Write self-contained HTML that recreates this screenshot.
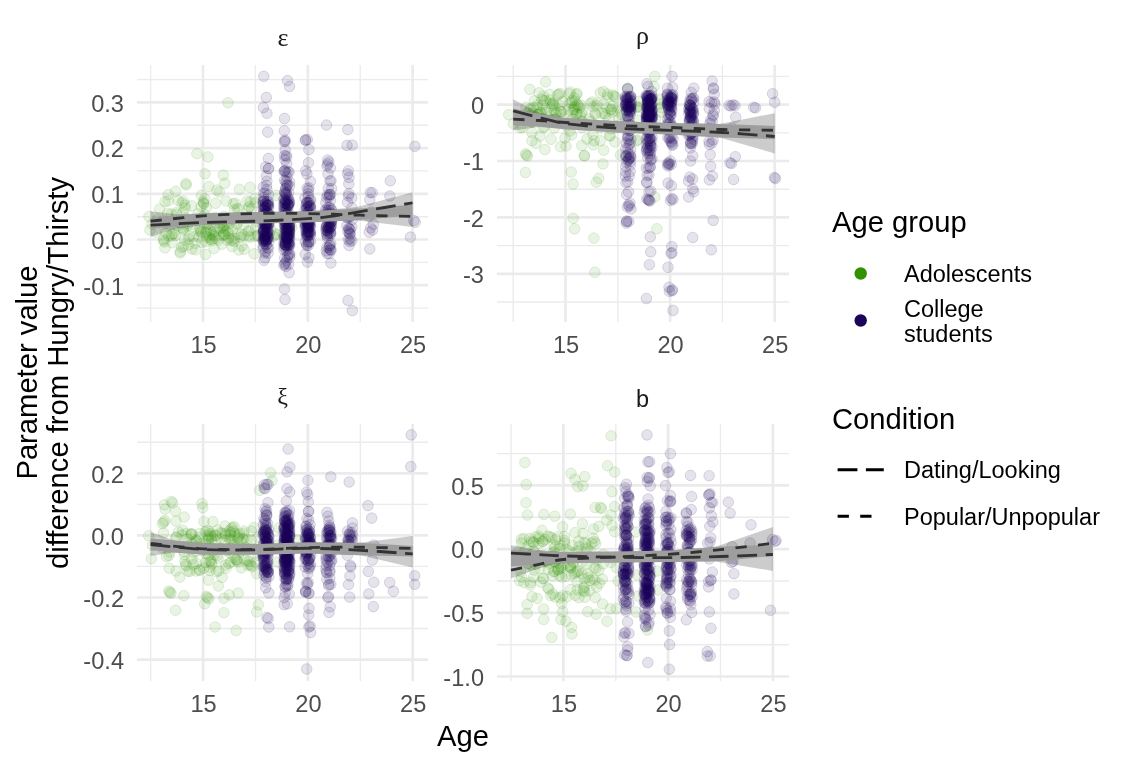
<!DOCTYPE html>
<html><head><meta charset="utf-8"><title>Parameter value difference by age</title>
<style>
html,body{margin:0;padding:0;background:#fff;}
svg{display:block;will-change:transform;}
text{font-family:"Liberation Sans",sans-serif;}
.tk{font-size:23.6px;fill:#4D4D4D;}
.ti{font-size:29.2px;fill:#000;}
.lg{font-size:23.5px;fill:#000;}
.st{font-size:23.5px;fill:#1A1A1A;}
.sy{font-family:"Liberation Serif",serif;font-size:26px;fill:#1A1A1A;}
</style></head><body>
<svg width="1128" height="768" viewBox="0 0 1128 768">
<rect width="1128" height="768" fill="#fff"/>
<!-- panel eps -->
<line x1="150.6" y1="65" x2="150.6" y2="322" stroke="#EBEBEB" stroke-width="1.35"/>
<line x1="255.4" y1="65" x2="255.4" y2="322" stroke="#EBEBEB" stroke-width="1.35"/>
<line x1="360.2" y1="65" x2="360.2" y2="322" stroke="#EBEBEB" stroke-width="1.35"/>
<line x1="137" y1="308.1" x2="428" y2="308.1" stroke="#EBEBEB" stroke-width="1.35"/>
<line x1="137" y1="262.4" x2="428" y2="262.4" stroke="#EBEBEB" stroke-width="1.35"/>
<line x1="137" y1="216.7" x2="428" y2="216.7" stroke="#EBEBEB" stroke-width="1.35"/>
<line x1="137" y1="170.9" x2="428" y2="170.9" stroke="#EBEBEB" stroke-width="1.35"/>
<line x1="137" y1="125.2" x2="428" y2="125.2" stroke="#EBEBEB" stroke-width="1.35"/>
<line x1="137" y1="79.6" x2="428" y2="79.6" stroke="#EBEBEB" stroke-width="1.35"/>
<line x1="203.0" y1="65" x2="203.0" y2="322" stroke="#EBEBEB" stroke-width="2.7"/>
<line x1="307.8" y1="65" x2="307.8" y2="322" stroke="#EBEBEB" stroke-width="2.7"/>
<line x1="412.6" y1="65" x2="412.6" y2="322" stroke="#EBEBEB" stroke-width="2.7"/>
<line x1="137" y1="285.2" x2="428" y2="285.2" stroke="#EBEBEB" stroke-width="2.7"/>
<line x1="137" y1="239.5" x2="428" y2="239.5" stroke="#EBEBEB" stroke-width="2.7"/>
<line x1="137" y1="193.8" x2="428" y2="193.8" stroke="#EBEBEB" stroke-width="2.7"/>
<line x1="137" y1="148.1" x2="428" y2="148.1" stroke="#EBEBEB" stroke-width="2.7"/>
<line x1="137" y1="102.4" x2="428" y2="102.4" stroke="#EBEBEB" stroke-width="2.7"/>
<g fill="#309200" fill-opacity="0.1" stroke="#309200" stroke-opacity="0.14" stroke-width="1">
<circle cx="227.9" cy="102.7" r="5.3"/>
<circle cx="196.9" cy="153.6" r="5.3"/>
<circle cx="207.9" cy="156.9" r="5.3"/>
<circle cx="205.0" cy="173.8" r="5.3"/>
<circle cx="223.3" cy="175.1" r="5.3"/>
<circle cx="185.9" cy="183.6" r="5.3"/>
<circle cx="224.8" cy="183.3" r="5.3"/>
<circle cx="186.2" cy="185.0" r="5.3"/>
<circle cx="175.6" cy="191.3" r="5.3"/>
<circle cx="168.3" cy="194.6" r="5.3"/>
<circle cx="178.2" cy="200.6" r="5.3"/>
<circle cx="159.6" cy="209.2" r="5.3"/>
<circle cx="149.0" cy="216.5" r="5.3"/>
<circle cx="208.8" cy="186.6" r="5.3"/>
<circle cx="216.8" cy="190.0" r="5.3"/>
<circle cx="219.4" cy="192.0" r="5.3"/>
<circle cx="201.5" cy="195.3" r="5.3"/>
<circle cx="203.5" cy="203.2" r="5.3"/>
<circle cx="191.5" cy="205.9" r="5.3"/>
<circle cx="215.5" cy="203.2" r="5.3"/>
<circle cx="235.4" cy="203.2" r="5.3"/>
<circle cx="239.4" cy="189.3" r="5.3"/>
<circle cx="250.0" cy="187.3" r="5.3"/>
<circle cx="250.0" cy="202.0" r="5.3"/>
<circle cx="182.9" cy="212.6" r="5.3"/>
<circle cx="163.6" cy="239.1" r="5.3"/>
<circle cx="163.6" cy="240.5" r="5.3"/>
<circle cx="164.5" cy="242.0" r="5.3"/>
<circle cx="164.9" cy="247.8" r="5.3"/>
<circle cx="180.2" cy="253.1" r="5.3"/>
<circle cx="180.2" cy="251.5" r="5.3"/>
<circle cx="195.5" cy="249.8" r="5.3"/>
<circle cx="205.5" cy="254.4" r="5.3"/>
<circle cx="214.1" cy="248.5" r="5.3"/>
<circle cx="232.1" cy="246.5" r="5.3"/>
<circle cx="242.0" cy="245.8" r="5.3"/>
<circle cx="254.0" cy="253.8" r="5.3"/>
<circle cx="276.0" cy="195.3" r="5.3"/>
<circle cx="276.0" cy="233.8" r="5.3"/>
<circle cx="150.0" cy="230.0" r="5.3"/>
<circle cx="152.0" cy="224.0" r="5.3"/>
<circle cx="157.0" cy="220.0" r="5.3"/>
<circle cx="156.0" cy="232.0" r="5.3"/>
<circle cx="240.2" cy="237.3" r="5.3"/>
<circle cx="248.6" cy="236.0" r="5.3"/>
<circle cx="214.9" cy="236.1" r="5.3"/>
<circle cx="209.6" cy="237.8" r="5.3"/>
<circle cx="180.6" cy="223.6" r="5.3"/>
<circle cx="222.0" cy="223.0" r="5.3"/>
<circle cx="229.2" cy="223.5" r="5.3"/>
<circle cx="198.4" cy="230.9" r="5.3"/>
<circle cx="164.2" cy="224.2" r="5.3"/>
<circle cx="237.2" cy="223.3" r="5.3"/>
<circle cx="220.1" cy="223.0" r="5.3"/>
<circle cx="172.0" cy="234.1" r="5.3"/>
<circle cx="223.8" cy="234.1" r="5.3"/>
<circle cx="228.6" cy="233.5" r="5.3"/>
<circle cx="222.1" cy="227.3" r="5.3"/>
<circle cx="187.3" cy="225.9" r="5.3"/>
<circle cx="234.6" cy="238.3" r="5.3"/>
<circle cx="200.9" cy="231.6" r="5.3"/>
<circle cx="218.4" cy="240.0" r="5.3"/>
<circle cx="207.1" cy="223.3" r="5.3"/>
<circle cx="182.2" cy="227.5" r="5.3"/>
<circle cx="209.4" cy="234.8" r="5.3"/>
<circle cx="231.7" cy="240.6" r="5.3"/>
<circle cx="177.8" cy="225.5" r="5.3"/>
<circle cx="206.7" cy="236.8" r="5.3"/>
<circle cx="173.8" cy="224.3" r="5.3"/>
<circle cx="199.2" cy="236.9" r="5.3"/>
<circle cx="210.7" cy="239.5" r="5.3"/>
<circle cx="171.5" cy="235.8" r="5.3"/>
<circle cx="248.9" cy="230.5" r="5.3"/>
<circle cx="183.4" cy="229.7" r="5.3"/>
<circle cx="224.7" cy="234.7" r="5.3"/>
<circle cx="224.0" cy="225.6" r="5.3"/>
<circle cx="216.4" cy="238.3" r="5.3"/>
<circle cx="237.6" cy="234.2" r="5.3"/>
<circle cx="257.6" cy="235.8" r="5.3"/>
<circle cx="255.3" cy="236.3" r="5.3"/>
<circle cx="167.7" cy="223.7" r="5.3"/>
<circle cx="183.3" cy="228.5" r="5.3"/>
<circle cx="208.7" cy="223.5" r="5.3"/>
<circle cx="189.2" cy="236.4" r="5.3"/>
<circle cx="227.7" cy="230.6" r="5.3"/>
<circle cx="243.8" cy="235.8" r="5.3"/>
<circle cx="212.3" cy="238.8" r="5.3"/>
<circle cx="166.2" cy="232.9" r="5.3"/>
<circle cx="188.7" cy="238.9" r="5.3"/>
<circle cx="219.9" cy="228.6" r="5.3"/>
<circle cx="213.1" cy="234.8" r="5.3"/>
<circle cx="210.5" cy="224.8" r="5.3"/>
<circle cx="243.8" cy="224.7" r="5.3"/>
<circle cx="200.1" cy="228.1" r="5.3"/>
<circle cx="255.7" cy="228.0" r="5.3"/>
<circle cx="236.7" cy="224.1" r="5.3"/>
<circle cx="175.2" cy="235.4" r="5.3"/>
<circle cx="173.9" cy="233.7" r="5.3"/>
<circle cx="217.8" cy="228.1" r="5.3"/>
<circle cx="223.5" cy="233.4" r="5.3"/>
<circle cx="232.5" cy="229.4" r="5.3"/>
<circle cx="206.5" cy="231.1" r="5.3"/>
<circle cx="193.4" cy="236.7" r="5.3"/>
<circle cx="258.0" cy="235.6" r="5.3"/>
<circle cx="200.0" cy="229.3" r="5.3"/>
<circle cx="210.6" cy="230.5" r="5.3"/>
<circle cx="184.5" cy="240.2" r="5.3"/>
<circle cx="223.6" cy="228.3" r="5.3"/>
<circle cx="250.1" cy="237.2" r="5.3"/>
<circle cx="169.0" cy="236.3" r="5.3"/>
<circle cx="206.7" cy="224.4" r="5.3"/>
<circle cx="188.0" cy="223.6" r="5.3"/>
<circle cx="241.6" cy="234.4" r="5.3"/>
<circle cx="225.8" cy="231.3" r="5.3"/>
<circle cx="201.1" cy="232.1" r="5.3"/>
<circle cx="189.5" cy="225.3" r="5.3"/>
<circle cx="232.9" cy="239.8" r="5.3"/>
<circle cx="205.9" cy="232.8" r="5.3"/>
<circle cx="227.3" cy="240.1" r="5.3"/>
<circle cx="212.0" cy="240.7" r="5.3"/>
<circle cx="248.3" cy="231.7" r="5.3"/>
<circle cx="213.9" cy="231.7" r="5.3"/>
<circle cx="222.9" cy="235.4" r="5.3"/>
<circle cx="228.7" cy="238.0" r="5.3"/>
<circle cx="211.7" cy="232.9" r="5.3"/>
<circle cx="255.6" cy="202.7" r="5.3"/>
<circle cx="247.0" cy="201.3" r="5.3"/>
<circle cx="176.8" cy="214.3" r="5.3"/>
<circle cx="176.2" cy="212.7" r="5.3"/>
<circle cx="226.2" cy="201.1" r="5.3"/>
<circle cx="237.4" cy="208.6" r="5.3"/>
<circle cx="254.8" cy="198.3" r="5.3"/>
<circle cx="167.7" cy="213.5" r="5.3"/>
<circle cx="185.2" cy="208.1" r="5.3"/>
<circle cx="249.1" cy="206.6" r="5.3"/>
<circle cx="165.0" cy="201.6" r="5.3"/>
<circle cx="214.4" cy="217.4" r="5.3"/>
<circle cx="234.3" cy="209.8" r="5.3"/>
<circle cx="183.5" cy="201.2" r="5.3"/>
<circle cx="181.9" cy="203.0" r="5.3"/>
<circle cx="248.9" cy="208.2" r="5.3"/>
<circle cx="171.4" cy="214.0" r="5.3"/>
<circle cx="204.8" cy="198.7" r="5.3"/>
<circle cx="256.0" cy="221.7" r="5.3"/>
<circle cx="185.7" cy="218.8" r="5.3"/>
<circle cx="204.6" cy="214.8" r="5.3"/>
<circle cx="224.0" cy="216.3" r="5.3"/>
<circle cx="203.2" cy="201.7" r="5.3"/>
<circle cx="238.8" cy="209.0" r="5.3"/>
<circle cx="203.3" cy="217.0" r="5.3"/>
<circle cx="227.2" cy="222.7" r="5.3"/>
<circle cx="198.0" cy="213.9" r="5.3"/>
<circle cx="168.2" cy="200.8" r="5.3"/>
<circle cx="185.0" cy="205.0" r="5.3"/>
<circle cx="203.7" cy="203.7" r="5.3"/>
<circle cx="251.7" cy="208.7" r="5.3"/>
<circle cx="197.5" cy="220.6" r="5.3"/>
<circle cx="238.0" cy="217.3" r="5.3"/>
<circle cx="249.6" cy="216.4" r="5.3"/>
<circle cx="190.0" cy="222.0" r="5.3"/>
<circle cx="162.7" cy="220.4" r="5.3"/>
<circle cx="201.1" cy="206.4" r="5.3"/>
<circle cx="206.5" cy="208.0" r="5.3"/>
<circle cx="244.3" cy="218.2" r="5.3"/>
<circle cx="233.2" cy="203.8" r="5.3"/>
<circle cx="205.9" cy="241.7" r="5.3"/>
<circle cx="234.1" cy="241.4" r="5.3"/>
<circle cx="201.8" cy="242.4" r="5.3"/>
<circle cx="244.2" cy="249.3" r="5.3"/>
<circle cx="191.9" cy="248.9" r="5.3"/>
<circle cx="181.6" cy="247.4" r="5.3"/>
<circle cx="188.3" cy="245.0" r="5.3"/>
<circle cx="221.8" cy="244.2" r="5.3"/>
<circle cx="183.4" cy="246.3" r="5.3"/>
<circle cx="238.8" cy="250.0" r="5.3"/>
<circle cx="195.0" cy="243.3" r="5.3"/>
<circle cx="172.1" cy="242.8" r="5.3"/>
<circle cx="270.8" cy="230.0" r="5.3"/>
<circle cx="291.8" cy="227.3" r="5.3"/>
<circle cx="289.4" cy="230.9" r="5.3"/>
<circle cx="276.9" cy="234.7" r="5.3"/>
<circle cx="283.1" cy="233.9" r="5.3"/>
<circle cx="273.5" cy="236.3" r="5.3"/>
</g>
<g fill="#1D0458" fill-opacity="0.11" stroke="#1D0458" stroke-opacity="0.14" stroke-width="1">
<circle cx="263.7" cy="193.0" r="5.3"/>
<circle cx="266.5" cy="185.5" r="5.3"/>
<circle cx="263.8" cy="199.9" r="5.3"/>
<circle cx="263.3" cy="187.1" r="5.3"/>
<circle cx="268.6" cy="195.0" r="5.3"/>
<circle cx="265.1" cy="193.2" r="5.3"/>
<circle cx="266.9" cy="189.4" r="5.3"/>
<circle cx="263.7" cy="197.6" r="5.3"/>
<circle cx="266.9" cy="211.8" r="5.3"/>
<circle cx="267.8" cy="212.5" r="5.3"/>
<circle cx="268.8" cy="205.3" r="5.3"/>
<circle cx="266.2" cy="211.2" r="5.3"/>
<circle cx="265.0" cy="213.4" r="5.3"/>
<circle cx="264.3" cy="217.8" r="5.3"/>
<circle cx="268.1" cy="203.7" r="5.3"/>
<circle cx="265.7" cy="206.8" r="5.3"/>
<circle cx="263.4" cy="219.8" r="5.3"/>
<circle cx="265.5" cy="204.1" r="5.3"/>
<circle cx="266.9" cy="205.2" r="5.3"/>
<circle cx="268.3" cy="205.6" r="5.3"/>
<circle cx="263.1" cy="205.2" r="5.3"/>
<circle cx="265.0" cy="210.8" r="5.3"/>
<circle cx="268.3" cy="215.6" r="5.3"/>
<circle cx="264.9" cy="201.4" r="5.3"/>
<circle cx="263.8" cy="221.9" r="5.3"/>
<circle cx="265.6" cy="215.5" r="5.3"/>
<circle cx="263.2" cy="201.7" r="5.3"/>
<circle cx="268.0" cy="213.3" r="5.3"/>
<circle cx="264.7" cy="207.7" r="5.3"/>
<circle cx="263.4" cy="204.6" r="5.3"/>
<circle cx="263.0" cy="218.6" r="5.3"/>
<circle cx="265.7" cy="203.7" r="5.3"/>
<circle cx="267.3" cy="205.1" r="5.3"/>
<circle cx="263.3" cy="213.6" r="5.3"/>
<circle cx="268.3" cy="201.6" r="5.3"/>
<circle cx="267.7" cy="205.0" r="5.3"/>
<circle cx="263.4" cy="201.4" r="5.3"/>
<circle cx="264.6" cy="216.3" r="5.3"/>
<circle cx="265.8" cy="218.9" r="5.3"/>
<circle cx="264.2" cy="207.6" r="5.3"/>
<circle cx="264.4" cy="221.5" r="5.3"/>
<circle cx="268.5" cy="208.2" r="5.3"/>
<circle cx="265.5" cy="207.6" r="5.3"/>
<circle cx="267.4" cy="201.8" r="5.3"/>
<circle cx="263.3" cy="209.5" r="5.3"/>
<circle cx="264.4" cy="218.7" r="5.3"/>
<circle cx="267.3" cy="212.5" r="5.3"/>
<circle cx="266.8" cy="215.5" r="5.3"/>
<circle cx="267.6" cy="220.5" r="5.3"/>
<circle cx="263.8" cy="214.1" r="5.3"/>
<circle cx="263.7" cy="210.3" r="5.3"/>
<circle cx="267.6" cy="219.8" r="5.3"/>
<circle cx="267.4" cy="222.8" r="5.3"/>
<circle cx="265.0" cy="225.6" r="5.3"/>
<circle cx="268.9" cy="225.2" r="5.3"/>
<circle cx="264.3" cy="229.9" r="5.3"/>
<circle cx="263.2" cy="241.1" r="5.3"/>
<circle cx="266.7" cy="225.5" r="5.3"/>
<circle cx="265.9" cy="223.7" r="5.3"/>
<circle cx="266.5" cy="227.1" r="5.3"/>
<circle cx="263.1" cy="224.5" r="5.3"/>
<circle cx="266.2" cy="236.0" r="5.3"/>
<circle cx="264.8" cy="236.2" r="5.3"/>
<circle cx="265.0" cy="224.9" r="5.3"/>
<circle cx="264.8" cy="230.7" r="5.3"/>
<circle cx="268.4" cy="224.5" r="5.3"/>
<circle cx="263.4" cy="234.4" r="5.3"/>
<circle cx="268.7" cy="242.0" r="5.3"/>
<circle cx="267.1" cy="223.5" r="5.3"/>
<circle cx="267.7" cy="237.0" r="5.3"/>
<circle cx="263.7" cy="232.2" r="5.3"/>
<circle cx="263.2" cy="239.6" r="5.3"/>
<circle cx="267.2" cy="239.7" r="5.3"/>
<circle cx="267.4" cy="227.9" r="5.3"/>
<circle cx="267.6" cy="227.5" r="5.3"/>
<circle cx="263.7" cy="230.6" r="5.3"/>
<circle cx="265.9" cy="228.3" r="5.3"/>
<circle cx="266.5" cy="235.3" r="5.3"/>
<circle cx="264.3" cy="235.7" r="5.3"/>
<circle cx="265.0" cy="238.2" r="5.3"/>
<circle cx="264.6" cy="239.6" r="5.3"/>
<circle cx="265.4" cy="234.2" r="5.3"/>
<circle cx="266.9" cy="233.4" r="5.3"/>
<circle cx="264.4" cy="243.5" r="5.3"/>
<circle cx="263.5" cy="229.1" r="5.3"/>
<circle cx="266.2" cy="222.6" r="5.3"/>
<circle cx="263.8" cy="239.6" r="5.3"/>
<circle cx="267.6" cy="236.0" r="5.3"/>
<circle cx="268.3" cy="238.6" r="5.3"/>
<circle cx="264.7" cy="236.2" r="5.3"/>
<circle cx="264.9" cy="238.5" r="5.3"/>
<circle cx="265.2" cy="225.4" r="5.3"/>
<circle cx="268.1" cy="237.2" r="5.3"/>
<circle cx="267.3" cy="234.3" r="5.3"/>
<circle cx="267.6" cy="231.9" r="5.3"/>
<circle cx="266.3" cy="223.4" r="5.3"/>
<circle cx="266.2" cy="239.9" r="5.3"/>
<circle cx="267.1" cy="239.7" r="5.3"/>
<circle cx="265.9" cy="241.4" r="5.3"/>
<circle cx="263.5" cy="241.3" r="5.3"/>
<circle cx="265.1" cy="224.0" r="5.3"/>
<circle cx="266.6" cy="232.0" r="5.3"/>
<circle cx="265.5" cy="240.7" r="5.3"/>
<circle cx="263.7" cy="235.6" r="5.3"/>
<circle cx="265.4" cy="233.6" r="5.3"/>
<circle cx="265.9" cy="225.0" r="5.3"/>
<circle cx="266.0" cy="241.0" r="5.3"/>
<circle cx="263.9" cy="222.3" r="5.3"/>
<circle cx="263.3" cy="232.1" r="5.3"/>
<circle cx="268.7" cy="223.0" r="5.3"/>
<circle cx="268.8" cy="233.8" r="5.3"/>
<circle cx="263.6" cy="231.2" r="5.3"/>
<circle cx="264.1" cy="237.7" r="5.3"/>
<circle cx="266.1" cy="228.3" r="5.3"/>
<circle cx="264.4" cy="241.1" r="5.3"/>
<circle cx="267.5" cy="231.6" r="5.3"/>
<circle cx="265.3" cy="238.2" r="5.3"/>
<circle cx="268.7" cy="223.8" r="5.3"/>
<circle cx="263.8" cy="230.0" r="5.3"/>
<circle cx="265.9" cy="244.7" r="5.3"/>
<circle cx="263.2" cy="246.2" r="5.3"/>
<circle cx="265.2" cy="251.4" r="5.3"/>
<circle cx="266.5" cy="244.3" r="5.3"/>
<circle cx="263.2" cy="248.5" r="5.3"/>
<circle cx="268.1" cy="253.1" r="5.3"/>
<circle cx="265.1" cy="252.9" r="5.3"/>
<circle cx="268.5" cy="248.1" r="5.3"/>
<circle cx="267.4" cy="247.7" r="5.3"/>
<circle cx="263.8" cy="76.3" r="5.3"/>
<circle cx="266.3" cy="97.4" r="5.3"/>
<circle cx="263.4" cy="107.5" r="5.3"/>
<circle cx="266.9" cy="113.3" r="5.3"/>
<circle cx="267.7" cy="132.1" r="5.3"/>
<circle cx="268.4" cy="158.4" r="5.3"/>
<circle cx="265.6" cy="166.9" r="5.3"/>
<circle cx="268.3" cy="168.7" r="5.3"/>
<circle cx="268.7" cy="168.5" r="5.3"/>
<circle cx="266.4" cy="176.0" r="5.3"/>
<circle cx="266.9" cy="181.3" r="5.3"/>
<circle cx="265.1" cy="257.7" r="5.3"/>
<circle cx="264.0" cy="260.3" r="5.3"/>
<circle cx="285.6" cy="188.6" r="5.3"/>
<circle cx="285.8" cy="188.3" r="5.3"/>
<circle cx="286.9" cy="185.4" r="5.3"/>
<circle cx="289.6" cy="182.0" r="5.3"/>
<circle cx="286.8" cy="181.9" r="5.3"/>
<circle cx="289.5" cy="185.9" r="5.3"/>
<circle cx="285.8" cy="182.0" r="5.3"/>
<circle cx="287.4" cy="184.8" r="5.3"/>
<circle cx="284.6" cy="180.4" r="5.3"/>
<circle cx="286.2" cy="208.9" r="5.3"/>
<circle cx="287.0" cy="218.1" r="5.3"/>
<circle cx="289.3" cy="219.2" r="5.3"/>
<circle cx="288.6" cy="205.9" r="5.3"/>
<circle cx="287.0" cy="203.5" r="5.3"/>
<circle cx="286.2" cy="193.2" r="5.3"/>
<circle cx="288.6" cy="199.1" r="5.3"/>
<circle cx="284.0" cy="205.5" r="5.3"/>
<circle cx="288.1" cy="204.6" r="5.3"/>
<circle cx="286.0" cy="211.1" r="5.3"/>
<circle cx="284.8" cy="192.3" r="5.3"/>
<circle cx="287.4" cy="207.4" r="5.3"/>
<circle cx="289.0" cy="204.1" r="5.3"/>
<circle cx="288.6" cy="192.5" r="5.3"/>
<circle cx="284.0" cy="209.4" r="5.3"/>
<circle cx="285.2" cy="194.0" r="5.3"/>
<circle cx="284.6" cy="202.9" r="5.3"/>
<circle cx="285.9" cy="208.3" r="5.3"/>
<circle cx="289.2" cy="202.6" r="5.3"/>
<circle cx="284.9" cy="208.8" r="5.3"/>
<circle cx="283.9" cy="203.2" r="5.3"/>
<circle cx="285.7" cy="203.2" r="5.3"/>
<circle cx="284.1" cy="208.1" r="5.3"/>
<circle cx="287.6" cy="213.7" r="5.3"/>
<circle cx="289.6" cy="202.3" r="5.3"/>
<circle cx="287.8" cy="204.8" r="5.3"/>
<circle cx="285.1" cy="217.8" r="5.3"/>
<circle cx="288.3" cy="219.3" r="5.3"/>
<circle cx="288.8" cy="218.6" r="5.3"/>
<circle cx="284.6" cy="192.5" r="5.3"/>
<circle cx="285.0" cy="204.0" r="5.3"/>
<circle cx="288.0" cy="204.7" r="5.3"/>
<circle cx="286.9" cy="214.1" r="5.3"/>
<circle cx="284.3" cy="211.7" r="5.3"/>
<circle cx="284.1" cy="199.2" r="5.3"/>
<circle cx="288.2" cy="211.8" r="5.3"/>
<circle cx="286.3" cy="200.5" r="5.3"/>
<circle cx="288.8" cy="200.0" r="5.3"/>
<circle cx="284.0" cy="199.2" r="5.3"/>
<circle cx="284.0" cy="215.5" r="5.3"/>
<circle cx="284.6" cy="220.2" r="5.3"/>
<circle cx="285.1" cy="200.9" r="5.3"/>
<circle cx="287.4" cy="200.9" r="5.3"/>
<circle cx="286.1" cy="195.0" r="5.3"/>
<circle cx="286.2" cy="192.7" r="5.3"/>
<circle cx="285.2" cy="218.4" r="5.3"/>
<circle cx="285.5" cy="199.9" r="5.3"/>
<circle cx="287.9" cy="217.6" r="5.3"/>
<circle cx="285.6" cy="202.9" r="5.3"/>
<circle cx="288.1" cy="215.0" r="5.3"/>
<circle cx="287.5" cy="197.2" r="5.3"/>
<circle cx="284.9" cy="214.0" r="5.3"/>
<circle cx="288.1" cy="218.0" r="5.3"/>
<circle cx="288.5" cy="204.2" r="5.3"/>
<circle cx="284.6" cy="217.8" r="5.3"/>
<circle cx="288.0" cy="235.4" r="5.3"/>
<circle cx="287.9" cy="230.6" r="5.3"/>
<circle cx="285.9" cy="235.4" r="5.3"/>
<circle cx="286.7" cy="238.7" r="5.3"/>
<circle cx="289.5" cy="242.2" r="5.3"/>
<circle cx="286.2" cy="230.3" r="5.3"/>
<circle cx="289.4" cy="230.9" r="5.3"/>
<circle cx="288.6" cy="223.3" r="5.3"/>
<circle cx="286.5" cy="233.9" r="5.3"/>
<circle cx="288.7" cy="242.9" r="5.3"/>
<circle cx="284.8" cy="236.4" r="5.3"/>
<circle cx="287.6" cy="224.8" r="5.3"/>
<circle cx="288.8" cy="234.8" r="5.3"/>
<circle cx="289.6" cy="225.7" r="5.3"/>
<circle cx="287.0" cy="229.1" r="5.3"/>
<circle cx="287.7" cy="236.2" r="5.3"/>
<circle cx="286.9" cy="229.1" r="5.3"/>
<circle cx="286.9" cy="230.3" r="5.3"/>
<circle cx="289.2" cy="232.5" r="5.3"/>
<circle cx="286.7" cy="227.5" r="5.3"/>
<circle cx="285.4" cy="244.8" r="5.3"/>
<circle cx="285.7" cy="242.7" r="5.3"/>
<circle cx="287.4" cy="245.5" r="5.3"/>
<circle cx="284.8" cy="244.5" r="5.3"/>
<circle cx="288.5" cy="235.2" r="5.3"/>
<circle cx="288.1" cy="239.1" r="5.3"/>
<circle cx="286.5" cy="236.9" r="5.3"/>
<circle cx="285.2" cy="221.5" r="5.3"/>
<circle cx="287.9" cy="232.9" r="5.3"/>
<circle cx="289.3" cy="227.6" r="5.3"/>
<circle cx="288.7" cy="245.7" r="5.3"/>
<circle cx="289.2" cy="245.1" r="5.3"/>
<circle cx="284.8" cy="225.1" r="5.3"/>
<circle cx="285.2" cy="230.0" r="5.3"/>
<circle cx="284.5" cy="224.8" r="5.3"/>
<circle cx="284.0" cy="244.3" r="5.3"/>
<circle cx="286.0" cy="236.7" r="5.3"/>
<circle cx="286.6" cy="239.6" r="5.3"/>
<circle cx="288.7" cy="230.6" r="5.3"/>
<circle cx="287.1" cy="223.4" r="5.3"/>
<circle cx="285.6" cy="226.6" r="5.3"/>
<circle cx="285.7" cy="229.1" r="5.3"/>
<circle cx="287.3" cy="229.3" r="5.3"/>
<circle cx="285.8" cy="241.8" r="5.3"/>
<circle cx="283.9" cy="221.1" r="5.3"/>
<circle cx="284.2" cy="242.6" r="5.3"/>
<circle cx="287.6" cy="239.2" r="5.3"/>
<circle cx="289.6" cy="226.5" r="5.3"/>
<circle cx="289.4" cy="227.1" r="5.3"/>
<circle cx="287.0" cy="238.0" r="5.3"/>
<circle cx="288.6" cy="227.2" r="5.3"/>
<circle cx="286.7" cy="222.1" r="5.3"/>
<circle cx="285.6" cy="245.5" r="5.3"/>
<circle cx="289.3" cy="235.6" r="5.3"/>
<circle cx="288.6" cy="243.6" r="5.3"/>
<circle cx="285.8" cy="245.5" r="5.3"/>
<circle cx="286.5" cy="225.0" r="5.3"/>
<circle cx="287.0" cy="235.8" r="5.3"/>
<circle cx="288.0" cy="237.8" r="5.3"/>
<circle cx="284.1" cy="237.0" r="5.3"/>
<circle cx="289.4" cy="237.8" r="5.3"/>
<circle cx="289.7" cy="233.8" r="5.3"/>
<circle cx="288.7" cy="224.5" r="5.3"/>
<circle cx="289.2" cy="231.9" r="5.3"/>
<circle cx="289.1" cy="229.0" r="5.3"/>
<circle cx="287.6" cy="242.2" r="5.3"/>
<circle cx="288.1" cy="236.5" r="5.3"/>
<circle cx="289.7" cy="223.2" r="5.3"/>
<circle cx="284.5" cy="234.8" r="5.3"/>
<circle cx="289.6" cy="238.2" r="5.3"/>
<circle cx="285.7" cy="223.7" r="5.3"/>
<circle cx="286.5" cy="233.0" r="5.3"/>
<circle cx="286.6" cy="236.5" r="5.3"/>
<circle cx="285.5" cy="243.0" r="5.3"/>
<circle cx="285.6" cy="223.7" r="5.3"/>
<circle cx="285.9" cy="244.4" r="5.3"/>
<circle cx="284.8" cy="227.9" r="5.3"/>
<circle cx="289.4" cy="229.7" r="5.3"/>
<circle cx="288.9" cy="222.1" r="5.3"/>
<circle cx="289.2" cy="226.9" r="5.3"/>
<circle cx="284.9" cy="239.6" r="5.3"/>
<circle cx="289.8" cy="245.0" r="5.3"/>
<circle cx="288.4" cy="243.9" r="5.3"/>
<circle cx="289.8" cy="253.7" r="5.3"/>
<circle cx="284.7" cy="257.9" r="5.3"/>
<circle cx="286.2" cy="250.4" r="5.3"/>
<circle cx="286.8" cy="246.5" r="5.3"/>
<circle cx="284.0" cy="249.7" r="5.3"/>
<circle cx="287.4" cy="256.5" r="5.3"/>
<circle cx="289.6" cy="257.5" r="5.3"/>
<circle cx="289.5" cy="254.9" r="5.3"/>
<circle cx="288.2" cy="254.2" r="5.3"/>
<circle cx="284.3" cy="246.9" r="5.3"/>
<circle cx="288.4" cy="248.8" r="5.3"/>
<circle cx="288.6" cy="264.2" r="5.3"/>
<circle cx="283.9" cy="265.1" r="5.3"/>
<circle cx="286.5" cy="260.7" r="5.3"/>
<circle cx="285.4" cy="262.8" r="5.3"/>
<circle cx="285.9" cy="266.4" r="5.3"/>
<circle cx="284.8" cy="264.0" r="5.3"/>
<circle cx="287.5" cy="80.6" r="5.3"/>
<circle cx="289.5" cy="86.4" r="5.3"/>
<circle cx="284.5" cy="118.4" r="5.3"/>
<circle cx="284.3" cy="130.8" r="5.3"/>
<circle cx="285.0" cy="140.0" r="5.3"/>
<circle cx="285.2" cy="141.5" r="5.3"/>
<circle cx="284.3" cy="141.6" r="5.3"/>
<circle cx="285.2" cy="150.0" r="5.3"/>
<circle cx="286.7" cy="156.7" r="5.3"/>
<circle cx="286.0" cy="155.5" r="5.3"/>
<circle cx="284.4" cy="155.7" r="5.3"/>
<circle cx="284.9" cy="159.8" r="5.3"/>
<circle cx="286.7" cy="163.7" r="5.3"/>
<circle cx="289.1" cy="172.1" r="5.3"/>
<circle cx="285.1" cy="170.5" r="5.3"/>
<circle cx="284.2" cy="171.4" r="5.3"/>
<circle cx="286.0" cy="172.0" r="5.3"/>
<circle cx="284.3" cy="171.0" r="5.3"/>
<circle cx="288.0" cy="171.8" r="5.3"/>
<circle cx="286.9" cy="177.0" r="5.3"/>
<circle cx="289.2" cy="272.6" r="5.3"/>
<circle cx="284.5" cy="289.0" r="5.3"/>
<circle cx="285.0" cy="299.5" r="5.3"/>
<circle cx="308.2" cy="193.9" r="5.3"/>
<circle cx="310.7" cy="199.7" r="5.3"/>
<circle cx="308.3" cy="196.6" r="5.3"/>
<circle cx="309.0" cy="187.9" r="5.3"/>
<circle cx="308.4" cy="190.3" r="5.3"/>
<circle cx="307.0" cy="188.2" r="5.3"/>
<circle cx="304.9" cy="198.0" r="5.3"/>
<circle cx="309.1" cy="216.5" r="5.3"/>
<circle cx="306.5" cy="209.2" r="5.3"/>
<circle cx="305.9" cy="213.2" r="5.3"/>
<circle cx="309.8" cy="217.1" r="5.3"/>
<circle cx="310.4" cy="205.7" r="5.3"/>
<circle cx="309.0" cy="202.8" r="5.3"/>
<circle cx="308.0" cy="202.4" r="5.3"/>
<circle cx="308.0" cy="211.9" r="5.3"/>
<circle cx="306.9" cy="207.7" r="5.3"/>
<circle cx="309.1" cy="210.6" r="5.3"/>
<circle cx="307.2" cy="202.5" r="5.3"/>
<circle cx="306.5" cy="218.6" r="5.3"/>
<circle cx="310.6" cy="208.2" r="5.3"/>
<circle cx="310.0" cy="219.2" r="5.3"/>
<circle cx="306.1" cy="206.0" r="5.3"/>
<circle cx="309.0" cy="206.7" r="5.3"/>
<circle cx="310.5" cy="208.0" r="5.3"/>
<circle cx="309.2" cy="215.6" r="5.3"/>
<circle cx="306.1" cy="219.1" r="5.3"/>
<circle cx="306.8" cy="202.4" r="5.3"/>
<circle cx="305.1" cy="209.9" r="5.3"/>
<circle cx="308.6" cy="206.0" r="5.3"/>
<circle cx="309.9" cy="205.9" r="5.3"/>
<circle cx="309.9" cy="200.7" r="5.3"/>
<circle cx="306.4" cy="203.5" r="5.3"/>
<circle cx="307.5" cy="207.7" r="5.3"/>
<circle cx="307.2" cy="218.7" r="5.3"/>
<circle cx="308.3" cy="213.3" r="5.3"/>
<circle cx="307.1" cy="217.8" r="5.3"/>
<circle cx="307.8" cy="234.7" r="5.3"/>
<circle cx="310.3" cy="232.4" r="5.3"/>
<circle cx="307.4" cy="226.5" r="5.3"/>
<circle cx="310.3" cy="235.0" r="5.3"/>
<circle cx="309.6" cy="225.8" r="5.3"/>
<circle cx="307.4" cy="237.0" r="5.3"/>
<circle cx="306.3" cy="235.8" r="5.3"/>
<circle cx="308.0" cy="225.7" r="5.3"/>
<circle cx="307.1" cy="223.3" r="5.3"/>
<circle cx="308.8" cy="234.4" r="5.3"/>
<circle cx="305.0" cy="227.1" r="5.3"/>
<circle cx="309.4" cy="225.4" r="5.3"/>
<circle cx="308.0" cy="235.7" r="5.3"/>
<circle cx="308.2" cy="224.1" r="5.3"/>
<circle cx="310.3" cy="234.7" r="5.3"/>
<circle cx="308.2" cy="227.7" r="5.3"/>
<circle cx="308.3" cy="228.7" r="5.3"/>
<circle cx="305.5" cy="224.1" r="5.3"/>
<circle cx="305.1" cy="224.9" r="5.3"/>
<circle cx="306.3" cy="232.8" r="5.3"/>
<circle cx="308.3" cy="232.0" r="5.3"/>
<circle cx="309.7" cy="223.6" r="5.3"/>
<circle cx="307.1" cy="223.3" r="5.3"/>
<circle cx="307.3" cy="223.3" r="5.3"/>
<circle cx="305.2" cy="223.8" r="5.3"/>
<circle cx="307.1" cy="235.0" r="5.3"/>
<circle cx="306.5" cy="234.6" r="5.3"/>
<circle cx="306.2" cy="226.9" r="5.3"/>
<circle cx="307.6" cy="223.3" r="5.3"/>
<circle cx="307.5" cy="231.9" r="5.3"/>
<circle cx="309.7" cy="223.0" r="5.3"/>
<circle cx="309.6" cy="231.7" r="5.3"/>
<circle cx="308.3" cy="222.9" r="5.3"/>
<circle cx="310.1" cy="226.7" r="5.3"/>
<circle cx="308.1" cy="231.2" r="5.3"/>
<circle cx="310.3" cy="232.2" r="5.3"/>
<circle cx="310.7" cy="225.9" r="5.3"/>
<circle cx="308.8" cy="231.8" r="5.3"/>
<circle cx="307.9" cy="232.7" r="5.3"/>
<circle cx="308.1" cy="227.7" r="5.3"/>
<circle cx="308.6" cy="223.4" r="5.3"/>
<circle cx="307.7" cy="229.7" r="5.3"/>
<circle cx="306.1" cy="231.7" r="5.3"/>
<circle cx="308.8" cy="224.1" r="5.3"/>
<circle cx="306.6" cy="223.1" r="5.3"/>
<circle cx="308.4" cy="223.4" r="5.3"/>
<circle cx="306.2" cy="229.6" r="5.3"/>
<circle cx="307.5" cy="222.6" r="5.3"/>
<circle cx="310.5" cy="241.5" r="5.3"/>
<circle cx="308.5" cy="241.4" r="5.3"/>
<circle cx="308.4" cy="242.9" r="5.3"/>
<circle cx="306.7" cy="244.2" r="5.3"/>
<circle cx="308.3" cy="245.6" r="5.3"/>
<circle cx="308.9" cy="242.0" r="5.3"/>
<circle cx="305.3" cy="241.8" r="5.3"/>
<circle cx="306.8" cy="245.7" r="5.3"/>
<circle cx="307.3" cy="139.5" r="5.3"/>
<circle cx="305.4" cy="140.2" r="5.3"/>
<circle cx="305.5" cy="140.0" r="5.3"/>
<circle cx="308.9" cy="149.6" r="5.3"/>
<circle cx="308.5" cy="162.8" r="5.3"/>
<circle cx="305.8" cy="170.7" r="5.3"/>
<circle cx="306.9" cy="173.9" r="5.3"/>
<circle cx="310.4" cy="181.3" r="5.3"/>
<circle cx="305.3" cy="254.2" r="5.3"/>
<circle cx="308.9" cy="257.7" r="5.3"/>
<circle cx="307.4" cy="262.0" r="5.3"/>
<circle cx="329.4" cy="194.7" r="5.3"/>
<circle cx="326.5" cy="197.6" r="5.3"/>
<circle cx="325.8" cy="202.7" r="5.3"/>
<circle cx="330.6" cy="194.4" r="5.3"/>
<circle cx="329.0" cy="197.0" r="5.3"/>
<circle cx="331.6" cy="188.7" r="5.3"/>
<circle cx="327.5" cy="194.9" r="5.3"/>
<circle cx="330.5" cy="200.4" r="5.3"/>
<circle cx="328.3" cy="188.2" r="5.3"/>
<circle cx="329.6" cy="194.9" r="5.3"/>
<circle cx="326.5" cy="215.7" r="5.3"/>
<circle cx="328.4" cy="210.2" r="5.3"/>
<circle cx="327.4" cy="213.9" r="5.3"/>
<circle cx="327.2" cy="211.7" r="5.3"/>
<circle cx="331.4" cy="213.1" r="5.3"/>
<circle cx="327.3" cy="213.9" r="5.3"/>
<circle cx="331.3" cy="219.7" r="5.3"/>
<circle cx="329.8" cy="220.3" r="5.3"/>
<circle cx="330.3" cy="216.6" r="5.3"/>
<circle cx="328.3" cy="207.5" r="5.3"/>
<circle cx="330.2" cy="215.8" r="5.3"/>
<circle cx="331.6" cy="210.5" r="5.3"/>
<circle cx="331.0" cy="208.7" r="5.3"/>
<circle cx="331.4" cy="221.9" r="5.3"/>
<circle cx="326.0" cy="210.5" r="5.3"/>
<circle cx="331.7" cy="221.5" r="5.3"/>
<circle cx="329.8" cy="207.3" r="5.3"/>
<circle cx="325.8" cy="209.2" r="5.3"/>
<circle cx="331.4" cy="218.7" r="5.3"/>
<circle cx="328.3" cy="233.4" r="5.3"/>
<circle cx="331.2" cy="226.5" r="5.3"/>
<circle cx="331.0" cy="226.0" r="5.3"/>
<circle cx="327.7" cy="222.7" r="5.3"/>
<circle cx="326.7" cy="230.3" r="5.3"/>
<circle cx="325.9" cy="230.2" r="5.3"/>
<circle cx="326.8" cy="233.2" r="5.3"/>
<circle cx="326.5" cy="225.1" r="5.3"/>
<circle cx="327.4" cy="230.7" r="5.3"/>
<circle cx="330.6" cy="233.3" r="5.3"/>
<circle cx="330.2" cy="232.2" r="5.3"/>
<circle cx="329.0" cy="227.1" r="5.3"/>
<circle cx="326.8" cy="235.0" r="5.3"/>
<circle cx="328.2" cy="231.8" r="5.3"/>
<circle cx="326.2" cy="227.4" r="5.3"/>
<circle cx="326.4" cy="227.3" r="5.3"/>
<circle cx="330.2" cy="227.1" r="5.3"/>
<circle cx="329.9" cy="223.8" r="5.3"/>
<circle cx="328.1" cy="228.2" r="5.3"/>
<circle cx="328.8" cy="225.4" r="5.3"/>
<circle cx="330.0" cy="235.2" r="5.3"/>
<circle cx="330.6" cy="222.5" r="5.3"/>
<circle cx="328.7" cy="227.2" r="5.3"/>
<circle cx="329.2" cy="223.2" r="5.3"/>
<circle cx="330.1" cy="228.3" r="5.3"/>
<circle cx="331.4" cy="222.3" r="5.3"/>
<circle cx="328.3" cy="229.3" r="5.3"/>
<circle cx="330.7" cy="233.3" r="5.3"/>
<circle cx="326.9" cy="226.6" r="5.3"/>
<circle cx="330.2" cy="228.3" r="5.3"/>
<circle cx="327.3" cy="236.0" r="5.3"/>
<circle cx="330.8" cy="243.4" r="5.3"/>
<circle cx="329.1" cy="253.7" r="5.3"/>
<circle cx="327.1" cy="253.4" r="5.3"/>
<circle cx="331.1" cy="250.1" r="5.3"/>
<circle cx="329.9" cy="249.3" r="5.3"/>
<circle cx="329.0" cy="247.5" r="5.3"/>
<circle cx="326.9" cy="247.1" r="5.3"/>
<circle cx="329.8" cy="245.7" r="5.3"/>
<circle cx="329.8" cy="245.2" r="5.3"/>
<circle cx="330.6" cy="250.0" r="5.3"/>
<circle cx="326.3" cy="250.8" r="5.3"/>
<circle cx="327.5" cy="238.5" r="5.3"/>
<circle cx="326.5" cy="125.0" r="5.3"/>
<circle cx="327.7" cy="160.0" r="5.3"/>
<circle cx="328.9" cy="162.0" r="5.3"/>
<circle cx="327.7" cy="164.0" r="5.3"/>
<circle cx="327.0" cy="166.0" r="5.3"/>
<circle cx="330.4" cy="168.0" r="5.3"/>
<circle cx="328.0" cy="174.0" r="5.3"/>
<circle cx="331.0" cy="180.7" r="5.3"/>
<circle cx="329.9" cy="181.0" r="5.3"/>
<circle cx="330.9" cy="263.0" r="5.3"/>
<circle cx="350.6" cy="216.2" r="5.3"/>
<circle cx="347.3" cy="217.3" r="5.3"/>
<circle cx="348.8" cy="217.1" r="5.3"/>
<circle cx="351.8" cy="207.8" r="5.3"/>
<circle cx="346.8" cy="217.4" r="5.3"/>
<circle cx="352.5" cy="219.5" r="5.3"/>
<circle cx="349.3" cy="232.5" r="5.3"/>
<circle cx="346.9" cy="225.5" r="5.3"/>
<circle cx="350.2" cy="229.7" r="5.3"/>
<circle cx="351.7" cy="227.1" r="5.3"/>
<circle cx="349.5" cy="233.9" r="5.3"/>
<circle cx="348.5" cy="228.6" r="5.3"/>
<circle cx="350.4" cy="234.0" r="5.3"/>
<circle cx="347.8" cy="231.2" r="5.3"/>
<circle cx="349.2" cy="228.6" r="5.3"/>
<circle cx="348.3" cy="239.6" r="5.3"/>
<circle cx="350.2" cy="238.7" r="5.3"/>
<circle cx="349.8" cy="241.6" r="5.3"/>
<circle cx="351.8" cy="240.7" r="5.3"/>
<circle cx="349.0" cy="245.5" r="5.3"/>
<circle cx="347.8" cy="129.6" r="5.3"/>
<circle cx="347.0" cy="145.4" r="5.3"/>
<circle cx="352.2" cy="145.1" r="5.3"/>
<circle cx="348.3" cy="170.7" r="5.3"/>
<circle cx="347.6" cy="173.9" r="5.3"/>
<circle cx="349.0" cy="177.4" r="5.3"/>
<circle cx="348.8" cy="183.9" r="5.3"/>
<circle cx="348.8" cy="193.6" r="5.3"/>
<circle cx="351.8" cy="198.0" r="5.3"/>
<circle cx="348.5" cy="196.0" r="5.3"/>
<circle cx="347.5" cy="202.3" r="5.3"/>
<circle cx="348.0" cy="300.4" r="5.3"/>
<circle cx="352.4" cy="310.6" r="5.3"/>
<circle cx="370.3" cy="192.6" r="5.3"/>
<circle cx="369.8" cy="199.7" r="5.3"/>
<circle cx="372.3" cy="192.7" r="5.3"/>
<circle cx="373.3" cy="224.3" r="5.3"/>
<circle cx="370.7" cy="227.8" r="5.3"/>
<circle cx="372.6" cy="230.0" r="5.3"/>
<circle cx="369.3" cy="232.2" r="5.3"/>
<circle cx="369.8" cy="248.9" r="5.3"/>
<circle cx="371.1" cy="212.0" r="5.3"/>
<circle cx="369.1" cy="216.0" r="5.3"/>
<circle cx="390.3" cy="180.8" r="5.3"/>
<circle cx="389.8" cy="196.0" r="5.3"/>
<circle cx="414.9" cy="146.3" r="5.3"/>
<circle cx="415.2" cy="222.2" r="5.3"/>
<circle cx="413.8" cy="220.5" r="5.3"/>
<circle cx="410.5" cy="237.1" r="5.3"/>
</g>
<path d="M150.6,211.2 L176.8,214.3 L203.0,213.3 L255.4,211.9 L307.8,211.2 L356.0,207.2 L412.6,192.3 L412.6,226.9 L356.0,220.3 L307.8,222.6 L255.4,223.4 L203.0,225.0 L176.8,228.6 L150.6,236.9Z" fill="#000" fill-opacity="0.2"/>
<path d="M150.6,218.1 L176.8,215.2 L203.0,213.3 L255.4,211.9 L307.8,211.2 L360.2,208.6 L412.6,204.8 L412.6,215.2 L360.2,219.9 L307.8,222.6 L255.4,223.4 L203.0,225.0 L176.8,227.3 L150.6,228.0Z" fill="#9E9E9E" fill-opacity="1"/>
<path d="M150.6,225.2 C159.3,224.8 185.5,223.2 203.0,222.5 C220.5,221.8 237.9,221.8 255.4,221.2 C272.9,220.6 294.5,219.6 307.8,218.7 C321.1,217.8 326.3,217.1 335.0,215.9 C343.8,214.7 347.3,213.8 360.2,211.6 C373.1,209.4 403.9,204.3 412.6,202.8" fill="none" stroke="#333" stroke-width="2.85" stroke-dasharray="19.8 8.5"/>
<path d="M150.6,221.2 C159.3,220.3 185.5,217.2 203.0,215.9 C220.5,214.6 237.9,213.9 255.4,213.5 C272.9,213.1 290.3,213.3 307.8,213.6 C325.3,213.9 342.7,214.7 360.2,215.2 C377.7,215.7 403.9,216.3 412.6,216.5" fill="none" stroke="#333" stroke-width="2.85" stroke-dasharray="11.3 11.3"/>
<text x="124" y="294.5" text-anchor="end" class="tk">-0.1</text>
<text x="124" y="248.8" text-anchor="end" class="tk">0.0</text>
<text x="124" y="203.1" text-anchor="end" class="tk">0.1</text>
<text x="124" y="157.4" text-anchor="end" class="tk">0.2</text>
<text x="124" y="111.7" text-anchor="end" class="tk">0.3</text>
<text x="203.5" y="353.3" text-anchor="middle" class="tk">15</text>
<text x="308.3" y="353.3" text-anchor="middle" class="tk">20</text>
<text x="413.1" y="353.3" text-anchor="middle" class="tk">25</text>
<!-- panel rho -->
<line x1="513.2" y1="65" x2="513.2" y2="322" stroke="#EBEBEB" stroke-width="1.35"/>
<line x1="617.8" y1="65" x2="617.8" y2="322" stroke="#EBEBEB" stroke-width="1.35"/>
<line x1="722.4" y1="65" x2="722.4" y2="322" stroke="#EBEBEB" stroke-width="1.35"/>
<line x1="497" y1="76.4" x2="789" y2="76.4" stroke="#EBEBEB" stroke-width="1.35"/>
<line x1="497" y1="132.8" x2="789" y2="132.8" stroke="#EBEBEB" stroke-width="1.35"/>
<line x1="497" y1="189.2" x2="789" y2="189.2" stroke="#EBEBEB" stroke-width="1.35"/>
<line x1="497" y1="245.6" x2="789" y2="245.6" stroke="#EBEBEB" stroke-width="1.35"/>
<line x1="497" y1="302.0" x2="789" y2="302.0" stroke="#EBEBEB" stroke-width="1.35"/>
<line x1="565.5" y1="65" x2="565.5" y2="322" stroke="#EBEBEB" stroke-width="2.7"/>
<line x1="670.1" y1="65" x2="670.1" y2="322" stroke="#EBEBEB" stroke-width="2.7"/>
<line x1="774.7" y1="65" x2="774.7" y2="322" stroke="#EBEBEB" stroke-width="2.7"/>
<line x1="497" y1="104.6" x2="789" y2="104.6" stroke="#EBEBEB" stroke-width="2.7"/>
<line x1="497" y1="161.0" x2="789" y2="161.0" stroke="#EBEBEB" stroke-width="2.7"/>
<line x1="497" y1="217.4" x2="789" y2="217.4" stroke="#EBEBEB" stroke-width="2.7"/>
<line x1="497" y1="273.8" x2="789" y2="273.8" stroke="#EBEBEB" stroke-width="2.7"/>
<g fill="#309200" fill-opacity="0.1" stroke="#309200" stroke-opacity="0.14" stroke-width="1">
<circle cx="545.6" cy="81.9" r="5.3"/>
<circle cx="529.9" cy="89.4" r="5.3"/>
<circle cx="539.0" cy="92.8" r="5.3"/>
<circle cx="558.6" cy="94.2" r="5.3"/>
<circle cx="557.5" cy="95.0" r="5.3"/>
<circle cx="560.0" cy="93.5" r="5.3"/>
<circle cx="577.0" cy="93.5" r="5.3"/>
<circle cx="600.3" cy="92.8" r="5.3"/>
<circle cx="614.0" cy="96.2" r="5.3"/>
<circle cx="613.0" cy="95.0" r="5.3"/>
<circle cx="615.5" cy="97.0" r="5.3"/>
<circle cx="508.7" cy="114.7" r="5.3"/>
<circle cx="513.5" cy="123.6" r="5.3"/>
<circle cx="531.9" cy="132.5" r="5.3"/>
<circle cx="531.9" cy="140.7" r="5.3"/>
<circle cx="536.0" cy="143.4" r="5.3"/>
<circle cx="526.4" cy="155.0" r="5.3"/>
<circle cx="525.5" cy="153.8" r="5.3"/>
<circle cx="527.5" cy="156.0" r="5.3"/>
<circle cx="544.9" cy="149.6" r="5.3"/>
<circle cx="551.0" cy="139.3" r="5.3"/>
<circle cx="560.6" cy="146.8" r="5.3"/>
<circle cx="566.0" cy="146.0" r="5.3"/>
<circle cx="570.0" cy="131.0" r="5.3"/>
<circle cx="571.5" cy="135.0" r="5.3"/>
<circle cx="581.8" cy="145.5" r="5.3"/>
<circle cx="584.6" cy="155.7" r="5.3"/>
<circle cx="592.8" cy="134.5" r="5.3"/>
<circle cx="594.0" cy="140.7" r="5.3"/>
<circle cx="593.4" cy="144.8" r="5.3"/>
<circle cx="600.3" cy="140.7" r="5.3"/>
<circle cx="603.7" cy="150.2" r="5.3"/>
<circle cx="609.8" cy="135.9" r="5.3"/>
<circle cx="603.0" cy="163.9" r="5.3"/>
<circle cx="525.4" cy="172.5" r="5.3"/>
<circle cx="571.2" cy="172.0" r="5.3"/>
<circle cx="573.1" cy="184.1" r="5.3"/>
<circle cx="596.3" cy="182.2" r="5.3"/>
<circle cx="598.7" cy="178.3" r="5.3"/>
<circle cx="573.1" cy="218.3" r="5.3"/>
<circle cx="574.6" cy="228.9" r="5.3"/>
<circle cx="593.9" cy="238.1" r="5.3"/>
<circle cx="594.8" cy="272.3" r="5.3"/>
<circle cx="584.2" cy="155.7" r="5.3"/>
<circle cx="654.8" cy="76.3" r="5.3"/>
<circle cx="654.0" cy="86.4" r="5.3"/>
<circle cx="627.6" cy="88.1" r="5.3"/>
<circle cx="639.0" cy="101.3" r="5.3"/>
<circle cx="660.0" cy="104.0" r="5.3"/>
<circle cx="636.4" cy="140.9" r="5.3"/>
<circle cx="637.5" cy="140.0" r="5.3"/>
<circle cx="620.5" cy="155.0" r="5.3"/>
<circle cx="654.8" cy="197.0" r="5.3"/>
<circle cx="656.9" cy="228.7" r="5.3"/>
<circle cx="610.0" cy="135.6" r="5.3"/>
<circle cx="540.0" cy="136.0" r="5.3"/>
<circle cx="565.0" cy="138.0" r="5.3"/>
<circle cx="587.0" cy="139.0" r="5.3"/>
<circle cx="615.0" cy="142.0" r="5.3"/>
<circle cx="532.6" cy="113.2" r="5.3"/>
<circle cx="530.0" cy="109.8" r="5.3"/>
<circle cx="575.2" cy="106.2" r="5.3"/>
<circle cx="580.1" cy="115.8" r="5.3"/>
<circle cx="621.8" cy="114.6" r="5.3"/>
<circle cx="574.2" cy="109.3" r="5.3"/>
<circle cx="537.4" cy="104.9" r="5.3"/>
<circle cx="555.3" cy="119.0" r="5.3"/>
<circle cx="554.6" cy="119.3" r="5.3"/>
<circle cx="618.2" cy="107.5" r="5.3"/>
<circle cx="552.0" cy="105.3" r="5.3"/>
<circle cx="568.4" cy="109.4" r="5.3"/>
<circle cx="560.2" cy="111.5" r="5.3"/>
<circle cx="604.7" cy="113.4" r="5.3"/>
<circle cx="597.4" cy="103.2" r="5.3"/>
<circle cx="561.3" cy="111.7" r="5.3"/>
<circle cx="592.1" cy="102.0" r="5.3"/>
<circle cx="526.0" cy="117.9" r="5.3"/>
<circle cx="602.1" cy="113.3" r="5.3"/>
<circle cx="539.9" cy="112.2" r="5.3"/>
<circle cx="617.5" cy="111.2" r="5.3"/>
<circle cx="541.5" cy="111.1" r="5.3"/>
<circle cx="606.9" cy="108.0" r="5.3"/>
<circle cx="540.6" cy="112.8" r="5.3"/>
<circle cx="545.0" cy="112.7" r="5.3"/>
<circle cx="538.3" cy="114.6" r="5.3"/>
<circle cx="553.3" cy="103.4" r="5.3"/>
<circle cx="531.6" cy="116.4" r="5.3"/>
<circle cx="570.0" cy="103.0" r="5.3"/>
<circle cx="530.7" cy="108.4" r="5.3"/>
<circle cx="575.2" cy="101.1" r="5.3"/>
<circle cx="554.3" cy="110.3" r="5.3"/>
<circle cx="537.0" cy="107.4" r="5.3"/>
<circle cx="611.0" cy="109.8" r="5.3"/>
<circle cx="577.4" cy="104.9" r="5.3"/>
<circle cx="578.7" cy="105.6" r="5.3"/>
<circle cx="581.6" cy="113.9" r="5.3"/>
<circle cx="595.1" cy="113.3" r="5.3"/>
<circle cx="571.3" cy="102.7" r="5.3"/>
<circle cx="576.7" cy="113.6" r="5.3"/>
<circle cx="574.0" cy="107.4" r="5.3"/>
<circle cx="549.8" cy="100.1" r="5.3"/>
<circle cx="576.7" cy="114.4" r="5.3"/>
<circle cx="546.2" cy="111.9" r="5.3"/>
<circle cx="545.7" cy="100.9" r="5.3"/>
<circle cx="612.0" cy="112.0" r="5.3"/>
<circle cx="612.8" cy="106.6" r="5.3"/>
<circle cx="603.7" cy="103.9" r="5.3"/>
<circle cx="533.4" cy="107.4" r="5.3"/>
<circle cx="552.7" cy="104.1" r="5.3"/>
<circle cx="579.8" cy="107.8" r="5.3"/>
<circle cx="527.3" cy="112.7" r="5.3"/>
<circle cx="543.5" cy="100.4" r="5.3"/>
<circle cx="572.8" cy="109.5" r="5.3"/>
<circle cx="554.1" cy="105.3" r="5.3"/>
<circle cx="550.6" cy="115.8" r="5.3"/>
<circle cx="552.3" cy="119.7" r="5.3"/>
<circle cx="556.4" cy="112.4" r="5.3"/>
<circle cx="534.4" cy="100.9" r="5.3"/>
<circle cx="581.0" cy="105.2" r="5.3"/>
<circle cx="572.2" cy="100.4" r="5.3"/>
<circle cx="605.8" cy="115.5" r="5.3"/>
<circle cx="555.8" cy="114.9" r="5.3"/>
<circle cx="538.2" cy="114.6" r="5.3"/>
<circle cx="561.3" cy="111.6" r="5.3"/>
<circle cx="588.9" cy="119.0" r="5.3"/>
<circle cx="526.0" cy="107.3" r="5.3"/>
<circle cx="550.6" cy="103.1" r="5.3"/>
<circle cx="595.5" cy="114.3" r="5.3"/>
<circle cx="559.6" cy="105.4" r="5.3"/>
<circle cx="596.5" cy="105.8" r="5.3"/>
<circle cx="562.7" cy="101.4" r="5.3"/>
<circle cx="572.6" cy="112.6" r="5.3"/>
<circle cx="593.0" cy="106.8" r="5.3"/>
<circle cx="582.2" cy="111.5" r="5.3"/>
<circle cx="543.1" cy="118.6" r="5.3"/>
<circle cx="572.4" cy="119.4" r="5.3"/>
<circle cx="542.9" cy="104.9" r="5.3"/>
<circle cx="611.4" cy="109.2" r="5.3"/>
<circle cx="590.1" cy="103.8" r="5.3"/>
<circle cx="569.2" cy="93.6" r="5.3"/>
<circle cx="574.4" cy="97.9" r="5.3"/>
<circle cx="543.3" cy="96.0" r="5.3"/>
<circle cx="576.4" cy="94.5" r="5.3"/>
<circle cx="607.4" cy="94.2" r="5.3"/>
<circle cx="603.6" cy="91.6" r="5.3"/>
<circle cx="570.4" cy="92.0" r="5.3"/>
<circle cx="607.9" cy="97.0" r="5.3"/>
<circle cx="549.5" cy="94.4" r="5.3"/>
<circle cx="541.7" cy="99.0" r="5.3"/>
<circle cx="611.0" cy="128.7" r="5.3"/>
<circle cx="581.4" cy="121.2" r="5.3"/>
<circle cx="566.0" cy="126.0" r="5.3"/>
<circle cx="562.8" cy="118.7" r="5.3"/>
<circle cx="573.1" cy="119.1" r="5.3"/>
<circle cx="543.2" cy="127.8" r="5.3"/>
<circle cx="582.2" cy="127.6" r="5.3"/>
<circle cx="589.0" cy="125.9" r="5.3"/>
<circle cx="544.5" cy="126.5" r="5.3"/>
<circle cx="532.0" cy="118.2" r="5.3"/>
<circle cx="553.9" cy="119.9" r="5.3"/>
<circle cx="590.6" cy="121.4" r="5.3"/>
<circle cx="522.6" cy="127.3" r="5.3"/>
<circle cx="615.3" cy="126.5" r="5.3"/>
<circle cx="617.4" cy="127.4" r="5.3"/>
<circle cx="614.7" cy="126.1" r="5.3"/>
<circle cx="599.8" cy="127.5" r="5.3"/>
<circle cx="531.0" cy="121.8" r="5.3"/>
<circle cx="582.5" cy="121.9" r="5.3"/>
<circle cx="608.9" cy="118.7" r="5.3"/>
<circle cx="532.2" cy="121.9" r="5.3"/>
<circle cx="554.3" cy="128.0" r="5.3"/>
<circle cx="520.5" cy="127.9" r="5.3"/>
<circle cx="619.2" cy="118.6" r="5.3"/>
<circle cx="617.0" cy="125.9" r="5.3"/>
<circle cx="637.1" cy="120.1" r="5.3"/>
<circle cx="636.7" cy="107.1" r="5.3"/>
<circle cx="640.4" cy="107.1" r="5.3"/>
<circle cx="637.5" cy="107.0" r="5.3"/>
<circle cx="650.6" cy="109.5" r="5.3"/>
<circle cx="649.2" cy="121.9" r="5.3"/>
<circle cx="659.4" cy="99.3" r="5.3"/>
<circle cx="655.8" cy="119.1" r="5.3"/>
<circle cx="661.2" cy="107.4" r="5.3"/>
<circle cx="661.6" cy="112.1" r="5.3"/>
</g>
<g fill="#1D0458" fill-opacity="0.11" stroke="#1D0458" stroke-opacity="0.14" stroke-width="1">
<circle cx="630.7" cy="96.2" r="5.3"/>
<circle cx="625.7" cy="106.0" r="5.3"/>
<circle cx="627.2" cy="100.3" r="5.3"/>
<circle cx="631.2" cy="101.2" r="5.3"/>
<circle cx="630.8" cy="106.5" r="5.3"/>
<circle cx="625.4" cy="100.5" r="5.3"/>
<circle cx="625.7" cy="105.1" r="5.3"/>
<circle cx="630.7" cy="96.9" r="5.3"/>
<circle cx="625.4" cy="96.5" r="5.3"/>
<circle cx="626.9" cy="98.8" r="5.3"/>
<circle cx="631.1" cy="109.2" r="5.3"/>
<circle cx="630.9" cy="105.9" r="5.3"/>
<circle cx="630.2" cy="108.1" r="5.3"/>
<circle cx="627.0" cy="107.1" r="5.3"/>
<circle cx="627.0" cy="103.9" r="5.3"/>
<circle cx="630.2" cy="99.8" r="5.3"/>
<circle cx="626.3" cy="110.5" r="5.3"/>
<circle cx="628.0" cy="99.0" r="5.3"/>
<circle cx="627.2" cy="100.8" r="5.3"/>
<circle cx="630.6" cy="104.0" r="5.3"/>
<circle cx="630.8" cy="104.0" r="5.3"/>
<circle cx="630.9" cy="111.6" r="5.3"/>
<circle cx="628.7" cy="109.4" r="5.3"/>
<circle cx="627.0" cy="98.0" r="5.3"/>
<circle cx="628.9" cy="96.9" r="5.3"/>
<circle cx="628.1" cy="106.5" r="5.3"/>
<circle cx="629.9" cy="111.2" r="5.3"/>
<circle cx="626.5" cy="110.7" r="5.3"/>
<circle cx="628.2" cy="106.6" r="5.3"/>
<circle cx="628.0" cy="110.4" r="5.3"/>
<circle cx="627.1" cy="96.1" r="5.3"/>
<circle cx="630.2" cy="107.2" r="5.3"/>
<circle cx="629.6" cy="98.1" r="5.3"/>
<circle cx="626.5" cy="106.6" r="5.3"/>
<circle cx="629.7" cy="107.2" r="5.3"/>
<circle cx="628.8" cy="107.1" r="5.3"/>
<circle cx="626.1" cy="103.7" r="5.3"/>
<circle cx="627.2" cy="108.5" r="5.3"/>
<circle cx="628.4" cy="108.2" r="5.3"/>
<circle cx="629.4" cy="111.4" r="5.3"/>
<circle cx="630.4" cy="96.9" r="5.3"/>
<circle cx="629.3" cy="102.3" r="5.3"/>
<circle cx="625.9" cy="104.1" r="5.3"/>
<circle cx="630.3" cy="109.5" r="5.3"/>
<circle cx="625.9" cy="99.4" r="5.3"/>
<circle cx="629.4" cy="112.5" r="5.3"/>
<circle cx="625.7" cy="97.5" r="5.3"/>
<circle cx="629.4" cy="106.5" r="5.3"/>
<circle cx="630.1" cy="114.6" r="5.3"/>
<circle cx="628.2" cy="119.4" r="5.3"/>
<circle cx="627.6" cy="116.2" r="5.3"/>
<circle cx="625.5" cy="119.4" r="5.3"/>
<circle cx="627.9" cy="116.0" r="5.3"/>
<circle cx="629.2" cy="119.8" r="5.3"/>
<circle cx="630.5" cy="125.1" r="5.3"/>
<circle cx="628.9" cy="125.6" r="5.3"/>
<circle cx="630.3" cy="130.5" r="5.3"/>
<circle cx="629.2" cy="130.9" r="5.3"/>
<circle cx="628.3" cy="127.9" r="5.3"/>
<circle cx="626.2" cy="129.5" r="5.3"/>
<circle cx="627.0" cy="127.7" r="5.3"/>
<circle cx="625.3" cy="125.8" r="5.3"/>
<circle cx="629.0" cy="128.6" r="5.3"/>
<circle cx="628.6" cy="124.0" r="5.3"/>
<circle cx="629.2" cy="144.6" r="5.3"/>
<circle cx="628.8" cy="140.0" r="5.3"/>
<circle cx="626.2" cy="142.9" r="5.3"/>
<circle cx="625.6" cy="148.7" r="5.3"/>
<circle cx="627.4" cy="138.5" r="5.3"/>
<circle cx="628.0" cy="135.7" r="5.3"/>
<circle cx="630.6" cy="149.7" r="5.3"/>
<circle cx="630.2" cy="143.2" r="5.3"/>
<circle cx="630.9" cy="139.3" r="5.3"/>
<circle cx="628.1" cy="136.7" r="5.3"/>
<circle cx="627.8" cy="148.8" r="5.3"/>
<circle cx="629.2" cy="159.0" r="5.3"/>
<circle cx="628.5" cy="160.0" r="5.3"/>
<circle cx="628.9" cy="158.0" r="5.3"/>
<circle cx="628.3" cy="154.1" r="5.3"/>
<circle cx="627.9" cy="160.4" r="5.3"/>
<circle cx="626.6" cy="156.0" r="5.3"/>
<circle cx="630.1" cy="154.5" r="5.3"/>
<circle cx="626.4" cy="162.0" r="5.3"/>
<circle cx="626.0" cy="156.3" r="5.3"/>
<circle cx="630.7" cy="157.5" r="5.3"/>
<circle cx="630.2" cy="161.4" r="5.3"/>
<circle cx="625.4" cy="155.4" r="5.3"/>
<circle cx="630.7" cy="156.5" r="5.3"/>
<circle cx="627.7" cy="181.8" r="5.3"/>
<circle cx="625.9" cy="182.5" r="5.3"/>
<circle cx="629.1" cy="175.9" r="5.3"/>
<circle cx="625.3" cy="176.0" r="5.3"/>
<circle cx="630.2" cy="171.5" r="5.3"/>
<circle cx="625.7" cy="166.5" r="5.3"/>
<circle cx="625.7" cy="171.9" r="5.3"/>
<circle cx="630.2" cy="165.1" r="5.3"/>
<circle cx="627.7" cy="88.8" r="5.3"/>
<circle cx="627.6" cy="89.1" r="5.3"/>
<circle cx="628.5" cy="191.8" r="5.3"/>
<circle cx="626.5" cy="194.4" r="5.3"/>
<circle cx="630.0" cy="203.0" r="5.3"/>
<circle cx="628.4" cy="205.0" r="5.3"/>
<circle cx="627.4" cy="207.0" r="5.3"/>
<circle cx="631.0" cy="209.0" r="5.3"/>
<circle cx="629.5" cy="206.0" r="5.3"/>
<circle cx="626.2" cy="223.1" r="5.3"/>
<circle cx="628.7" cy="221.6" r="5.3"/>
<circle cx="626.7" cy="221.0" r="5.3"/>
<circle cx="626.7" cy="221.5" r="5.3"/>
<circle cx="648.2" cy="121.7" r="5.3"/>
<circle cx="649.7" cy="100.2" r="5.3"/>
<circle cx="648.4" cy="106.7" r="5.3"/>
<circle cx="646.7" cy="107.6" r="5.3"/>
<circle cx="649.2" cy="119.6" r="5.3"/>
<circle cx="648.8" cy="113.6" r="5.3"/>
<circle cx="650.3" cy="99.7" r="5.3"/>
<circle cx="649.6" cy="107.1" r="5.3"/>
<circle cx="647.2" cy="95.6" r="5.3"/>
<circle cx="652.2" cy="97.4" r="5.3"/>
<circle cx="651.5" cy="104.9" r="5.3"/>
<circle cx="646.7" cy="121.0" r="5.3"/>
<circle cx="650.1" cy="105.9" r="5.3"/>
<circle cx="651.2" cy="114.1" r="5.3"/>
<circle cx="648.7" cy="114.4" r="5.3"/>
<circle cx="650.6" cy="99.6" r="5.3"/>
<circle cx="650.5" cy="119.7" r="5.3"/>
<circle cx="650.3" cy="116.6" r="5.3"/>
<circle cx="652.1" cy="116.5" r="5.3"/>
<circle cx="649.0" cy="110.2" r="5.3"/>
<circle cx="650.8" cy="112.1" r="5.3"/>
<circle cx="646.6" cy="96.6" r="5.3"/>
<circle cx="647.8" cy="117.1" r="5.3"/>
<circle cx="647.5" cy="103.6" r="5.3"/>
<circle cx="651.1" cy="98.5" r="5.3"/>
<circle cx="647.9" cy="101.9" r="5.3"/>
<circle cx="646.5" cy="115.1" r="5.3"/>
<circle cx="648.1" cy="106.0" r="5.3"/>
<circle cx="648.2" cy="96.8" r="5.3"/>
<circle cx="651.2" cy="98.6" r="5.3"/>
<circle cx="647.9" cy="114.5" r="5.3"/>
<circle cx="648.3" cy="108.7" r="5.3"/>
<circle cx="648.2" cy="110.1" r="5.3"/>
<circle cx="648.1" cy="107.3" r="5.3"/>
<circle cx="646.2" cy="95.4" r="5.3"/>
<circle cx="649.2" cy="117.1" r="5.3"/>
<circle cx="652.2" cy="116.7" r="5.3"/>
<circle cx="649.3" cy="112.4" r="5.3"/>
<circle cx="650.2" cy="114.7" r="5.3"/>
<circle cx="652.1" cy="104.3" r="5.3"/>
<circle cx="648.9" cy="116.0" r="5.3"/>
<circle cx="647.5" cy="97.6" r="5.3"/>
<circle cx="651.6" cy="95.4" r="5.3"/>
<circle cx="651.5" cy="119.7" r="5.3"/>
<circle cx="647.2" cy="115.4" r="5.3"/>
<circle cx="647.9" cy="102.3" r="5.3"/>
<circle cx="652.1" cy="118.9" r="5.3"/>
<circle cx="650.8" cy="106.8" r="5.3"/>
<circle cx="652.1" cy="110.4" r="5.3"/>
<circle cx="652.1" cy="114.5" r="5.3"/>
<circle cx="646.5" cy="116.6" r="5.3"/>
<circle cx="651.2" cy="118.8" r="5.3"/>
<circle cx="649.9" cy="96.0" r="5.3"/>
<circle cx="651.4" cy="106.4" r="5.3"/>
<circle cx="647.4" cy="100.6" r="5.3"/>
<circle cx="647.4" cy="117.0" r="5.3"/>
<circle cx="646.6" cy="119.8" r="5.3"/>
<circle cx="646.3" cy="114.5" r="5.3"/>
<circle cx="647.6" cy="108.9" r="5.3"/>
<circle cx="647.2" cy="119.3" r="5.3"/>
<circle cx="647.1" cy="107.6" r="5.3"/>
<circle cx="649.8" cy="107.2" r="5.3"/>
<circle cx="647.5" cy="102.8" r="5.3"/>
<circle cx="651.8" cy="98.4" r="5.3"/>
<circle cx="646.3" cy="119.5" r="5.3"/>
<circle cx="651.5" cy="113.5" r="5.3"/>
<circle cx="649.0" cy="120.7" r="5.3"/>
<circle cx="648.7" cy="95.4" r="5.3"/>
<circle cx="648.8" cy="109.3" r="5.3"/>
<circle cx="649.5" cy="119.0" r="5.3"/>
<circle cx="646.6" cy="118.1" r="5.3"/>
<circle cx="649.3" cy="114.8" r="5.3"/>
<circle cx="648.7" cy="103.0" r="5.3"/>
<circle cx="648.2" cy="102.4" r="5.3"/>
<circle cx="648.9" cy="111.1" r="5.3"/>
<circle cx="651.2" cy="99.7" r="5.3"/>
<circle cx="648.9" cy="109.4" r="5.3"/>
<circle cx="651.1" cy="114.2" r="5.3"/>
<circle cx="649.9" cy="113.2" r="5.3"/>
<circle cx="648.9" cy="116.8" r="5.3"/>
<circle cx="651.2" cy="110.3" r="5.3"/>
<circle cx="646.9" cy="106.5" r="5.3"/>
<circle cx="647.8" cy="100.2" r="5.3"/>
<circle cx="648.0" cy="117.1" r="5.3"/>
<circle cx="648.3" cy="106.6" r="5.3"/>
<circle cx="648.5" cy="100.0" r="5.3"/>
<circle cx="649.6" cy="106.3" r="5.3"/>
<circle cx="651.8" cy="111.7" r="5.3"/>
<circle cx="652.0" cy="118.2" r="5.3"/>
<circle cx="649.1" cy="95.4" r="5.3"/>
<circle cx="647.5" cy="98.2" r="5.3"/>
<circle cx="650.6" cy="98.7" r="5.3"/>
<circle cx="650.1" cy="103.7" r="5.3"/>
<circle cx="649.1" cy="115.4" r="5.3"/>
<circle cx="648.0" cy="99.6" r="5.3"/>
<circle cx="647.9" cy="120.5" r="5.3"/>
<circle cx="649.5" cy="102.8" r="5.3"/>
<circle cx="647.1" cy="96.8" r="5.3"/>
<circle cx="648.2" cy="111.6" r="5.3"/>
<circle cx="648.9" cy="116.9" r="5.3"/>
<circle cx="652.1" cy="110.4" r="5.3"/>
<circle cx="648.2" cy="116.5" r="5.3"/>
<circle cx="646.7" cy="115.5" r="5.3"/>
<circle cx="651.5" cy="116.0" r="5.3"/>
<circle cx="646.8" cy="110.7" r="5.3"/>
<circle cx="651.0" cy="106.1" r="5.3"/>
<circle cx="651.2" cy="99.5" r="5.3"/>
<circle cx="649.4" cy="110.1" r="5.3"/>
<circle cx="650.9" cy="127.4" r="5.3"/>
<circle cx="647.7" cy="131.3" r="5.3"/>
<circle cx="646.9" cy="126.8" r="5.3"/>
<circle cx="649.0" cy="132.2" r="5.3"/>
<circle cx="648.7" cy="129.3" r="5.3"/>
<circle cx="650.2" cy="130.8" r="5.3"/>
<circle cx="652.0" cy="128.0" r="5.3"/>
<circle cx="649.6" cy="122.3" r="5.3"/>
<circle cx="647.3" cy="125.2" r="5.3"/>
<circle cx="647.4" cy="128.7" r="5.3"/>
<circle cx="647.4" cy="129.4" r="5.3"/>
<circle cx="651.1" cy="122.9" r="5.3"/>
<circle cx="647.6" cy="128.5" r="5.3"/>
<circle cx="646.5" cy="123.9" r="5.3"/>
<circle cx="649.6" cy="127.2" r="5.3"/>
<circle cx="651.6" cy="129.4" r="5.3"/>
<circle cx="650.7" cy="126.5" r="5.3"/>
<circle cx="648.4" cy="133.1" r="5.3"/>
<circle cx="649.9" cy="133.9" r="5.3"/>
<circle cx="647.7" cy="123.5" r="5.3"/>
<circle cx="650.2" cy="137.9" r="5.3"/>
<circle cx="646.6" cy="144.0" r="5.3"/>
<circle cx="650.3" cy="143.3" r="5.3"/>
<circle cx="650.7" cy="145.5" r="5.3"/>
<circle cx="647.9" cy="147.3" r="5.3"/>
<circle cx="649.8" cy="138.4" r="5.3"/>
<circle cx="649.7" cy="138.9" r="5.3"/>
<circle cx="652.0" cy="147.2" r="5.3"/>
<circle cx="647.4" cy="136.0" r="5.3"/>
<circle cx="647.5" cy="142.3" r="5.3"/>
<circle cx="649.6" cy="150.3" r="5.3"/>
<circle cx="650.4" cy="145.1" r="5.3"/>
<circle cx="650.0" cy="147.7" r="5.3"/>
<circle cx="648.0" cy="140.0" r="5.3"/>
<circle cx="648.6" cy="150.9" r="5.3"/>
<circle cx="647.0" cy="149.6" r="5.3"/>
<circle cx="646.3" cy="139.2" r="5.3"/>
<circle cx="650.2" cy="153.6" r="5.3"/>
<circle cx="650.8" cy="150.7" r="5.3"/>
<circle cx="647.7" cy="157.7" r="5.3"/>
<circle cx="649.8" cy="155.9" r="5.3"/>
<circle cx="651.8" cy="140.5" r="5.3"/>
<circle cx="652.0" cy="136.9" r="5.3"/>
<circle cx="650.0" cy="140.9" r="5.3"/>
<circle cx="646.7" cy="148.1" r="5.3"/>
<circle cx="647.5" cy="153.1" r="5.3"/>
<circle cx="648.9" cy="141.2" r="5.3"/>
<circle cx="646.3" cy="150.9" r="5.3"/>
<circle cx="650.0" cy="166.9" r="5.3"/>
<circle cx="648.5" cy="168.1" r="5.3"/>
<circle cx="646.3" cy="168.1" r="5.3"/>
<circle cx="650.8" cy="159.1" r="5.3"/>
<circle cx="652.1" cy="159.0" r="5.3"/>
<circle cx="650.7" cy="160.7" r="5.3"/>
<circle cx="650.3" cy="167.2" r="5.3"/>
<circle cx="646.9" cy="83.7" r="5.3"/>
<circle cx="648.1" cy="86.4" r="5.3"/>
<circle cx="651.6" cy="91.6" r="5.3"/>
<circle cx="649.0" cy="175.0" r="5.3"/>
<circle cx="647.1" cy="175.5" r="5.3"/>
<circle cx="646.7" cy="182.1" r="5.3"/>
<circle cx="646.8" cy="182.7" r="5.3"/>
<circle cx="650.8" cy="191.0" r="5.3"/>
<circle cx="648.9" cy="191.8" r="5.3"/>
<circle cx="646.8" cy="199.0" r="5.3"/>
<circle cx="648.3" cy="199.5" r="5.3"/>
<circle cx="649.1" cy="200.0" r="5.3"/>
<circle cx="648.9" cy="200.5" r="5.3"/>
<circle cx="650.0" cy="201.0" r="5.3"/>
<circle cx="650.3" cy="236.9" r="5.3"/>
<circle cx="650.7" cy="251.9" r="5.3"/>
<circle cx="649.4" cy="264.7" r="5.3"/>
<circle cx="646.4" cy="298.5" r="5.3"/>
<circle cx="671.7" cy="107.3" r="5.3"/>
<circle cx="671.5" cy="101.4" r="5.3"/>
<circle cx="672.4" cy="95.6" r="5.3"/>
<circle cx="671.5" cy="104.1" r="5.3"/>
<circle cx="671.3" cy="95.1" r="5.3"/>
<circle cx="672.9" cy="94.5" r="5.3"/>
<circle cx="668.2" cy="102.8" r="5.3"/>
<circle cx="670.5" cy="97.0" r="5.3"/>
<circle cx="668.8" cy="109.6" r="5.3"/>
<circle cx="669.0" cy="101.6" r="5.3"/>
<circle cx="667.8" cy="103.7" r="5.3"/>
<circle cx="671.3" cy="106.6" r="5.3"/>
<circle cx="668.5" cy="100.3" r="5.3"/>
<circle cx="671.0" cy="110.5" r="5.3"/>
<circle cx="671.7" cy="97.7" r="5.3"/>
<circle cx="667.5" cy="99.6" r="5.3"/>
<circle cx="670.3" cy="98.6" r="5.3"/>
<circle cx="671.8" cy="98.4" r="5.3"/>
<circle cx="667.8" cy="104.2" r="5.3"/>
<circle cx="671.7" cy="97.5" r="5.3"/>
<circle cx="669.1" cy="98.4" r="5.3"/>
<circle cx="667.3" cy="105.6" r="5.3"/>
<circle cx="667.4" cy="104.4" r="5.3"/>
<circle cx="670.9" cy="103.0" r="5.3"/>
<circle cx="667.4" cy="94.6" r="5.3"/>
<circle cx="670.2" cy="102.3" r="5.3"/>
<circle cx="667.2" cy="94.2" r="5.3"/>
<circle cx="671.7" cy="99.5" r="5.3"/>
<circle cx="671.4" cy="97.4" r="5.3"/>
<circle cx="668.7" cy="109.3" r="5.3"/>
<circle cx="668.3" cy="100.9" r="5.3"/>
<circle cx="670.1" cy="106.1" r="5.3"/>
<circle cx="669.0" cy="105.0" r="5.3"/>
<circle cx="668.4" cy="105.6" r="5.3"/>
<circle cx="667.2" cy="97.2" r="5.3"/>
<circle cx="667.5" cy="95.7" r="5.3"/>
<circle cx="671.6" cy="101.9" r="5.3"/>
<circle cx="671.8" cy="110.6" r="5.3"/>
<circle cx="668.2" cy="107.1" r="5.3"/>
<circle cx="672.9" cy="99.3" r="5.3"/>
<circle cx="667.6" cy="101.9" r="5.3"/>
<circle cx="670.4" cy="105.7" r="5.3"/>
<circle cx="670.5" cy="114.3" r="5.3"/>
<circle cx="668.1" cy="114.7" r="5.3"/>
<circle cx="669.9" cy="113.0" r="5.3"/>
<circle cx="668.9" cy="120.7" r="5.3"/>
<circle cx="669.6" cy="112.4" r="5.3"/>
<circle cx="671.1" cy="114.9" r="5.3"/>
<circle cx="670.2" cy="115.3" r="5.3"/>
<circle cx="667.8" cy="119.1" r="5.3"/>
<circle cx="670.5" cy="121.9" r="5.3"/>
<circle cx="667.1" cy="129.5" r="5.3"/>
<circle cx="669.7" cy="127.7" r="5.3"/>
<circle cx="671.4" cy="125.2" r="5.3"/>
<circle cx="669.5" cy="123.7" r="5.3"/>
<circle cx="670.5" cy="127.7" r="5.3"/>
<circle cx="667.4" cy="125.0" r="5.3"/>
<circle cx="669.5" cy="128.9" r="5.3"/>
<circle cx="667.7" cy="130.1" r="5.3"/>
<circle cx="672.0" cy="126.3" r="5.3"/>
<circle cx="667.5" cy="123.9" r="5.3"/>
<circle cx="671.7" cy="143.0" r="5.3"/>
<circle cx="667.9" cy="137.5" r="5.3"/>
<circle cx="672.1" cy="145.2" r="5.3"/>
<circle cx="671.3" cy="137.1" r="5.3"/>
<circle cx="673.0" cy="138.8" r="5.3"/>
<circle cx="669.2" cy="138.5" r="5.3"/>
<circle cx="672.8" cy="144.5" r="5.3"/>
<circle cx="670.4" cy="141.2" r="5.3"/>
<circle cx="671.4" cy="142.0" r="5.3"/>
<circle cx="669.9" cy="137.3" r="5.3"/>
<circle cx="672.0" cy="76.3" r="5.3"/>
<circle cx="667.5" cy="88.2" r="5.3"/>
<circle cx="672.6" cy="87.3" r="5.3"/>
<circle cx="668.1" cy="163.0" r="5.3"/>
<circle cx="667.9" cy="164.2" r="5.3"/>
<circle cx="669.3" cy="164.9" r="5.3"/>
<circle cx="669.1" cy="163.3" r="5.3"/>
<circle cx="671.2" cy="164.6" r="5.3"/>
<circle cx="670.3" cy="161.0" r="5.3"/>
<circle cx="667.8" cy="166.0" r="5.3"/>
<circle cx="668.1" cy="183.0" r="5.3"/>
<circle cx="671.4" cy="185.7" r="5.3"/>
<circle cx="671.7" cy="198.4" r="5.3"/>
<circle cx="673.0" cy="199.5" r="5.3"/>
<circle cx="670.5" cy="200.5" r="5.3"/>
<circle cx="671.8" cy="246.6" r="5.3"/>
<circle cx="671.1" cy="253.4" r="5.3"/>
<circle cx="671.9" cy="252.6" r="5.3"/>
<circle cx="668.0" cy="267.3" r="5.3"/>
<circle cx="669.0" cy="287.2" r="5.3"/>
<circle cx="669.4" cy="291.3" r="5.3"/>
<circle cx="672.0" cy="290.8" r="5.3"/>
<circle cx="672.4" cy="289.9" r="5.3"/>
<circle cx="673.0" cy="310.4" r="5.3"/>
<circle cx="693.5" cy="102.4" r="5.3"/>
<circle cx="690.3" cy="105.4" r="5.3"/>
<circle cx="689.2" cy="120.5" r="5.3"/>
<circle cx="690.4" cy="118.9" r="5.3"/>
<circle cx="691.6" cy="99.4" r="5.3"/>
<circle cx="690.6" cy="116.7" r="5.3"/>
<circle cx="689.9" cy="105.0" r="5.3"/>
<circle cx="688.6" cy="109.4" r="5.3"/>
<circle cx="693.7" cy="98.4" r="5.3"/>
<circle cx="693.3" cy="112.4" r="5.3"/>
<circle cx="689.7" cy="119.6" r="5.3"/>
<circle cx="693.6" cy="121.4" r="5.3"/>
<circle cx="690.8" cy="107.9" r="5.3"/>
<circle cx="692.0" cy="119.3" r="5.3"/>
<circle cx="690.1" cy="106.0" r="5.3"/>
<circle cx="690.5" cy="98.5" r="5.3"/>
<circle cx="693.1" cy="109.0" r="5.3"/>
<circle cx="690.8" cy="113.2" r="5.3"/>
<circle cx="692.9" cy="114.9" r="5.3"/>
<circle cx="690.0" cy="105.1" r="5.3"/>
<circle cx="690.0" cy="110.8" r="5.3"/>
<circle cx="692.9" cy="98.2" r="5.3"/>
<circle cx="691.7" cy="118.3" r="5.3"/>
<circle cx="691.4" cy="107.1" r="5.3"/>
<circle cx="690.9" cy="110.3" r="5.3"/>
<circle cx="691.8" cy="99.8" r="5.3"/>
<circle cx="692.8" cy="111.2" r="5.3"/>
<circle cx="689.7" cy="120.0" r="5.3"/>
<circle cx="690.4" cy="116.6" r="5.3"/>
<circle cx="689.8" cy="111.2" r="5.3"/>
<circle cx="689.2" cy="104.6" r="5.3"/>
<circle cx="690.0" cy="101.4" r="5.3"/>
<circle cx="692.6" cy="108.8" r="5.3"/>
<circle cx="690.1" cy="112.0" r="5.3"/>
<circle cx="689.4" cy="108.5" r="5.3"/>
<circle cx="691.4" cy="112.8" r="5.3"/>
<circle cx="690.6" cy="115.8" r="5.3"/>
<circle cx="693.2" cy="121.1" r="5.3"/>
<circle cx="691.4" cy="121.2" r="5.3"/>
<circle cx="693.7" cy="113.7" r="5.3"/>
<circle cx="688.8" cy="113.4" r="5.3"/>
<circle cx="691.2" cy="114.9" r="5.3"/>
<circle cx="689.6" cy="121.8" r="5.3"/>
<circle cx="690.1" cy="134.0" r="5.3"/>
<circle cx="689.7" cy="127.7" r="5.3"/>
<circle cx="692.1" cy="125.1" r="5.3"/>
<circle cx="690.5" cy="129.9" r="5.3"/>
<circle cx="692.5" cy="133.0" r="5.3"/>
<circle cx="691.3" cy="133.6" r="5.3"/>
<circle cx="689.7" cy="129.3" r="5.3"/>
<circle cx="692.6" cy="123.0" r="5.3"/>
<circle cx="692.7" cy="131.8" r="5.3"/>
<circle cx="691.4" cy="133.1" r="5.3"/>
<circle cx="692.2" cy="137.7" r="5.3"/>
<circle cx="692.9" cy="139.2" r="5.3"/>
<circle cx="692.1" cy="143.9" r="5.3"/>
<circle cx="692.2" cy="141.8" r="5.3"/>
<circle cx="692.9" cy="136.0" r="5.3"/>
<circle cx="688.2" cy="134.8" r="5.3"/>
<circle cx="690.8" cy="143.7" r="5.3"/>
<circle cx="690.7" cy="143.2" r="5.3"/>
<circle cx="689.8" cy="135.4" r="5.3"/>
<circle cx="690.5" cy="142.4" r="5.3"/>
<circle cx="693.8" cy="88.1" r="5.3"/>
<circle cx="691.3" cy="92.5" r="5.3"/>
<circle cx="690.3" cy="148.0" r="5.3"/>
<circle cx="692.7" cy="155.8" r="5.3"/>
<circle cx="690.6" cy="161.0" r="5.3"/>
<circle cx="689.8" cy="177.0" r="5.3"/>
<circle cx="692.6" cy="179.0" r="5.3"/>
<circle cx="688.5" cy="181.0" r="5.3"/>
<circle cx="692.7" cy="189.0" r="5.3"/>
<circle cx="693.7" cy="191.8" r="5.3"/>
<circle cx="688.6" cy="197.0" r="5.3"/>
<circle cx="692.7" cy="237.5" r="5.3"/>
<circle cx="709.1" cy="101.6" r="5.3"/>
<circle cx="710.7" cy="120.0" r="5.3"/>
<circle cx="709.3" cy="108.6" r="5.3"/>
<circle cx="711.6" cy="102.7" r="5.3"/>
<circle cx="714.8" cy="104.0" r="5.3"/>
<circle cx="714.3" cy="110.4" r="5.3"/>
<circle cx="713.2" cy="114.6" r="5.3"/>
<circle cx="713.0" cy="116.0" r="5.3"/>
<circle cx="714.2" cy="102.0" r="5.3"/>
<circle cx="709.5" cy="128.4" r="5.3"/>
<circle cx="709.6" cy="130.3" r="5.3"/>
<circle cx="714.6" cy="129.2" r="5.3"/>
<circle cx="709.9" cy="123.6" r="5.3"/>
<circle cx="712.1" cy="81.1" r="5.3"/>
<circle cx="713.4" cy="88.8" r="5.3"/>
<circle cx="713.5" cy="88.0" r="5.3"/>
<circle cx="714.2" cy="94.3" r="5.3"/>
<circle cx="712.2" cy="121.5" r="5.3"/>
<circle cx="713.0" cy="140.0" r="5.3"/>
<circle cx="709.0" cy="141.5" r="5.3"/>
<circle cx="711.9" cy="143.0" r="5.3"/>
<circle cx="709.5" cy="144.4" r="5.3"/>
<circle cx="710.2" cy="154.6" r="5.3"/>
<circle cx="710.7" cy="166.3" r="5.3"/>
<circle cx="712.4" cy="176.0" r="5.3"/>
<circle cx="709.4" cy="179.9" r="5.3"/>
<circle cx="713.2" cy="220.4" r="5.3"/>
<circle cx="711.3" cy="249.8" r="5.3"/>
<circle cx="729.0" cy="105.4" r="5.3"/>
<circle cx="731.0" cy="106.0" r="5.3"/>
<circle cx="733.0" cy="104.8" r="5.3"/>
<circle cx="735.0" cy="105.6" r="5.3"/>
<circle cx="735.7" cy="117.1" r="5.3"/>
<circle cx="735.4" cy="156.7" r="5.3"/>
<circle cx="730.0" cy="162.8" r="5.3"/>
<circle cx="731.5" cy="163.5" r="5.3"/>
<circle cx="733.6" cy="179.5" r="5.3"/>
<circle cx="732.0" cy="128.0" r="5.3"/>
<circle cx="734.0" cy="131.0" r="5.3"/>
<circle cx="753.7" cy="107.3" r="5.3"/>
<circle cx="755.5" cy="107.8" r="5.3"/>
<circle cx="772.6" cy="93.7" r="5.3"/>
<circle cx="774.7" cy="102.2" r="5.3"/>
<circle cx="774.4" cy="177.4" r="5.3"/>
<circle cx="775.4" cy="178.6" r="5.3"/>
</g>
<path d="M513.2,99.3 L539.4,113.0 L565.5,117.9 L617.8,121.2 L670.1,123.0 L719.3,123.9 L774.7,113.2 L774.7,153.4 L719.3,137.4 L670.1,134.4 L617.8,132.5 L565.5,129.2 L539.4,127.0 L513.2,130.5Z" fill="#000" fill-opacity="0.2"/>
<path d="M513.2,108.6 L539.4,113.9 L565.5,117.9 L617.8,121.2 L670.1,123.0 L719.3,123.9 L774.7,125.9 L774.7,139.2 L719.3,137.4 L670.1,134.4 L617.8,132.5 L565.5,129.2 L539.4,126.5 L513.2,125.2Z" fill="#9E9E9E" fill-opacity="1"/>
<path d="M513.2,110.9 C517.6,112.0 530.6,115.4 539.4,117.5 C548.1,119.6 552.4,121.7 565.5,123.5 C578.6,125.3 600.4,127.2 617.8,128.3 C635.2,129.4 652.7,129.6 670.1,130.3 C687.5,131.0 705.0,131.5 722.4,132.5 C739.8,133.5 766.0,135.8 774.7,136.5" fill="none" stroke="#333" stroke-width="2.85" stroke-dasharray="19.8 8.5"/>
<path d="M513.2,119.2 C517.6,119.4 530.6,120.0 539.4,120.5 C548.1,121.0 552.4,121.7 565.5,122.5 C578.6,123.3 600.4,124.7 617.8,125.5 C635.2,126.3 652.7,126.8 670.1,127.5 C687.5,128.2 705.0,129.0 722.4,129.5 C739.8,130.0 766.0,130.2 774.7,130.3" fill="none" stroke="#333" stroke-width="2.85" stroke-dasharray="11.3 11.3"/>
<text x="484" y="113.9" text-anchor="end" class="tk">0</text>
<text x="484" y="170.3" text-anchor="end" class="tk">-1</text>
<text x="484" y="226.7" text-anchor="end" class="tk">-2</text>
<text x="484" y="283.1" text-anchor="end" class="tk">-3</text>
<text x="566.0" y="353.3" text-anchor="middle" class="tk">15</text>
<text x="670.6" y="353.3" text-anchor="middle" class="tk">20</text>
<text x="775.2" y="353.3" text-anchor="middle" class="tk">25</text>
<!-- panel xi -->
<line x1="150.7" y1="424" x2="150.7" y2="681" stroke="#EBEBEB" stroke-width="1.35"/>
<line x1="255.5" y1="424" x2="255.5" y2="681" stroke="#EBEBEB" stroke-width="1.35"/>
<line x1="360.3" y1="424" x2="360.3" y2="681" stroke="#EBEBEB" stroke-width="1.35"/>
<line x1="137" y1="442.2" x2="428" y2="442.2" stroke="#EBEBEB" stroke-width="1.35"/>
<line x1="137" y1="504.3" x2="428" y2="504.3" stroke="#EBEBEB" stroke-width="1.35"/>
<line x1="137" y1="566.4" x2="428" y2="566.4" stroke="#EBEBEB" stroke-width="1.35"/>
<line x1="137" y1="628.5" x2="428" y2="628.5" stroke="#EBEBEB" stroke-width="1.35"/>
<line x1="203.1" y1="424" x2="203.1" y2="681" stroke="#EBEBEB" stroke-width="2.7"/>
<line x1="307.9" y1="424" x2="307.9" y2="681" stroke="#EBEBEB" stroke-width="2.7"/>
<line x1="412.7" y1="424" x2="412.7" y2="681" stroke="#EBEBEB" stroke-width="2.7"/>
<line x1="137" y1="473.3" x2="428" y2="473.3" stroke="#EBEBEB" stroke-width="2.7"/>
<line x1="137" y1="535.4" x2="428" y2="535.4" stroke="#EBEBEB" stroke-width="2.7"/>
<line x1="137" y1="597.5" x2="428" y2="597.5" stroke="#EBEBEB" stroke-width="2.7"/>
<line x1="137" y1="659.6" x2="428" y2="659.6" stroke="#EBEBEB" stroke-width="2.7"/>
<g fill="#309200" fill-opacity="0.1" stroke="#309200" stroke-opacity="0.14" stroke-width="1">
<circle cx="164.4" cy="504.9" r="5.3"/>
<circle cx="171.2" cy="501.5" r="5.3"/>
<circle cx="172.5" cy="503.0" r="5.3"/>
<circle cx="165.1" cy="509.0" r="5.3"/>
<circle cx="175.3" cy="511.0" r="5.3"/>
<circle cx="184.2" cy="517.0" r="5.3"/>
<circle cx="176.0" cy="521.0" r="5.3"/>
<circle cx="163.7" cy="522.0" r="5.3"/>
<circle cx="162.5" cy="523.5" r="5.3"/>
<circle cx="165.0" cy="520.5" r="5.3"/>
<circle cx="202.0" cy="503.5" r="5.3"/>
<circle cx="202.7" cy="507.6" r="5.3"/>
<circle cx="204.0" cy="521.6" r="5.3"/>
<circle cx="212.9" cy="521.6" r="5.3"/>
<circle cx="225.0" cy="526.0" r="5.3"/>
<circle cx="232.8" cy="527.5" r="5.3"/>
<circle cx="231.5" cy="528.5" r="5.3"/>
<circle cx="234.0" cy="526.5" r="5.3"/>
<circle cx="254.0" cy="527.5" r="5.3"/>
<circle cx="148.7" cy="535.7" r="5.3"/>
<circle cx="163.5" cy="533.0" r="5.3"/>
<circle cx="178.5" cy="532.0" r="5.3"/>
<circle cx="182.0" cy="535.0" r="5.3"/>
<circle cx="270.6" cy="472.7" r="5.3"/>
<circle cx="272.0" cy="480.6" r="5.3"/>
<circle cx="259.7" cy="490.3" r="5.3"/>
<circle cx="151.4" cy="558.7" r="5.3"/>
<circle cx="166.4" cy="556.6" r="5.3"/>
<circle cx="169.0" cy="555.5" r="5.3"/>
<circle cx="169.2" cy="568.2" r="5.3"/>
<circle cx="176.0" cy="571.0" r="5.3"/>
<circle cx="179.8" cy="577.1" r="5.3"/>
<circle cx="169.9" cy="592.2" r="5.3"/>
<circle cx="168.8" cy="591.0" r="5.3"/>
<circle cx="171.0" cy="593.4" r="5.3"/>
<circle cx="183.8" cy="595.6" r="5.3"/>
<circle cx="175.6" cy="610.2" r="5.3"/>
<circle cx="184.9" cy="561.4" r="5.3"/>
<circle cx="208.4" cy="580.1" r="5.3"/>
<circle cx="218.4" cy="586.0" r="5.3"/>
<circle cx="222.1" cy="577.4" r="5.3"/>
<circle cx="207.5" cy="597.6" r="5.3"/>
<circle cx="206.3" cy="596.4" r="5.3"/>
<circle cx="208.8" cy="598.8" r="5.3"/>
<circle cx="204.7" cy="603.8" r="5.3"/>
<circle cx="223.9" cy="598.3" r="5.3"/>
<circle cx="229.3" cy="594.9" r="5.3"/>
<circle cx="238.2" cy="593.1" r="5.3"/>
<circle cx="223.9" cy="612.7" r="5.3"/>
<circle cx="215.0" cy="627.0" r="5.3"/>
<circle cx="236.2" cy="630.5" r="5.3"/>
<circle cx="236.9" cy="560.7" r="5.3"/>
<circle cx="235.7" cy="559.5" r="5.3"/>
<circle cx="238.0" cy="562.0" r="5.3"/>
<circle cx="251.2" cy="565.5" r="5.3"/>
<circle cx="250.0" cy="564.2" r="5.3"/>
<circle cx="252.5" cy="566.8" r="5.3"/>
<circle cx="256.7" cy="573.7" r="5.3"/>
<circle cx="258.3" cy="604.8" r="5.3"/>
<circle cx="256.7" cy="611.9" r="5.3"/>
<circle cx="196.0" cy="571.0" r="5.3"/>
<circle cx="279.0" cy="528.0" r="5.3"/>
<circle cx="278.0" cy="545.0" r="5.3"/>
<circle cx="277.0" cy="562.0" r="5.3"/>
<circle cx="298.0" cy="540.0" r="5.3"/>
<circle cx="222.1" cy="533.5" r="5.3"/>
<circle cx="205.4" cy="532.0" r="5.3"/>
<circle cx="191.6" cy="542.1" r="5.3"/>
<circle cx="225.0" cy="540.4" r="5.3"/>
<circle cx="208.9" cy="537.9" r="5.3"/>
<circle cx="199.9" cy="533.5" r="5.3"/>
<circle cx="243.8" cy="539.0" r="5.3"/>
<circle cx="239.7" cy="533.7" r="5.3"/>
<circle cx="199.1" cy="537.6" r="5.3"/>
<circle cx="208.7" cy="539.1" r="5.3"/>
<circle cx="230.5" cy="535.0" r="5.3"/>
<circle cx="225.9" cy="535.9" r="5.3"/>
<circle cx="208.1" cy="535.4" r="5.3"/>
<circle cx="215.1" cy="541.0" r="5.3"/>
<circle cx="215.6" cy="535.4" r="5.3"/>
<circle cx="243.9" cy="531.0" r="5.3"/>
<circle cx="242.6" cy="538.5" r="5.3"/>
<circle cx="237.9" cy="537.7" r="5.3"/>
<circle cx="209.1" cy="531.6" r="5.3"/>
<circle cx="191.8" cy="534.0" r="5.3"/>
<circle cx="238.0" cy="537.9" r="5.3"/>
<circle cx="210.1" cy="533.6" r="5.3"/>
<circle cx="196.1" cy="540.2" r="5.3"/>
<circle cx="251.5" cy="531.1" r="5.3"/>
<circle cx="176.0" cy="537.3" r="5.3"/>
<circle cx="246.8" cy="540.7" r="5.3"/>
<circle cx="211.9" cy="540.3" r="5.3"/>
<circle cx="239.0" cy="535.5" r="5.3"/>
<circle cx="186.1" cy="533.5" r="5.3"/>
<circle cx="196.5" cy="540.9" r="5.3"/>
<circle cx="240.7" cy="541.4" r="5.3"/>
<circle cx="190.9" cy="534.3" r="5.3"/>
<circle cx="220.5" cy="538.3" r="5.3"/>
<circle cx="234.6" cy="533.4" r="5.3"/>
<circle cx="220.7" cy="532.7" r="5.3"/>
<circle cx="231.1" cy="538.9" r="5.3"/>
<circle cx="176.1" cy="537.2" r="5.3"/>
<circle cx="230.6" cy="532.8" r="5.3"/>
<circle cx="194.9" cy="541.7" r="5.3"/>
<circle cx="229.3" cy="530.9" r="5.3"/>
<circle cx="217.5" cy="530.2" r="5.3"/>
<circle cx="191.5" cy="533.9" r="5.3"/>
<circle cx="258.0" cy="537.2" r="5.3"/>
<circle cx="215.5" cy="535.2" r="5.3"/>
<circle cx="225.3" cy="533.7" r="5.3"/>
<circle cx="229.7" cy="539.6" r="5.3"/>
<circle cx="207.1" cy="530.5" r="5.3"/>
<circle cx="243.7" cy="533.2" r="5.3"/>
<circle cx="210.4" cy="535.7" r="5.3"/>
<circle cx="233.1" cy="531.4" r="5.3"/>
<circle cx="231.7" cy="540.6" r="5.3"/>
<circle cx="251.4" cy="540.1" r="5.3"/>
<circle cx="187.2" cy="538.7" r="5.3"/>
<circle cx="182.6" cy="530.2" r="5.3"/>
<circle cx="211.9" cy="536.9" r="5.3"/>
<circle cx="187.1" cy="545.5" r="5.3"/>
<circle cx="229.4" cy="550.1" r="5.3"/>
<circle cx="213.5" cy="550.9" r="5.3"/>
<circle cx="202.6" cy="543.3" r="5.3"/>
<circle cx="204.7" cy="543.9" r="5.3"/>
<circle cx="152.5" cy="545.5" r="5.3"/>
<circle cx="193.4" cy="552.4" r="5.3"/>
<circle cx="241.2" cy="550.7" r="5.3"/>
<circle cx="208.6" cy="555.2" r="5.3"/>
<circle cx="169.8" cy="552.0" r="5.3"/>
<circle cx="240.4" cy="551.3" r="5.3"/>
<circle cx="234.2" cy="545.4" r="5.3"/>
<circle cx="210.1" cy="547.7" r="5.3"/>
<circle cx="205.9" cy="553.6" r="5.3"/>
<circle cx="257.9" cy="555.5" r="5.3"/>
<circle cx="205.7" cy="550.2" r="5.3"/>
<circle cx="162.0" cy="547.7" r="5.3"/>
<circle cx="202.5" cy="547.8" r="5.3"/>
<circle cx="195.8" cy="551.6" r="5.3"/>
<circle cx="184.4" cy="554.8" r="5.3"/>
<circle cx="192.3" cy="544.2" r="5.3"/>
<circle cx="226.4" cy="550.6" r="5.3"/>
<circle cx="233.4" cy="544.7" r="5.3"/>
<circle cx="229.5" cy="552.5" r="5.3"/>
<circle cx="184.1" cy="551.6" r="5.3"/>
<circle cx="217.0" cy="555.7" r="5.3"/>
<circle cx="220.4" cy="548.6" r="5.3"/>
<circle cx="255.0" cy="548.4" r="5.3"/>
<circle cx="214.1" cy="554.6" r="5.3"/>
<circle cx="208.6" cy="544.3" r="5.3"/>
<circle cx="179.2" cy="547.3" r="5.3"/>
<circle cx="245.1" cy="547.2" r="5.3"/>
<circle cx="238.0" cy="548.7" r="5.3"/>
<circle cx="249.0" cy="548.9" r="5.3"/>
<circle cx="202.4" cy="550.3" r="5.3"/>
<circle cx="196.5" cy="563.4" r="5.3"/>
<circle cx="209.7" cy="562.3" r="5.3"/>
<circle cx="226.1" cy="568.1" r="5.3"/>
<circle cx="185.6" cy="564.5" r="5.3"/>
<circle cx="216.4" cy="571.7" r="5.3"/>
<circle cx="199.7" cy="570.4" r="5.3"/>
<circle cx="209.8" cy="567.2" r="5.3"/>
<circle cx="230.8" cy="562.2" r="5.3"/>
<circle cx="211.5" cy="561.8" r="5.3"/>
<circle cx="234.0" cy="557.9" r="5.3"/>
<circle cx="218.1" cy="558.0" r="5.3"/>
<circle cx="188.0" cy="571.2" r="5.3"/>
<circle cx="205.6" cy="562.4" r="5.3"/>
<circle cx="203.8" cy="568.2" r="5.3"/>
<circle cx="247.4" cy="560.4" r="5.3"/>
<circle cx="255.8" cy="562.3" r="5.3"/>
<circle cx="237.0" cy="559.6" r="5.3"/>
<circle cx="209.9" cy="570.4" r="5.3"/>
<circle cx="210.6" cy="560.4" r="5.3"/>
<circle cx="241.3" cy="567.7" r="5.3"/>
<circle cx="186.1" cy="566.0" r="5.3"/>
<circle cx="189.8" cy="571.3" r="5.3"/>
<circle cx="249.4" cy="561.3" r="5.3"/>
<circle cx="225.4" cy="565.1" r="5.3"/>
<circle cx="244.6" cy="559.9" r="5.3"/>
<circle cx="247.8" cy="565.3" r="5.3"/>
<circle cx="191.8" cy="559.2" r="5.3"/>
<circle cx="211.8" cy="564.2" r="5.3"/>
<circle cx="199.3" cy="569.6" r="5.3"/>
<circle cx="218.6" cy="570.9" r="5.3"/>
<circle cx="228.9" cy="563.5" r="5.3"/>
<circle cx="193.2" cy="564.5" r="5.3"/>
</g>
<g fill="#1D0458" fill-opacity="0.11" stroke="#1D0458" stroke-opacity="0.14" stroke-width="1">
<circle cx="265.8" cy="520.1" r="5.3"/>
<circle cx="265.5" cy="523.4" r="5.3"/>
<circle cx="266.2" cy="526.8" r="5.3"/>
<circle cx="265.8" cy="511.9" r="5.3"/>
<circle cx="263.9" cy="518.4" r="5.3"/>
<circle cx="265.8" cy="525.6" r="5.3"/>
<circle cx="266.5" cy="514.1" r="5.3"/>
<circle cx="264.8" cy="520.7" r="5.3"/>
<circle cx="267.7" cy="523.8" r="5.3"/>
<circle cx="266.8" cy="515.6" r="5.3"/>
<circle cx="266.4" cy="515.4" r="5.3"/>
<circle cx="263.4" cy="524.7" r="5.3"/>
<circle cx="266.9" cy="542.8" r="5.3"/>
<circle cx="267.5" cy="532.5" r="5.3"/>
<circle cx="263.1" cy="535.0" r="5.3"/>
<circle cx="265.0" cy="536.2" r="5.3"/>
<circle cx="265.2" cy="529.7" r="5.3"/>
<circle cx="263.4" cy="534.0" r="5.3"/>
<circle cx="266.5" cy="531.5" r="5.3"/>
<circle cx="264.1" cy="532.2" r="5.3"/>
<circle cx="267.4" cy="539.7" r="5.3"/>
<circle cx="265.9" cy="529.8" r="5.3"/>
<circle cx="268.6" cy="541.2" r="5.3"/>
<circle cx="264.8" cy="529.1" r="5.3"/>
<circle cx="265.9" cy="531.4" r="5.3"/>
<circle cx="265.3" cy="534.6" r="5.3"/>
<circle cx="264.8" cy="541.8" r="5.3"/>
<circle cx="265.3" cy="530.6" r="5.3"/>
<circle cx="266.4" cy="541.4" r="5.3"/>
<circle cx="264.4" cy="536.1" r="5.3"/>
<circle cx="265.2" cy="538.5" r="5.3"/>
<circle cx="264.9" cy="532.6" r="5.3"/>
<circle cx="268.7" cy="540.5" r="5.3"/>
<circle cx="267.2" cy="538.2" r="5.3"/>
<circle cx="268.6" cy="529.8" r="5.3"/>
<circle cx="265.6" cy="537.7" r="5.3"/>
<circle cx="263.8" cy="542.9" r="5.3"/>
<circle cx="267.1" cy="539.6" r="5.3"/>
<circle cx="268.8" cy="537.1" r="5.3"/>
<circle cx="268.5" cy="534.2" r="5.3"/>
<circle cx="268.5" cy="536.1" r="5.3"/>
<circle cx="267.6" cy="532.8" r="5.3"/>
<circle cx="265.8" cy="536.8" r="5.3"/>
<circle cx="266.1" cy="541.9" r="5.3"/>
<circle cx="265.7" cy="541.3" r="5.3"/>
<circle cx="263.6" cy="531.9" r="5.3"/>
<circle cx="264.0" cy="531.6" r="5.3"/>
<circle cx="266.5" cy="530.4" r="5.3"/>
<circle cx="267.0" cy="541.2" r="5.3"/>
<circle cx="268.5" cy="543.7" r="5.3"/>
<circle cx="264.5" cy="548.3" r="5.3"/>
<circle cx="263.1" cy="551.1" r="5.3"/>
<circle cx="265.7" cy="548.1" r="5.3"/>
<circle cx="263.9" cy="543.8" r="5.3"/>
<circle cx="268.3" cy="550.2" r="5.3"/>
<circle cx="265.1" cy="553.6" r="5.3"/>
<circle cx="263.7" cy="547.8" r="5.3"/>
<circle cx="263.4" cy="552.5" r="5.3"/>
<circle cx="268.3" cy="546.4" r="5.3"/>
<circle cx="267.9" cy="554.4" r="5.3"/>
<circle cx="264.4" cy="554.6" r="5.3"/>
<circle cx="265.0" cy="551.5" r="5.3"/>
<circle cx="266.2" cy="547.2" r="5.3"/>
<circle cx="266.6" cy="543.0" r="5.3"/>
<circle cx="266.0" cy="549.0" r="5.3"/>
<circle cx="266.8" cy="552.2" r="5.3"/>
<circle cx="268.3" cy="552.6" r="5.3"/>
<circle cx="268.2" cy="547.5" r="5.3"/>
<circle cx="263.6" cy="550.8" r="5.3"/>
<circle cx="263.3" cy="554.5" r="5.3"/>
<circle cx="265.9" cy="546.1" r="5.3"/>
<circle cx="263.2" cy="553.1" r="5.3"/>
<circle cx="268.0" cy="544.6" r="5.3"/>
<circle cx="267.6" cy="544.0" r="5.3"/>
<circle cx="267.2" cy="549.4" r="5.3"/>
<circle cx="266.8" cy="544.6" r="5.3"/>
<circle cx="267.7" cy="552.4" r="5.3"/>
<circle cx="268.0" cy="562.2" r="5.3"/>
<circle cx="264.5" cy="564.9" r="5.3"/>
<circle cx="267.2" cy="568.7" r="5.3"/>
<circle cx="265.7" cy="566.0" r="5.3"/>
<circle cx="266.9" cy="565.6" r="5.3"/>
<circle cx="267.3" cy="560.6" r="5.3"/>
<circle cx="264.4" cy="560.2" r="5.3"/>
<circle cx="267.7" cy="572.4" r="5.3"/>
<circle cx="264.9" cy="566.8" r="5.3"/>
<circle cx="266.5" cy="570.8" r="5.3"/>
<circle cx="263.1" cy="566.2" r="5.3"/>
<circle cx="268.2" cy="572.4" r="5.3"/>
<circle cx="265.5" cy="563.7" r="5.3"/>
<circle cx="268.0" cy="571.8" r="5.3"/>
<circle cx="264.4" cy="571.0" r="5.3"/>
<circle cx="263.7" cy="555.9" r="5.3"/>
<circle cx="263.2" cy="556.4" r="5.3"/>
<circle cx="263.6" cy="559.2" r="5.3"/>
<circle cx="264.7" cy="572.4" r="5.3"/>
<circle cx="267.8" cy="556.9" r="5.3"/>
<circle cx="264.1" cy="567.5" r="5.3"/>
<circle cx="266.6" cy="563.0" r="5.3"/>
<circle cx="265.5" cy="568.4" r="5.3"/>
<circle cx="265.9" cy="568.0" r="5.3"/>
<circle cx="263.0" cy="556.8" r="5.3"/>
<circle cx="264.1" cy="565.7" r="5.3"/>
<circle cx="266.5" cy="570.6" r="5.3"/>
<circle cx="268.3" cy="569.5" r="5.3"/>
<circle cx="265.0" cy="556.1" r="5.3"/>
<circle cx="268.3" cy="571.8" r="5.3"/>
<circle cx="263.1" cy="555.1" r="5.3"/>
<circle cx="264.0" cy="561.5" r="5.3"/>
<circle cx="267.2" cy="563.2" r="5.3"/>
<circle cx="266.9" cy="569.6" r="5.3"/>
<circle cx="264.0" cy="575.2" r="5.3"/>
<circle cx="268.8" cy="576.8" r="5.3"/>
<circle cx="265.9" cy="576.9" r="5.3"/>
<circle cx="266.3" cy="578.1" r="5.3"/>
<circle cx="268.2" cy="484.5" r="5.3"/>
<circle cx="266.8" cy="484.4" r="5.3"/>
<circle cx="264.4" cy="484.8" r="5.3"/>
<circle cx="264.2" cy="488.0" r="5.3"/>
<circle cx="265.0" cy="488.7" r="5.3"/>
<circle cx="267.9" cy="502.6" r="5.3"/>
<circle cx="265.1" cy="508.8" r="5.3"/>
<circle cx="266.6" cy="510.5" r="5.3"/>
<circle cx="265.6" cy="581.6" r="5.3"/>
<circle cx="265.7" cy="587.8" r="5.3"/>
<circle cx="268.8" cy="593.0" r="5.3"/>
<circle cx="266.9" cy="617.4" r="5.3"/>
<circle cx="268.2" cy="618.6" r="5.3"/>
<circle cx="268.8" cy="627.0" r="5.3"/>
<circle cx="284.7" cy="519.6" r="5.3"/>
<circle cx="287.9" cy="515.8" r="5.3"/>
<circle cx="286.9" cy="519.6" r="5.3"/>
<circle cx="289.0" cy="514.8" r="5.3"/>
<circle cx="286.2" cy="513.3" r="5.3"/>
<circle cx="286.8" cy="511.0" r="5.3"/>
<circle cx="285.3" cy="516.3" r="5.3"/>
<circle cx="288.6" cy="519.0" r="5.3"/>
<circle cx="284.9" cy="512.4" r="5.3"/>
<circle cx="285.0" cy="515.9" r="5.3"/>
<circle cx="285.8" cy="512.5" r="5.3"/>
<circle cx="284.3" cy="517.5" r="5.3"/>
<circle cx="289.5" cy="510.5" r="5.3"/>
<circle cx="286.9" cy="538.1" r="5.3"/>
<circle cx="289.2" cy="528.1" r="5.3"/>
<circle cx="284.3" cy="537.6" r="5.3"/>
<circle cx="288.2" cy="529.1" r="5.3"/>
<circle cx="289.8" cy="536.5" r="5.3"/>
<circle cx="287.4" cy="533.6" r="5.3"/>
<circle cx="284.4" cy="542.1" r="5.3"/>
<circle cx="289.9" cy="523.8" r="5.3"/>
<circle cx="288.6" cy="533.3" r="5.3"/>
<circle cx="286.3" cy="533.6" r="5.3"/>
<circle cx="284.7" cy="528.1" r="5.3"/>
<circle cx="285.9" cy="535.7" r="5.3"/>
<circle cx="287.1" cy="520.6" r="5.3"/>
<circle cx="285.7" cy="528.8" r="5.3"/>
<circle cx="286.1" cy="538.1" r="5.3"/>
<circle cx="288.9" cy="541.9" r="5.3"/>
<circle cx="289.6" cy="531.2" r="5.3"/>
<circle cx="287.3" cy="533.9" r="5.3"/>
<circle cx="287.0" cy="520.9" r="5.3"/>
<circle cx="284.6" cy="538.3" r="5.3"/>
<circle cx="288.5" cy="527.1" r="5.3"/>
<circle cx="285.1" cy="533.1" r="5.3"/>
<circle cx="289.0" cy="521.3" r="5.3"/>
<circle cx="287.9" cy="525.2" r="5.3"/>
<circle cx="285.5" cy="530.1" r="5.3"/>
<circle cx="284.9" cy="537.1" r="5.3"/>
<circle cx="284.5" cy="531.4" r="5.3"/>
<circle cx="287.9" cy="539.1" r="5.3"/>
<circle cx="287.3" cy="523.0" r="5.3"/>
<circle cx="288.8" cy="541.6" r="5.3"/>
<circle cx="284.1" cy="541.0" r="5.3"/>
<circle cx="287.7" cy="533.7" r="5.3"/>
<circle cx="286.3" cy="523.7" r="5.3"/>
<circle cx="287.5" cy="540.4" r="5.3"/>
<circle cx="284.1" cy="532.8" r="5.3"/>
<circle cx="287.8" cy="541.1" r="5.3"/>
<circle cx="284.0" cy="528.5" r="5.3"/>
<circle cx="284.7" cy="527.1" r="5.3"/>
<circle cx="289.4" cy="524.1" r="5.3"/>
<circle cx="286.1" cy="538.9" r="5.3"/>
<circle cx="288.4" cy="541.1" r="5.3"/>
<circle cx="284.7" cy="521.7" r="5.3"/>
<circle cx="285.3" cy="531.4" r="5.3"/>
<circle cx="288.0" cy="522.7" r="5.3"/>
<circle cx="287.7" cy="525.1" r="5.3"/>
<circle cx="289.7" cy="532.8" r="5.3"/>
<circle cx="284.8" cy="539.2" r="5.3"/>
<circle cx="286.9" cy="537.7" r="5.3"/>
<circle cx="287.2" cy="540.4" r="5.3"/>
<circle cx="285.6" cy="542.3" r="5.3"/>
<circle cx="284.0" cy="528.7" r="5.3"/>
<circle cx="284.9" cy="542.7" r="5.3"/>
<circle cx="284.1" cy="526.6" r="5.3"/>
<circle cx="286.3" cy="521.7" r="5.3"/>
<circle cx="289.4" cy="537.7" r="5.3"/>
<circle cx="287.2" cy="529.3" r="5.3"/>
<circle cx="285.1" cy="523.8" r="5.3"/>
<circle cx="286.4" cy="534.1" r="5.3"/>
<circle cx="289.1" cy="525.6" r="5.3"/>
<circle cx="289.1" cy="535.2" r="5.3"/>
<circle cx="284.9" cy="520.7" r="5.3"/>
<circle cx="284.1" cy="542.2" r="5.3"/>
<circle cx="285.4" cy="521.5" r="5.3"/>
<circle cx="287.9" cy="526.3" r="5.3"/>
<circle cx="289.6" cy="535.3" r="5.3"/>
<circle cx="289.3" cy="535.0" r="5.3"/>
<circle cx="288.3" cy="530.6" r="5.3"/>
<circle cx="286.5" cy="538.0" r="5.3"/>
<circle cx="285.0" cy="521.5" r="5.3"/>
<circle cx="289.4" cy="528.8" r="5.3"/>
<circle cx="287.3" cy="529.1" r="5.3"/>
<circle cx="288.4" cy="537.9" r="5.3"/>
<circle cx="285.0" cy="537.8" r="5.3"/>
<circle cx="285.8" cy="533.1" r="5.3"/>
<circle cx="286.8" cy="539.5" r="5.3"/>
<circle cx="286.4" cy="539.0" r="5.3"/>
<circle cx="289.6" cy="548.8" r="5.3"/>
<circle cx="288.8" cy="551.9" r="5.3"/>
<circle cx="285.3" cy="547.5" r="5.3"/>
<circle cx="289.3" cy="550.6" r="5.3"/>
<circle cx="289.0" cy="549.0" r="5.3"/>
<circle cx="286.2" cy="550.9" r="5.3"/>
<circle cx="286.0" cy="548.8" r="5.3"/>
<circle cx="285.2" cy="547.0" r="5.3"/>
<circle cx="286.6" cy="544.1" r="5.3"/>
<circle cx="284.5" cy="551.9" r="5.3"/>
<circle cx="289.9" cy="544.6" r="5.3"/>
<circle cx="286.1" cy="549.7" r="5.3"/>
<circle cx="284.8" cy="543.7" r="5.3"/>
<circle cx="289.4" cy="545.8" r="5.3"/>
<circle cx="289.7" cy="548.2" r="5.3"/>
<circle cx="287.5" cy="548.4" r="5.3"/>
<circle cx="287.0" cy="545.7" r="5.3"/>
<circle cx="287.7" cy="547.4" r="5.3"/>
<circle cx="289.0" cy="545.9" r="5.3"/>
<circle cx="285.1" cy="551.6" r="5.3"/>
<circle cx="287.2" cy="545.3" r="5.3"/>
<circle cx="288.6" cy="545.9" r="5.3"/>
<circle cx="288.3" cy="549.6" r="5.3"/>
<circle cx="285.7" cy="549.4" r="5.3"/>
<circle cx="286.9" cy="543.3" r="5.3"/>
<circle cx="289.8" cy="545.6" r="5.3"/>
<circle cx="286.2" cy="551.8" r="5.3"/>
<circle cx="288.1" cy="544.7" r="5.3"/>
<circle cx="287.8" cy="543.2" r="5.3"/>
<circle cx="288.4" cy="549.0" r="5.3"/>
<circle cx="287.9" cy="548.7" r="5.3"/>
<circle cx="286.1" cy="549.6" r="5.3"/>
<circle cx="286.7" cy="550.5" r="5.3"/>
<circle cx="284.2" cy="558.3" r="5.3"/>
<circle cx="284.9" cy="563.2" r="5.3"/>
<circle cx="287.7" cy="557.4" r="5.3"/>
<circle cx="289.6" cy="560.4" r="5.3"/>
<circle cx="284.0" cy="567.5" r="5.3"/>
<circle cx="284.6" cy="553.3" r="5.3"/>
<circle cx="285.7" cy="562.4" r="5.3"/>
<circle cx="285.4" cy="559.6" r="5.3"/>
<circle cx="284.7" cy="560.1" r="5.3"/>
<circle cx="288.7" cy="559.2" r="5.3"/>
<circle cx="287.4" cy="557.2" r="5.3"/>
<circle cx="284.7" cy="559.4" r="5.3"/>
<circle cx="284.1" cy="562.5" r="5.3"/>
<circle cx="288.2" cy="561.4" r="5.3"/>
<circle cx="285.3" cy="559.5" r="5.3"/>
<circle cx="288.9" cy="557.8" r="5.3"/>
<circle cx="285.9" cy="566.7" r="5.3"/>
<circle cx="285.4" cy="571.6" r="5.3"/>
<circle cx="285.0" cy="553.5" r="5.3"/>
<circle cx="286.5" cy="563.8" r="5.3"/>
<circle cx="287.4" cy="559.5" r="5.3"/>
<circle cx="288.6" cy="569.9" r="5.3"/>
<circle cx="286.9" cy="569.4" r="5.3"/>
<circle cx="288.8" cy="556.6" r="5.3"/>
<circle cx="284.8" cy="555.6" r="5.3"/>
<circle cx="284.5" cy="568.5" r="5.3"/>
<circle cx="286.2" cy="555.8" r="5.3"/>
<circle cx="287.2" cy="558.9" r="5.3"/>
<circle cx="284.2" cy="561.3" r="5.3"/>
<circle cx="288.9" cy="567.1" r="5.3"/>
<circle cx="289.9" cy="562.5" r="5.3"/>
<circle cx="289.7" cy="560.6" r="5.3"/>
<circle cx="286.9" cy="567.9" r="5.3"/>
<circle cx="286.7" cy="556.3" r="5.3"/>
<circle cx="288.2" cy="571.3" r="5.3"/>
<circle cx="286.1" cy="561.3" r="5.3"/>
<circle cx="285.8" cy="566.8" r="5.3"/>
<circle cx="286.9" cy="557.6" r="5.3"/>
<circle cx="289.3" cy="553.3" r="5.3"/>
<circle cx="288.9" cy="570.3" r="5.3"/>
<circle cx="284.5" cy="553.3" r="5.3"/>
<circle cx="287.8" cy="564.7" r="5.3"/>
<circle cx="285.0" cy="561.7" r="5.3"/>
<circle cx="284.5" cy="561.3" r="5.3"/>
<circle cx="287.1" cy="570.9" r="5.3"/>
<circle cx="286.2" cy="556.2" r="5.3"/>
<circle cx="289.6" cy="565.7" r="5.3"/>
<circle cx="284.7" cy="554.2" r="5.3"/>
<circle cx="286.2" cy="557.8" r="5.3"/>
<circle cx="286.1" cy="558.4" r="5.3"/>
<circle cx="289.4" cy="569.2" r="5.3"/>
<circle cx="288.0" cy="554.8" r="5.3"/>
<circle cx="288.7" cy="561.0" r="5.3"/>
<circle cx="289.2" cy="554.0" r="5.3"/>
<circle cx="284.8" cy="555.6" r="5.3"/>
<circle cx="288.8" cy="572.1" r="5.3"/>
<circle cx="288.4" cy="559.2" r="5.3"/>
<circle cx="284.3" cy="572.3" r="5.3"/>
<circle cx="285.0" cy="569.2" r="5.3"/>
<circle cx="286.8" cy="559.8" r="5.3"/>
<circle cx="286.4" cy="554.5" r="5.3"/>
<circle cx="284.6" cy="570.3" r="5.3"/>
<circle cx="286.7" cy="566.4" r="5.3"/>
<circle cx="285.9" cy="562.6" r="5.3"/>
<circle cx="288.7" cy="565.9" r="5.3"/>
<circle cx="286.3" cy="562.2" r="5.3"/>
<circle cx="289.9" cy="573.4" r="5.3"/>
<circle cx="286.4" cy="574.6" r="5.3"/>
<circle cx="284.6" cy="573.6" r="5.3"/>
<circle cx="288.5" cy="578.5" r="5.3"/>
<circle cx="287.2" cy="576.6" r="5.3"/>
<circle cx="286.3" cy="578.4" r="5.3"/>
<circle cx="288.9" cy="574.1" r="5.3"/>
<circle cx="285.0" cy="575.0" r="5.3"/>
<circle cx="286.7" cy="578.7" r="5.3"/>
<circle cx="288.0" cy="584.9" r="5.3"/>
<circle cx="289.4" cy="575.9" r="5.3"/>
<circle cx="286.4" cy="579.4" r="5.3"/>
<circle cx="288.7" cy="579.1" r="5.3"/>
<circle cx="284.9" cy="573.6" r="5.3"/>
<circle cx="286.0" cy="580.3" r="5.3"/>
<circle cx="285.0" cy="578.5" r="5.3"/>
<circle cx="286.2" cy="584.5" r="5.3"/>
<circle cx="288.1" cy="449.0" r="5.3"/>
<circle cx="289.8" cy="467.1" r="5.3"/>
<circle cx="287.1" cy="471.9" r="5.3"/>
<circle cx="286.9" cy="488.6" r="5.3"/>
<circle cx="289.8" cy="492.0" r="5.3"/>
<circle cx="286.4" cy="500.9" r="5.3"/>
<circle cx="287.3" cy="585.9" r="5.3"/>
<circle cx="285.0" cy="586.5" r="5.3"/>
<circle cx="285.4" cy="586.8" r="5.3"/>
<circle cx="289.3" cy="594.0" r="5.3"/>
<circle cx="285.2" cy="593.0" r="5.3"/>
<circle cx="284.2" cy="597.5" r="5.3"/>
<circle cx="287.3" cy="603.8" r="5.3"/>
<circle cx="284.2" cy="604.7" r="5.3"/>
<circle cx="289.6" cy="626.8" r="5.3"/>
<circle cx="309.4" cy="528.8" r="5.3"/>
<circle cx="309.5" cy="531.7" r="5.3"/>
<circle cx="305.7" cy="530.0" r="5.3"/>
<circle cx="309.1" cy="531.2" r="5.3"/>
<circle cx="310.0" cy="524.8" r="5.3"/>
<circle cx="308.8" cy="519.9" r="5.3"/>
<circle cx="306.9" cy="518.4" r="5.3"/>
<circle cx="307.3" cy="529.2" r="5.3"/>
<circle cx="306.9" cy="530.1" r="5.3"/>
<circle cx="306.1" cy="526.3" r="5.3"/>
<circle cx="306.3" cy="526.2" r="5.3"/>
<circle cx="309.6" cy="541.7" r="5.3"/>
<circle cx="309.5" cy="533.6" r="5.3"/>
<circle cx="309.0" cy="535.2" r="5.3"/>
<circle cx="307.9" cy="533.6" r="5.3"/>
<circle cx="307.6" cy="539.2" r="5.3"/>
<circle cx="305.6" cy="538.5" r="5.3"/>
<circle cx="310.2" cy="537.8" r="5.3"/>
<circle cx="306.9" cy="534.3" r="5.3"/>
<circle cx="307.7" cy="536.3" r="5.3"/>
<circle cx="309.1" cy="540.1" r="5.3"/>
<circle cx="309.1" cy="540.3" r="5.3"/>
<circle cx="309.6" cy="540.0" r="5.3"/>
<circle cx="306.4" cy="538.4" r="5.3"/>
<circle cx="307.2" cy="532.8" r="5.3"/>
<circle cx="308.7" cy="533.6" r="5.3"/>
<circle cx="309.0" cy="537.9" r="5.3"/>
<circle cx="305.3" cy="536.6" r="5.3"/>
<circle cx="308.2" cy="534.7" r="5.3"/>
<circle cx="310.5" cy="542.5" r="5.3"/>
<circle cx="305.5" cy="539.9" r="5.3"/>
<circle cx="307.5" cy="541.2" r="5.3"/>
<circle cx="310.5" cy="537.5" r="5.3"/>
<circle cx="308.7" cy="536.0" r="5.3"/>
<circle cx="308.9" cy="542.9" r="5.3"/>
<circle cx="306.9" cy="532.3" r="5.3"/>
<circle cx="310.7" cy="543.3" r="5.3"/>
<circle cx="309.0" cy="549.4" r="5.3"/>
<circle cx="307.3" cy="553.2" r="5.3"/>
<circle cx="305.6" cy="545.6" r="5.3"/>
<circle cx="309.9" cy="543.1" r="5.3"/>
<circle cx="306.5" cy="544.9" r="5.3"/>
<circle cx="307.4" cy="551.1" r="5.3"/>
<circle cx="310.6" cy="545.7" r="5.3"/>
<circle cx="305.0" cy="551.2" r="5.3"/>
<circle cx="310.4" cy="543.2" r="5.3"/>
<circle cx="308.6" cy="549.5" r="5.3"/>
<circle cx="308.2" cy="549.9" r="5.3"/>
<circle cx="306.6" cy="552.8" r="5.3"/>
<circle cx="306.2" cy="553.4" r="5.3"/>
<circle cx="310.6" cy="552.1" r="5.3"/>
<circle cx="307.2" cy="553.4" r="5.3"/>
<circle cx="306.2" cy="548.4" r="5.3"/>
<circle cx="307.9" cy="544.5" r="5.3"/>
<circle cx="310.8" cy="545.0" r="5.3"/>
<circle cx="307.8" cy="543.9" r="5.3"/>
<circle cx="306.6" cy="552.1" r="5.3"/>
<circle cx="309.0" cy="547.0" r="5.3"/>
<circle cx="308.8" cy="544.9" r="5.3"/>
<circle cx="308.9" cy="567.3" r="5.3"/>
<circle cx="305.0" cy="558.5" r="5.3"/>
<circle cx="306.4" cy="555.3" r="5.3"/>
<circle cx="310.4" cy="564.3" r="5.3"/>
<circle cx="308.6" cy="563.2" r="5.3"/>
<circle cx="308.9" cy="558.3" r="5.3"/>
<circle cx="306.1" cy="555.2" r="5.3"/>
<circle cx="305.8" cy="557.0" r="5.3"/>
<circle cx="309.7" cy="558.8" r="5.3"/>
<circle cx="307.2" cy="565.1" r="5.3"/>
<circle cx="310.7" cy="555.6" r="5.3"/>
<circle cx="308.4" cy="560.3" r="5.3"/>
<circle cx="306.0" cy="559.1" r="5.3"/>
<circle cx="309.6" cy="558.0" r="5.3"/>
<circle cx="308.3" cy="560.8" r="5.3"/>
<circle cx="305.0" cy="566.9" r="5.3"/>
<circle cx="310.1" cy="566.5" r="5.3"/>
<circle cx="307.5" cy="560.4" r="5.3"/>
<circle cx="308.9" cy="568.8" r="5.3"/>
<circle cx="307.9" cy="480.3" r="5.3"/>
<circle cx="306.7" cy="492.0" r="5.3"/>
<circle cx="307.7" cy="494.7" r="5.3"/>
<circle cx="308.3" cy="501.7" r="5.3"/>
<circle cx="308.7" cy="511.6" r="5.3"/>
<circle cx="308.4" cy="511.3" r="5.3"/>
<circle cx="307.7" cy="573.7" r="5.3"/>
<circle cx="307.6" cy="584.4" r="5.3"/>
<circle cx="306.6" cy="582.9" r="5.3"/>
<circle cx="308.2" cy="582.5" r="5.3"/>
<circle cx="305.9" cy="592.2" r="5.3"/>
<circle cx="308.7" cy="593.4" r="5.3"/>
<circle cx="305.6" cy="591.1" r="5.3"/>
<circle cx="309.0" cy="593.2" r="5.3"/>
<circle cx="305.5" cy="591.7" r="5.3"/>
<circle cx="309.0" cy="608.4" r="5.3"/>
<circle cx="308.7" cy="615.0" r="5.3"/>
<circle cx="310.1" cy="626.0" r="5.3"/>
<circle cx="308.9" cy="627.0" r="5.3"/>
<circle cx="310.6" cy="632.6" r="5.3"/>
<circle cx="306.7" cy="669.0" r="5.3"/>
<circle cx="330.3" cy="535.6" r="5.3"/>
<circle cx="328.2" cy="538.0" r="5.3"/>
<circle cx="330.9" cy="535.4" r="5.3"/>
<circle cx="330.2" cy="532.4" r="5.3"/>
<circle cx="331.0" cy="531.9" r="5.3"/>
<circle cx="329.6" cy="535.7" r="5.3"/>
<circle cx="328.9" cy="541.5" r="5.3"/>
<circle cx="330.1" cy="535.6" r="5.3"/>
<circle cx="330.1" cy="537.8" r="5.3"/>
<circle cx="327.8" cy="530.7" r="5.3"/>
<circle cx="329.5" cy="527.5" r="5.3"/>
<circle cx="330.7" cy="538.8" r="5.3"/>
<circle cx="329.7" cy="531.0" r="5.3"/>
<circle cx="331.7" cy="538.4" r="5.3"/>
<circle cx="331.0" cy="537.9" r="5.3"/>
<circle cx="329.2" cy="530.1" r="5.3"/>
<circle cx="326.9" cy="539.7" r="5.3"/>
<circle cx="329.6" cy="529.3" r="5.3"/>
<circle cx="327.1" cy="533.8" r="5.3"/>
<circle cx="329.7" cy="538.7" r="5.3"/>
<circle cx="328.7" cy="529.5" r="5.3"/>
<circle cx="329.9" cy="527.3" r="5.3"/>
<circle cx="326.9" cy="531.7" r="5.3"/>
<circle cx="329.2" cy="525.3" r="5.3"/>
<circle cx="326.7" cy="537.7" r="5.3"/>
<circle cx="328.3" cy="533.0" r="5.3"/>
<circle cx="328.7" cy="544.9" r="5.3"/>
<circle cx="331.6" cy="553.2" r="5.3"/>
<circle cx="329.7" cy="544.0" r="5.3"/>
<circle cx="330.0" cy="551.9" r="5.3"/>
<circle cx="327.9" cy="544.7" r="5.3"/>
<circle cx="330.2" cy="550.0" r="5.3"/>
<circle cx="328.2" cy="546.2" r="5.3"/>
<circle cx="331.4" cy="544.0" r="5.3"/>
<circle cx="327.7" cy="548.3" r="5.3"/>
<circle cx="329.4" cy="545.8" r="5.3"/>
<circle cx="329.4" cy="544.2" r="5.3"/>
<circle cx="329.0" cy="543.9" r="5.3"/>
<circle cx="328.2" cy="550.8" r="5.3"/>
<circle cx="327.1" cy="544.7" r="5.3"/>
<circle cx="331.7" cy="547.7" r="5.3"/>
<circle cx="326.2" cy="558.3" r="5.3"/>
<circle cx="327.5" cy="562.2" r="5.3"/>
<circle cx="331.1" cy="561.6" r="5.3"/>
<circle cx="329.9" cy="559.7" r="5.3"/>
<circle cx="326.2" cy="560.5" r="5.3"/>
<circle cx="328.2" cy="556.8" r="5.3"/>
<circle cx="329.2" cy="556.4" r="5.3"/>
<circle cx="331.8" cy="560.0" r="5.3"/>
<circle cx="330.4" cy="555.1" r="5.3"/>
<circle cx="326.1" cy="555.7" r="5.3"/>
<circle cx="327.0" cy="572.8" r="5.3"/>
<circle cx="329.8" cy="578.3" r="5.3"/>
<circle cx="326.4" cy="572.0" r="5.3"/>
<circle cx="329.8" cy="570.7" r="5.3"/>
<circle cx="326.3" cy="565.5" r="5.3"/>
<circle cx="325.9" cy="569.1" r="5.3"/>
<circle cx="326.8" cy="579.2" r="5.3"/>
<circle cx="329.6" cy="565.6" r="5.3"/>
<circle cx="329.9" cy="572.1" r="5.3"/>
<circle cx="330.8" cy="476.8" r="5.3"/>
<circle cx="327.0" cy="512.3" r="5.3"/>
<circle cx="327.9" cy="516.3" r="5.3"/>
<circle cx="328.8" cy="521.0" r="5.3"/>
<circle cx="328.9" cy="584.3" r="5.3"/>
<circle cx="330.8" cy="584.4" r="5.3"/>
<circle cx="328.6" cy="585.4" r="5.3"/>
<circle cx="328.5" cy="596.6" r="5.3"/>
<circle cx="327.9" cy="597.5" r="5.3"/>
<circle cx="330.2" cy="606.8" r="5.3"/>
<circle cx="329.0" cy="612.4" r="5.3"/>
<circle cx="350.9" cy="538.9" r="5.3"/>
<circle cx="352.4" cy="535.4" r="5.3"/>
<circle cx="349.3" cy="541.0" r="5.3"/>
<circle cx="352.6" cy="540.3" r="5.3"/>
<circle cx="348.0" cy="540.8" r="5.3"/>
<circle cx="350.7" cy="535.8" r="5.3"/>
<circle cx="347.6" cy="531.1" r="5.3"/>
<circle cx="352.0" cy="532.8" r="5.3"/>
<circle cx="349.7" cy="534.6" r="5.3"/>
<circle cx="349.1" cy="534.5" r="5.3"/>
<circle cx="348.5" cy="540.7" r="5.3"/>
<circle cx="349.9" cy="532.8" r="5.3"/>
<circle cx="348.1" cy="539.4" r="5.3"/>
<circle cx="351.6" cy="539.7" r="5.3"/>
<circle cx="350.4" cy="546.6" r="5.3"/>
<circle cx="348.1" cy="547.1" r="5.3"/>
<circle cx="347.4" cy="546.0" r="5.3"/>
<circle cx="348.9" cy="544.3" r="5.3"/>
<circle cx="347.7" cy="544.3" r="5.3"/>
<circle cx="349.2" cy="482.0" r="5.3"/>
<circle cx="352.4" cy="522.8" r="5.3"/>
<circle cx="352.6" cy="528.0" r="5.3"/>
<circle cx="347.4" cy="555.3" r="5.3"/>
<circle cx="350.4" cy="565.5" r="5.3"/>
<circle cx="350.8" cy="567.0" r="5.3"/>
<circle cx="349.9" cy="576.0" r="5.3"/>
<circle cx="348.5" cy="584.6" r="5.3"/>
<circle cx="349.6" cy="597.1" r="5.3"/>
<circle cx="368.0" cy="505.6" r="5.3"/>
<circle cx="371.7" cy="518.1" r="5.3"/>
<circle cx="372.4" cy="560.0" r="5.3"/>
<circle cx="368.3" cy="571.4" r="5.3"/>
<circle cx="373.8" cy="582.2" r="5.3"/>
<circle cx="368.8" cy="593.9" r="5.3"/>
<circle cx="373.3" cy="606.6" r="5.3"/>
<circle cx="373.7" cy="545.0" r="5.3"/>
<circle cx="370.3" cy="550.0" r="5.3"/>
<circle cx="389.7" cy="582.5" r="5.3"/>
<circle cx="393.4" cy="591.3" r="5.3"/>
<circle cx="411.2" cy="434.9" r="5.3"/>
<circle cx="410.8" cy="466.6" r="5.3"/>
<circle cx="414.7" cy="575.8" r="5.3"/>
<circle cx="414.7" cy="584.3" r="5.3"/>
</g>
<path d="M150.7,531.9 L174.8,540.5 L203.1,543.2 L255.5,543.9 L307.9,542.3 L360.3,542.8 L412.7,535.9 L412.7,567.4 L360.3,555.2 L307.9,553.6 L255.5,554.8 L203.1,554.5 L174.8,552.5 L150.7,555.9Z" fill="#000" fill-opacity="0.2"/>
<path d="M150.7,538.6 L174.8,540.5 L203.1,543.2 L255.5,543.9 L307.9,542.3 L360.3,542.8 L412.7,545.9 L412.7,556.5 L360.3,555.2 L307.9,553.6 L255.5,554.8 L203.1,554.5 L174.8,552.5 L150.7,549.9Z" fill="#9E9E9E" fill-opacity="1"/>
<path d="M150.7,544.5 C159.4,545.3 185.6,548.5 203.1,549.4 C220.6,550.3 238.0,550.0 255.5,549.8 C273.0,549.6 290.4,548.2 307.9,548.3 C325.4,548.4 342.8,549.4 360.3,550.3 C377.8,551.2 404.0,553.3 412.7,553.9" fill="none" stroke="#333" stroke-width="2.85" stroke-dasharray="19.8 8.5"/>
<path d="M150.7,543.5 C159.4,544.4 185.6,547.8 203.1,548.8 C220.6,549.8 238.0,549.7 255.5,549.5 C273.0,549.3 290.4,548.0 307.9,547.6 C325.4,547.2 342.8,547.1 360.3,547.2 C377.8,547.4 404.0,548.3 412.7,548.5" fill="none" stroke="#333" stroke-width="2.85" stroke-dasharray="11.3 11.3"/>
<text x="124" y="482.6" text-anchor="end" class="tk">0.2</text>
<text x="124" y="544.7" text-anchor="end" class="tk">0.0</text>
<text x="124" y="606.8" text-anchor="end" class="tk">-0.2</text>
<text x="124" y="668.9" text-anchor="end" class="tk">-0.4</text>
<text x="203.6" y="712.3" text-anchor="middle" class="tk">15</text>
<text x="308.4" y="712.3" text-anchor="middle" class="tk">20</text>
<text x="413.2" y="712.3" text-anchor="middle" class="tk">25</text>
<!-- panel b -->
<line x1="511.0" y1="424" x2="511.0" y2="681" stroke="#EBEBEB" stroke-width="1.35"/>
<line x1="615.8" y1="424" x2="615.8" y2="681" stroke="#EBEBEB" stroke-width="1.35"/>
<line x1="720.5" y1="424" x2="720.5" y2="681" stroke="#EBEBEB" stroke-width="1.35"/>
<line x1="497" y1="453.6" x2="789" y2="453.6" stroke="#EBEBEB" stroke-width="1.35"/>
<line x1="497" y1="517.2" x2="789" y2="517.2" stroke="#EBEBEB" stroke-width="1.35"/>
<line x1="497" y1="581.0" x2="789" y2="581.0" stroke="#EBEBEB" stroke-width="1.35"/>
<line x1="497" y1="644.7" x2="789" y2="644.7" stroke="#EBEBEB" stroke-width="1.35"/>
<line x1="563.4" y1="424" x2="563.4" y2="681" stroke="#EBEBEB" stroke-width="2.7"/>
<line x1="668.1" y1="424" x2="668.1" y2="681" stroke="#EBEBEB" stroke-width="2.7"/>
<line x1="772.9" y1="424" x2="772.9" y2="681" stroke="#EBEBEB" stroke-width="2.7"/>
<line x1="497" y1="485.4" x2="789" y2="485.4" stroke="#EBEBEB" stroke-width="2.7"/>
<line x1="497" y1="549.1" x2="789" y2="549.1" stroke="#EBEBEB" stroke-width="2.7"/>
<line x1="497" y1="612.8" x2="789" y2="612.8" stroke="#EBEBEB" stroke-width="2.7"/>
<line x1="497" y1="676.5" x2="789" y2="676.5" stroke="#EBEBEB" stroke-width="2.7"/>
<g fill="#309200" fill-opacity="0.1" stroke="#309200" stroke-opacity="0.14" stroke-width="1">
<circle cx="611.1" cy="435.8" r="5.3"/>
<circle cx="524.9" cy="462.6" r="5.3"/>
<circle cx="526.3" cy="484.5" r="5.3"/>
<circle cx="526.0" cy="502.7" r="5.3"/>
<circle cx="527.4" cy="515.0" r="5.3"/>
<circle cx="543.9" cy="514.4" r="5.3"/>
<circle cx="554.8" cy="516.2" r="5.3"/>
<circle cx="570.3" cy="514.1" r="5.3"/>
<circle cx="571.0" cy="473.3" r="5.3"/>
<circle cx="575.0" cy="479.3" r="5.3"/>
<circle cx="584.7" cy="476.6" r="5.3"/>
<circle cx="577.7" cy="486.5" r="5.3"/>
<circle cx="582.9" cy="486.0" r="5.3"/>
<circle cx="607.6" cy="465.7" r="5.3"/>
<circle cx="614.6" cy="472.1" r="5.3"/>
<circle cx="612.0" cy="491.8" r="5.3"/>
<circle cx="595.2" cy="507.6" r="5.3"/>
<circle cx="600.5" cy="507.4" r="5.3"/>
<circle cx="601.5" cy="508.6" r="5.3"/>
<circle cx="614.6" cy="506.5" r="5.3"/>
<circle cx="611.0" cy="515.0" r="5.3"/>
<circle cx="606.7" cy="520.2" r="5.3"/>
<circle cx="612.0" cy="525.5" r="5.3"/>
<circle cx="562.7" cy="526.8" r="5.3"/>
<circle cx="582.4" cy="523.8" r="5.3"/>
<circle cx="598.8" cy="526.4" r="5.3"/>
<circle cx="593.5" cy="529.0" r="5.3"/>
<circle cx="542.0" cy="530.4" r="5.3"/>
<circle cx="547.8" cy="536.1" r="5.3"/>
<circle cx="575.0" cy="532.6" r="5.3"/>
<circle cx="583.0" cy="533.4" r="5.3"/>
<circle cx="521.4" cy="543.1" r="5.3"/>
<circle cx="533.7" cy="542.2" r="5.3"/>
<circle cx="539.0" cy="543.1" r="5.3"/>
<circle cx="542.5" cy="541.4" r="5.3"/>
<circle cx="553.9" cy="545.2" r="5.3"/>
<circle cx="564.5" cy="543.1" r="5.3"/>
<circle cx="572.4" cy="545.2" r="5.3"/>
<circle cx="591.7" cy="543.1" r="5.3"/>
<circle cx="594.4" cy="541.4" r="5.3"/>
<circle cx="614.6" cy="531.7" r="5.3"/>
<circle cx="524.0" cy="582.5" r="5.3"/>
<circle cx="537.2" cy="598.4" r="5.3"/>
<circle cx="527.2" cy="604.5" r="5.3"/>
<circle cx="527.2" cy="613.3" r="5.3"/>
<circle cx="543.7" cy="608.9" r="5.3"/>
<circle cx="543.7" cy="619.5" r="5.3"/>
<circle cx="547.8" cy="587.8" r="5.3"/>
<circle cx="548.8" cy="589.0" r="5.3"/>
<circle cx="553.0" cy="594.0" r="5.3"/>
<circle cx="551.8" cy="637.4" r="5.3"/>
<circle cx="562.7" cy="595.7" r="5.3"/>
<circle cx="567.1" cy="596.6" r="5.3"/>
<circle cx="561.8" cy="603.6" r="5.3"/>
<circle cx="562.7" cy="611.6" r="5.3"/>
<circle cx="561.0" cy="619.5" r="5.3"/>
<circle cx="565.9" cy="621.2" r="5.3"/>
<circle cx="571.5" cy="627.4" r="5.3"/>
<circle cx="571.9" cy="633.9" r="5.3"/>
<circle cx="570.6" cy="589.6" r="5.3"/>
<circle cx="584.7" cy="591.7" r="5.3"/>
<circle cx="583.5" cy="590.5" r="5.3"/>
<circle cx="587.7" cy="611.6" r="5.3"/>
<circle cx="596.7" cy="586.9" r="5.3"/>
<circle cx="595.2" cy="597.5" r="5.3"/>
<circle cx="596.1" cy="614.2" r="5.3"/>
<circle cx="602.3" cy="579.0" r="5.3"/>
<circle cx="602.6" cy="604.0" r="5.3"/>
<circle cx="607.0" cy="621.2" r="5.3"/>
<circle cx="610.2" cy="608.9" r="5.3"/>
<circle cx="616.4" cy="608.6" r="5.3"/>
<circle cx="598.8" cy="570.2" r="5.3"/>
<circle cx="616.4" cy="567.6" r="5.3"/>
<circle cx="618.1" cy="580.8" r="5.3"/>
<circle cx="647.4" cy="630.0" r="5.3"/>
<circle cx="636.0" cy="532.0" r="5.3"/>
<circle cx="637.0" cy="575.0" r="5.3"/>
<circle cx="638.0" cy="596.0" r="5.3"/>
<circle cx="657.0" cy="571.0" r="5.3"/>
<circle cx="658.0" cy="590.0" r="5.3"/>
<circle cx="636.0" cy="612.0" r="5.3"/>
<circle cx="519.6" cy="580.7" r="5.3"/>
<circle cx="577.1" cy="571.8" r="5.3"/>
<circle cx="520.6" cy="571.3" r="5.3"/>
<circle cx="565.9" cy="576.3" r="5.3"/>
<circle cx="570.5" cy="567.3" r="5.3"/>
<circle cx="570.8" cy="567.7" r="5.3"/>
<circle cx="571.3" cy="574.8" r="5.3"/>
<circle cx="553.3" cy="571.6" r="5.3"/>
<circle cx="587.9" cy="577.6" r="5.3"/>
<circle cx="578.5" cy="570.7" r="5.3"/>
<circle cx="575.9" cy="572.2" r="5.3"/>
<circle cx="594.0" cy="567.8" r="5.3"/>
<circle cx="560.6" cy="566.4" r="5.3"/>
<circle cx="539.7" cy="568.3" r="5.3"/>
<circle cx="592.6" cy="579.1" r="5.3"/>
<circle cx="534.2" cy="570.0" r="5.3"/>
<circle cx="554.7" cy="571.3" r="5.3"/>
<circle cx="521.6" cy="577.1" r="5.3"/>
<circle cx="557.6" cy="570.0" r="5.3"/>
<circle cx="559.1" cy="575.5" r="5.3"/>
<circle cx="561.7" cy="577.0" r="5.3"/>
<circle cx="558.4" cy="568.5" r="5.3"/>
<circle cx="542.9" cy="578.5" r="5.3"/>
<circle cx="587.7" cy="574.1" r="5.3"/>
<circle cx="590.0" cy="580.5" r="5.3"/>
<circle cx="552.7" cy="575.7" r="5.3"/>
<circle cx="543.5" cy="578.4" r="5.3"/>
<circle cx="533.7" cy="577.2" r="5.3"/>
<circle cx="558.4" cy="569.6" r="5.3"/>
<circle cx="596.0" cy="568.3" r="5.3"/>
<circle cx="581.9" cy="573.8" r="5.3"/>
<circle cx="574.4" cy="573.7" r="5.3"/>
<circle cx="561.4" cy="568.2" r="5.3"/>
<circle cx="584.3" cy="578.8" r="5.3"/>
<circle cx="548.4" cy="569.1" r="5.3"/>
<circle cx="595.0" cy="580.1" r="5.3"/>
<circle cx="554.9" cy="547.6" r="5.3"/>
<circle cx="535.4" cy="536.9" r="5.3"/>
<circle cx="564.4" cy="540.5" r="5.3"/>
<circle cx="557.9" cy="536.9" r="5.3"/>
<circle cx="533.1" cy="542.4" r="5.3"/>
<circle cx="560.0" cy="545.3" r="5.3"/>
<circle cx="578.8" cy="541.0" r="5.3"/>
<circle cx="555.6" cy="539.7" r="5.3"/>
<circle cx="531.6" cy="541.2" r="5.3"/>
<circle cx="566.1" cy="549.0" r="5.3"/>
<circle cx="578.9" cy="546.5" r="5.3"/>
<circle cx="585.9" cy="548.1" r="5.3"/>
<circle cx="593.4" cy="538.3" r="5.3"/>
<circle cx="544.8" cy="539.5" r="5.3"/>
<circle cx="584.0" cy="542.3" r="5.3"/>
<circle cx="595.6" cy="543.5" r="5.3"/>
<circle cx="521.3" cy="539.2" r="5.3"/>
<circle cx="551.7" cy="537.7" r="5.3"/>
<circle cx="564.5" cy="536.6" r="5.3"/>
<circle cx="538.7" cy="536.2" r="5.3"/>
<circle cx="528.7" cy="545.2" r="5.3"/>
<circle cx="559.8" cy="548.5" r="5.3"/>
<circle cx="529.7" cy="538.5" r="5.3"/>
<circle cx="523.9" cy="538.6" r="5.3"/>
<circle cx="542.9" cy="541.6" r="5.3"/>
<circle cx="539.2" cy="538.2" r="5.3"/>
<circle cx="549.8" cy="536.7" r="5.3"/>
<circle cx="585.7" cy="543.4" r="5.3"/>
<circle cx="566.4" cy="556.9" r="5.3"/>
<circle cx="570.6" cy="565.9" r="5.3"/>
<circle cx="554.6" cy="558.7" r="5.3"/>
<circle cx="538.5" cy="555.7" r="5.3"/>
<circle cx="527.8" cy="563.7" r="5.3"/>
<circle cx="582.3" cy="562.1" r="5.3"/>
<circle cx="589.9" cy="551.3" r="5.3"/>
<circle cx="578.1" cy="551.5" r="5.3"/>
<circle cx="576.5" cy="551.3" r="5.3"/>
<circle cx="533.7" cy="551.1" r="5.3"/>
<circle cx="569.0" cy="551.0" r="5.3"/>
<circle cx="552.9" cy="556.2" r="5.3"/>
<circle cx="610.8" cy="562.3" r="5.3"/>
<circle cx="573.4" cy="561.5" r="5.3"/>
<circle cx="520.0" cy="555.3" r="5.3"/>
<circle cx="545.7" cy="560.2" r="5.3"/>
<circle cx="531.0" cy="565.1" r="5.3"/>
<circle cx="549.1" cy="563.8" r="5.3"/>
<circle cx="598.0" cy="556.9" r="5.3"/>
<circle cx="519.2" cy="551.0" r="5.3"/>
<circle cx="554.9" cy="561.5" r="5.3"/>
<circle cx="563.3" cy="564.9" r="5.3"/>
<circle cx="603.3" cy="554.5" r="5.3"/>
<circle cx="611.0" cy="558.0" r="5.3"/>
<circle cx="525.9" cy="549.6" r="5.3"/>
<circle cx="553.2" cy="556.1" r="5.3"/>
<circle cx="535.8" cy="564.3" r="5.3"/>
<circle cx="547.8" cy="562.1" r="5.3"/>
<circle cx="539.2" cy="556.4" r="5.3"/>
<circle cx="554.6" cy="562.0" r="5.3"/>
<circle cx="553.0" cy="552.8" r="5.3"/>
<circle cx="596.9" cy="560.1" r="5.3"/>
<circle cx="534.8" cy="553.0" r="5.3"/>
<circle cx="528.2" cy="563.2" r="5.3"/>
<circle cx="558.0" cy="563.1" r="5.3"/>
<circle cx="573.3" cy="562.5" r="5.3"/>
<circle cx="589.3" cy="556.9" r="5.3"/>
<circle cx="542.8" cy="555.6" r="5.3"/>
<circle cx="568.4" cy="565.9" r="5.3"/>
<circle cx="545.6" cy="561.5" r="5.3"/>
<circle cx="542.8" cy="559.7" r="5.3"/>
<circle cx="587.4" cy="549.0" r="5.3"/>
<circle cx="586.8" cy="563.8" r="5.3"/>
<circle cx="603.2" cy="563.9" r="5.3"/>
<circle cx="554.5" cy="551.5" r="5.3"/>
<circle cx="560.0" cy="597.7" r="5.3"/>
<circle cx="589.5" cy="590.6" r="5.3"/>
<circle cx="530.5" cy="582.4" r="5.3"/>
<circle cx="578.8" cy="597.6" r="5.3"/>
<circle cx="583.7" cy="587.9" r="5.3"/>
<circle cx="530.5" cy="585.0" r="5.3"/>
<circle cx="584.2" cy="586.6" r="5.3"/>
<circle cx="577.2" cy="581.8" r="5.3"/>
<circle cx="577.5" cy="589.7" r="5.3"/>
<circle cx="531.9" cy="596.6" r="5.3"/>
<circle cx="599.3" cy="583.2" r="5.3"/>
<circle cx="585.1" cy="597.3" r="5.3"/>
<circle cx="575.1" cy="595.3" r="5.3"/>
<circle cx="540.8" cy="582.1" r="5.3"/>
<circle cx="550.7" cy="595.6" r="5.3"/>
<circle cx="555.4" cy="597.0" r="5.3"/>
</g>
<g fill="#1D0458" fill-opacity="0.11" stroke="#1D0458" stroke-opacity="0.14" stroke-width="1">
<circle cx="628.2" cy="494.9" r="5.3"/>
<circle cx="628.9" cy="498.0" r="5.3"/>
<circle cx="626.2" cy="511.4" r="5.3"/>
<circle cx="624.0" cy="507.7" r="5.3"/>
<circle cx="626.9" cy="505.6" r="5.3"/>
<circle cx="628.2" cy="496.7" r="5.3"/>
<circle cx="624.6" cy="513.1" r="5.3"/>
<circle cx="628.9" cy="496.6" r="5.3"/>
<circle cx="627.3" cy="496.1" r="5.3"/>
<circle cx="628.9" cy="513.8" r="5.3"/>
<circle cx="627.4" cy="504.1" r="5.3"/>
<circle cx="627.2" cy="505.8" r="5.3"/>
<circle cx="628.2" cy="511.5" r="5.3"/>
<circle cx="628.4" cy="511.6" r="5.3"/>
<circle cx="624.6" cy="498.3" r="5.3"/>
<circle cx="627.4" cy="522.7" r="5.3"/>
<circle cx="629.1" cy="515.8" r="5.3"/>
<circle cx="625.7" cy="527.1" r="5.3"/>
<circle cx="625.9" cy="516.9" r="5.3"/>
<circle cx="625.2" cy="528.5" r="5.3"/>
<circle cx="627.9" cy="526.8" r="5.3"/>
<circle cx="624.8" cy="526.2" r="5.3"/>
<circle cx="623.3" cy="518.1" r="5.3"/>
<circle cx="627.0" cy="524.2" r="5.3"/>
<circle cx="626.0" cy="528.4" r="5.3"/>
<circle cx="625.5" cy="518.8" r="5.3"/>
<circle cx="624.5" cy="525.5" r="5.3"/>
<circle cx="628.1" cy="526.5" r="5.3"/>
<circle cx="627.0" cy="515.5" r="5.3"/>
<circle cx="625.7" cy="517.3" r="5.3"/>
<circle cx="624.9" cy="515.4" r="5.3"/>
<circle cx="627.4" cy="518.5" r="5.3"/>
<circle cx="626.6" cy="528.5" r="5.3"/>
<circle cx="624.7" cy="519.0" r="5.3"/>
<circle cx="624.8" cy="529.7" r="5.3"/>
<circle cx="626.7" cy="535.1" r="5.3"/>
<circle cx="626.8" cy="539.6" r="5.3"/>
<circle cx="626.7" cy="535.7" r="5.3"/>
<circle cx="628.6" cy="538.6" r="5.3"/>
<circle cx="626.4" cy="535.7" r="5.3"/>
<circle cx="625.5" cy="534.5" r="5.3"/>
<circle cx="626.1" cy="534.8" r="5.3"/>
<circle cx="624.7" cy="535.6" r="5.3"/>
<circle cx="625.0" cy="532.4" r="5.3"/>
<circle cx="625.1" cy="537.6" r="5.3"/>
<circle cx="623.7" cy="550.0" r="5.3"/>
<circle cx="624.2" cy="546.2" r="5.3"/>
<circle cx="624.6" cy="546.8" r="5.3"/>
<circle cx="628.4" cy="544.3" r="5.3"/>
<circle cx="626.1" cy="549.8" r="5.3"/>
<circle cx="626.8" cy="543.7" r="5.3"/>
<circle cx="624.6" cy="548.5" r="5.3"/>
<circle cx="627.4" cy="543.1" r="5.3"/>
<circle cx="626.3" cy="541.4" r="5.3"/>
<circle cx="627.9" cy="549.0" r="5.3"/>
<circle cx="627.6" cy="547.1" r="5.3"/>
<circle cx="624.0" cy="549.1" r="5.3"/>
<circle cx="626.8" cy="549.0" r="5.3"/>
<circle cx="627.7" cy="548.9" r="5.3"/>
<circle cx="628.1" cy="547.3" r="5.3"/>
<circle cx="626.8" cy="553.3" r="5.3"/>
<circle cx="624.8" cy="561.0" r="5.3"/>
<circle cx="628.0" cy="553.0" r="5.3"/>
<circle cx="623.9" cy="560.5" r="5.3"/>
<circle cx="623.3" cy="557.5" r="5.3"/>
<circle cx="627.5" cy="555.1" r="5.3"/>
<circle cx="628.7" cy="557.8" r="5.3"/>
<circle cx="629.2" cy="558.3" r="5.3"/>
<circle cx="626.6" cy="551.0" r="5.3"/>
<circle cx="628.5" cy="551.4" r="5.3"/>
<circle cx="624.9" cy="557.8" r="5.3"/>
<circle cx="627.4" cy="561.1" r="5.3"/>
<circle cx="628.9" cy="561.1" r="5.3"/>
<circle cx="628.0" cy="554.6" r="5.3"/>
<circle cx="627.6" cy="551.9" r="5.3"/>
<circle cx="625.2" cy="589.9" r="5.3"/>
<circle cx="627.1" cy="588.0" r="5.3"/>
<circle cx="624.2" cy="578.8" r="5.3"/>
<circle cx="624.4" cy="581.8" r="5.3"/>
<circle cx="628.8" cy="574.2" r="5.3"/>
<circle cx="623.4" cy="571.3" r="5.3"/>
<circle cx="623.8" cy="574.8" r="5.3"/>
<circle cx="628.1" cy="589.5" r="5.3"/>
<circle cx="624.9" cy="566.2" r="5.3"/>
<circle cx="623.5" cy="570.6" r="5.3"/>
<circle cx="624.8" cy="567.8" r="5.3"/>
<circle cx="628.6" cy="570.0" r="5.3"/>
<circle cx="624.2" cy="566.2" r="5.3"/>
<circle cx="627.6" cy="574.0" r="5.3"/>
<circle cx="625.6" cy="581.7" r="5.3"/>
<circle cx="627.0" cy="574.9" r="5.3"/>
<circle cx="627.0" cy="570.6" r="5.3"/>
<circle cx="625.8" cy="580.9" r="5.3"/>
<circle cx="623.4" cy="573.4" r="5.3"/>
<circle cx="625.5" cy="571.0" r="5.3"/>
<circle cx="626.3" cy="581.3" r="5.3"/>
<circle cx="627.7" cy="583.6" r="5.3"/>
<circle cx="627.0" cy="562.4" r="5.3"/>
<circle cx="624.7" cy="580.7" r="5.3"/>
<circle cx="624.0" cy="578.2" r="5.3"/>
<circle cx="623.3" cy="585.5" r="5.3"/>
<circle cx="624.3" cy="574.2" r="5.3"/>
<circle cx="624.0" cy="566.9" r="5.3"/>
<circle cx="626.1" cy="576.6" r="5.3"/>
<circle cx="628.4" cy="567.8" r="5.3"/>
<circle cx="628.5" cy="568.6" r="5.3"/>
<circle cx="625.6" cy="588.9" r="5.3"/>
<circle cx="626.3" cy="569.1" r="5.3"/>
<circle cx="626.0" cy="585.0" r="5.3"/>
<circle cx="628.5" cy="565.2" r="5.3"/>
<circle cx="626.3" cy="572.5" r="5.3"/>
<circle cx="623.7" cy="574.3" r="5.3"/>
<circle cx="625.0" cy="582.7" r="5.3"/>
<circle cx="623.3" cy="574.7" r="5.3"/>
<circle cx="625.3" cy="573.8" r="5.3"/>
<circle cx="625.9" cy="589.4" r="5.3"/>
<circle cx="627.4" cy="572.8" r="5.3"/>
<circle cx="625.3" cy="574.2" r="5.3"/>
<circle cx="628.9" cy="603.1" r="5.3"/>
<circle cx="629.0" cy="594.5" r="5.3"/>
<circle cx="626.4" cy="605.9" r="5.3"/>
<circle cx="628.2" cy="592.3" r="5.3"/>
<circle cx="625.7" cy="609.2" r="5.3"/>
<circle cx="626.9" cy="593.1" r="5.3"/>
<circle cx="625.8" cy="601.0" r="5.3"/>
<circle cx="623.3" cy="599.3" r="5.3"/>
<circle cx="626.1" cy="611.2" r="5.3"/>
<circle cx="626.4" cy="601.6" r="5.3"/>
<circle cx="623.7" cy="590.8" r="5.3"/>
<circle cx="626.0" cy="603.9" r="5.3"/>
<circle cx="624.6" cy="602.6" r="5.3"/>
<circle cx="623.8" cy="596.0" r="5.3"/>
<circle cx="626.4" cy="484.2" r="5.3"/>
<circle cx="625.1" cy="487.7" r="5.3"/>
<circle cx="625.9" cy="491.7" r="5.3"/>
<circle cx="627.5" cy="622.0" r="5.3"/>
<circle cx="624.3" cy="633.0" r="5.3"/>
<circle cx="629.0" cy="633.4" r="5.3"/>
<circle cx="625.5" cy="632.9" r="5.3"/>
<circle cx="623.9" cy="637.0" r="5.3"/>
<circle cx="627.6" cy="646.7" r="5.3"/>
<circle cx="627.7" cy="650.2" r="5.3"/>
<circle cx="624.6" cy="654.7" r="5.3"/>
<circle cx="626.9" cy="655.4" r="5.3"/>
<circle cx="627.0" cy="655.6" r="5.3"/>
<circle cx="649.3" cy="507.6" r="5.3"/>
<circle cx="644.3" cy="512.3" r="5.3"/>
<circle cx="644.9" cy="508.4" r="5.3"/>
<circle cx="648.5" cy="512.3" r="5.3"/>
<circle cx="647.4" cy="509.9" r="5.3"/>
<circle cx="650.0" cy="511.8" r="5.3"/>
<circle cx="645.9" cy="514.1" r="5.3"/>
<circle cx="648.3" cy="505.2" r="5.3"/>
<circle cx="645.9" cy="507.2" r="5.3"/>
<circle cx="647.3" cy="512.8" r="5.3"/>
<circle cx="646.9" cy="511.0" r="5.3"/>
<circle cx="646.2" cy="520.6" r="5.3"/>
<circle cx="646.1" cy="519.7" r="5.3"/>
<circle cx="648.4" cy="517.8" r="5.3"/>
<circle cx="647.1" cy="523.9" r="5.3"/>
<circle cx="644.3" cy="519.9" r="5.3"/>
<circle cx="648.8" cy="522.9" r="5.3"/>
<circle cx="649.1" cy="518.1" r="5.3"/>
<circle cx="647.9" cy="518.7" r="5.3"/>
<circle cx="644.7" cy="524.4" r="5.3"/>
<circle cx="646.0" cy="523.8" r="5.3"/>
<circle cx="648.8" cy="524.7" r="5.3"/>
<circle cx="645.9" cy="524.6" r="5.3"/>
<circle cx="645.7" cy="523.0" r="5.3"/>
<circle cx="644.3" cy="524.4" r="5.3"/>
<circle cx="644.6" cy="544.1" r="5.3"/>
<circle cx="648.0" cy="530.3" r="5.3"/>
<circle cx="647.7" cy="543.8" r="5.3"/>
<circle cx="649.0" cy="549.6" r="5.3"/>
<circle cx="645.6" cy="537.9" r="5.3"/>
<circle cx="646.4" cy="542.9" r="5.3"/>
<circle cx="645.3" cy="540.8" r="5.3"/>
<circle cx="645.6" cy="533.4" r="5.3"/>
<circle cx="648.7" cy="540.5" r="5.3"/>
<circle cx="648.9" cy="542.9" r="5.3"/>
<circle cx="649.3" cy="539.0" r="5.3"/>
<circle cx="644.3" cy="550.0" r="5.3"/>
<circle cx="645.6" cy="546.3" r="5.3"/>
<circle cx="645.4" cy="539.7" r="5.3"/>
<circle cx="645.9" cy="542.8" r="5.3"/>
<circle cx="644.7" cy="530.5" r="5.3"/>
<circle cx="647.0" cy="546.8" r="5.3"/>
<circle cx="647.0" cy="531.5" r="5.3"/>
<circle cx="650.2" cy="531.2" r="5.3"/>
<circle cx="646.1" cy="540.9" r="5.3"/>
<circle cx="645.8" cy="543.7" r="5.3"/>
<circle cx="646.7" cy="545.7" r="5.3"/>
<circle cx="644.7" cy="546.3" r="5.3"/>
<circle cx="649.6" cy="534.3" r="5.3"/>
<circle cx="645.6" cy="547.5" r="5.3"/>
<circle cx="646.7" cy="537.4" r="5.3"/>
<circle cx="647.7" cy="540.5" r="5.3"/>
<circle cx="649.1" cy="543.1" r="5.3"/>
<circle cx="648.4" cy="538.0" r="5.3"/>
<circle cx="647.3" cy="547.0" r="5.3"/>
<circle cx="649.4" cy="541.8" r="5.3"/>
<circle cx="647.7" cy="535.4" r="5.3"/>
<circle cx="647.1" cy="533.1" r="5.3"/>
<circle cx="647.1" cy="530.3" r="5.3"/>
<circle cx="645.7" cy="535.0" r="5.3"/>
<circle cx="647.0" cy="543.3" r="5.3"/>
<circle cx="644.8" cy="542.5" r="5.3"/>
<circle cx="648.9" cy="532.5" r="5.3"/>
<circle cx="645.0" cy="531.1" r="5.3"/>
<circle cx="648.0" cy="537.3" r="5.3"/>
<circle cx="644.4" cy="531.4" r="5.3"/>
<circle cx="646.4" cy="530.1" r="5.3"/>
<circle cx="649.0" cy="533.1" r="5.3"/>
<circle cx="649.1" cy="529.7" r="5.3"/>
<circle cx="646.2" cy="548.5" r="5.3"/>
<circle cx="645.1" cy="529.8" r="5.3"/>
<circle cx="649.2" cy="545.7" r="5.3"/>
<circle cx="647.2" cy="551.5" r="5.3"/>
<circle cx="646.0" cy="555.3" r="5.3"/>
<circle cx="650.0" cy="552.6" r="5.3"/>
<circle cx="648.2" cy="558.5" r="5.3"/>
<circle cx="649.4" cy="558.1" r="5.3"/>
<circle cx="646.4" cy="555.3" r="5.3"/>
<circle cx="647.1" cy="557.1" r="5.3"/>
<circle cx="647.4" cy="551.2" r="5.3"/>
<circle cx="648.8" cy="554.4" r="5.3"/>
<circle cx="647.9" cy="553.7" r="5.3"/>
<circle cx="646.9" cy="561.9" r="5.3"/>
<circle cx="644.3" cy="557.7" r="5.3"/>
<circle cx="645.3" cy="561.5" r="5.3"/>
<circle cx="649.1" cy="560.0" r="5.3"/>
<circle cx="649.2" cy="554.1" r="5.3"/>
<circle cx="647.2" cy="561.1" r="5.3"/>
<circle cx="647.0" cy="561.3" r="5.3"/>
<circle cx="649.1" cy="555.9" r="5.3"/>
<circle cx="647.4" cy="556.2" r="5.3"/>
<circle cx="645.8" cy="554.2" r="5.3"/>
<circle cx="646.8" cy="556.4" r="5.3"/>
<circle cx="649.5" cy="555.8" r="5.3"/>
<circle cx="647.6" cy="558.5" r="5.3"/>
<circle cx="649.0" cy="561.7" r="5.3"/>
<circle cx="648.6" cy="557.2" r="5.3"/>
<circle cx="648.5" cy="551.5" r="5.3"/>
<circle cx="648.6" cy="552.6" r="5.3"/>
<circle cx="649.5" cy="598.6" r="5.3"/>
<circle cx="648.0" cy="601.4" r="5.3"/>
<circle cx="644.5" cy="565.2" r="5.3"/>
<circle cx="647.2" cy="570.3" r="5.3"/>
<circle cx="644.3" cy="602.3" r="5.3"/>
<circle cx="646.7" cy="597.3" r="5.3"/>
<circle cx="645.9" cy="588.5" r="5.3"/>
<circle cx="644.6" cy="588.0" r="5.3"/>
<circle cx="648.4" cy="587.9" r="5.3"/>
<circle cx="647.1" cy="593.0" r="5.3"/>
<circle cx="645.6" cy="590.3" r="5.3"/>
<circle cx="645.9" cy="564.7" r="5.3"/>
<circle cx="646.4" cy="593.6" r="5.3"/>
<circle cx="645.2" cy="594.6" r="5.3"/>
<circle cx="646.3" cy="582.7" r="5.3"/>
<circle cx="644.6" cy="569.0" r="5.3"/>
<circle cx="648.2" cy="600.4" r="5.3"/>
<circle cx="645.8" cy="590.9" r="5.3"/>
<circle cx="649.5" cy="597.5" r="5.3"/>
<circle cx="649.9" cy="566.5" r="5.3"/>
<circle cx="648.2" cy="574.2" r="5.3"/>
<circle cx="644.5" cy="583.0" r="5.3"/>
<circle cx="649.9" cy="576.5" r="5.3"/>
<circle cx="645.8" cy="603.6" r="5.3"/>
<circle cx="648.2" cy="568.6" r="5.3"/>
<circle cx="644.3" cy="565.5" r="5.3"/>
<circle cx="644.7" cy="599.2" r="5.3"/>
<circle cx="648.4" cy="569.6" r="5.3"/>
<circle cx="646.8" cy="580.9" r="5.3"/>
<circle cx="649.4" cy="602.9" r="5.3"/>
<circle cx="644.3" cy="563.1" r="5.3"/>
<circle cx="647.9" cy="564.3" r="5.3"/>
<circle cx="646.7" cy="588.8" r="5.3"/>
<circle cx="647.3" cy="569.8" r="5.3"/>
<circle cx="645.9" cy="584.7" r="5.3"/>
<circle cx="645.1" cy="601.0" r="5.3"/>
<circle cx="645.7" cy="597.5" r="5.3"/>
<circle cx="645.4" cy="583.0" r="5.3"/>
<circle cx="649.1" cy="589.9" r="5.3"/>
<circle cx="645.0" cy="572.9" r="5.3"/>
<circle cx="646.5" cy="583.2" r="5.3"/>
<circle cx="650.0" cy="576.7" r="5.3"/>
<circle cx="646.4" cy="584.6" r="5.3"/>
<circle cx="645.6" cy="596.9" r="5.3"/>
<circle cx="644.2" cy="593.5" r="5.3"/>
<circle cx="649.7" cy="575.9" r="5.3"/>
<circle cx="648.8" cy="592.5" r="5.3"/>
<circle cx="648.9" cy="590.0" r="5.3"/>
<circle cx="647.5" cy="573.9" r="5.3"/>
<circle cx="646.7" cy="566.9" r="5.3"/>
<circle cx="648.0" cy="583.6" r="5.3"/>
<circle cx="644.6" cy="566.7" r="5.3"/>
<circle cx="646.2" cy="570.2" r="5.3"/>
<circle cx="645.4" cy="594.5" r="5.3"/>
<circle cx="646.2" cy="564.7" r="5.3"/>
<circle cx="649.7" cy="602.1" r="5.3"/>
<circle cx="649.2" cy="581.0" r="5.3"/>
<circle cx="650.0" cy="600.1" r="5.3"/>
<circle cx="648.1" cy="591.3" r="5.3"/>
<circle cx="648.5" cy="585.0" r="5.3"/>
<circle cx="649.5" cy="598.3" r="5.3"/>
<circle cx="648.7" cy="591.7" r="5.3"/>
<circle cx="647.0" cy="576.2" r="5.3"/>
<circle cx="650.0" cy="586.3" r="5.3"/>
<circle cx="649.8" cy="571.3" r="5.3"/>
<circle cx="645.2" cy="593.0" r="5.3"/>
<circle cx="648.2" cy="579.5" r="5.3"/>
<circle cx="647.3" cy="601.0" r="5.3"/>
<circle cx="648.3" cy="585.1" r="5.3"/>
<circle cx="645.9" cy="569.1" r="5.3"/>
<circle cx="646.5" cy="574.8" r="5.3"/>
<circle cx="648.4" cy="603.7" r="5.3"/>
<circle cx="649.4" cy="573.8" r="5.3"/>
<circle cx="646.0" cy="587.1" r="5.3"/>
<circle cx="649.3" cy="574.8" r="5.3"/>
<circle cx="645.9" cy="582.1" r="5.3"/>
<circle cx="648.8" cy="581.1" r="5.3"/>
<circle cx="644.3" cy="590.8" r="5.3"/>
<circle cx="649.5" cy="591.1" r="5.3"/>
<circle cx="644.4" cy="573.4" r="5.3"/>
<circle cx="647.3" cy="582.8" r="5.3"/>
<circle cx="644.7" cy="574.0" r="5.3"/>
<circle cx="646.6" cy="583.2" r="5.3"/>
<circle cx="650.1" cy="592.1" r="5.3"/>
<circle cx="647.4" cy="562.4" r="5.3"/>
<circle cx="644.4" cy="594.5" r="5.3"/>
<circle cx="647.6" cy="590.4" r="5.3"/>
<circle cx="645.0" cy="603.0" r="5.3"/>
<circle cx="647.3" cy="586.1" r="5.3"/>
<circle cx="648.3" cy="588.6" r="5.3"/>
<circle cx="648.9" cy="570.8" r="5.3"/>
<circle cx="644.6" cy="579.8" r="5.3"/>
<circle cx="648.9" cy="593.7" r="5.3"/>
<circle cx="646.5" cy="593.4" r="5.3"/>
<circle cx="648.9" cy="622.3" r="5.3"/>
<circle cx="650.0" cy="614.6" r="5.3"/>
<circle cx="648.6" cy="625.1" r="5.3"/>
<circle cx="645.9" cy="626.6" r="5.3"/>
<circle cx="646.2" cy="619.3" r="5.3"/>
<circle cx="645.0" cy="608.4" r="5.3"/>
<circle cx="644.7" cy="618.7" r="5.3"/>
<circle cx="644.4" cy="615.1" r="5.3"/>
<circle cx="648.7" cy="610.2" r="5.3"/>
<circle cx="645.4" cy="626.1" r="5.3"/>
<circle cx="645.4" cy="617.5" r="5.3"/>
<circle cx="647.0" cy="434.9" r="5.3"/>
<circle cx="649.6" cy="461.7" r="5.3"/>
<circle cx="648.0" cy="461.9" r="5.3"/>
<circle cx="647.1" cy="477.4" r="5.3"/>
<circle cx="649.2" cy="477.6" r="5.3"/>
<circle cx="649.1" cy="478.5" r="5.3"/>
<circle cx="647.5" cy="481.5" r="5.3"/>
<circle cx="650.2" cy="485.9" r="5.3"/>
<circle cx="648.1" cy="499.0" r="5.3"/>
<circle cx="647.8" cy="662.5" r="5.3"/>
<circle cx="669.4" cy="518.7" r="5.3"/>
<circle cx="667.8" cy="517.0" r="5.3"/>
<circle cx="666.0" cy="517.3" r="5.3"/>
<circle cx="668.6" cy="520.3" r="5.3"/>
<circle cx="666.2" cy="521.0" r="5.3"/>
<circle cx="670.9" cy="517.6" r="5.3"/>
<circle cx="665.8" cy="525.8" r="5.3"/>
<circle cx="666.5" cy="523.7" r="5.3"/>
<circle cx="665.7" cy="517.4" r="5.3"/>
<circle cx="668.9" cy="524.4" r="5.3"/>
<circle cx="666.4" cy="521.6" r="5.3"/>
<circle cx="666.1" cy="537.8" r="5.3"/>
<circle cx="666.0" cy="534.3" r="5.3"/>
<circle cx="670.8" cy="529.7" r="5.3"/>
<circle cx="669.5" cy="533.4" r="5.3"/>
<circle cx="670.3" cy="538.2" r="5.3"/>
<circle cx="668.1" cy="533.1" r="5.3"/>
<circle cx="669.8" cy="547.1" r="5.3"/>
<circle cx="667.1" cy="549.4" r="5.3"/>
<circle cx="668.2" cy="542.5" r="5.3"/>
<circle cx="667.5" cy="544.0" r="5.3"/>
<circle cx="668.1" cy="543.5" r="5.3"/>
<circle cx="667.9" cy="549.7" r="5.3"/>
<circle cx="671.1" cy="542.6" r="5.3"/>
<circle cx="667.0" cy="543.8" r="5.3"/>
<circle cx="666.5" cy="542.2" r="5.3"/>
<circle cx="668.1" cy="544.2" r="5.3"/>
<circle cx="665.6" cy="545.2" r="5.3"/>
<circle cx="668.0" cy="549.5" r="5.3"/>
<circle cx="670.3" cy="559.0" r="5.3"/>
<circle cx="668.3" cy="551.6" r="5.3"/>
<circle cx="669.0" cy="563.1" r="5.3"/>
<circle cx="670.9" cy="563.0" r="5.3"/>
<circle cx="669.6" cy="554.8" r="5.3"/>
<circle cx="666.2" cy="553.1" r="5.3"/>
<circle cx="667.5" cy="551.6" r="5.3"/>
<circle cx="667.0" cy="563.6" r="5.3"/>
<circle cx="669.6" cy="559.8" r="5.3"/>
<circle cx="666.1" cy="557.1" r="5.3"/>
<circle cx="668.1" cy="563.0" r="5.3"/>
<circle cx="669.2" cy="554.2" r="5.3"/>
<circle cx="666.7" cy="551.5" r="5.3"/>
<circle cx="668.1" cy="558.8" r="5.3"/>
<circle cx="667.5" cy="563.1" r="5.3"/>
<circle cx="669.7" cy="557.7" r="5.3"/>
<circle cx="667.5" cy="559.2" r="5.3"/>
<circle cx="669.3" cy="583.1" r="5.3"/>
<circle cx="667.0" cy="574.5" r="5.3"/>
<circle cx="666.6" cy="567.6" r="5.3"/>
<circle cx="667.0" cy="570.8" r="5.3"/>
<circle cx="666.9" cy="576.5" r="5.3"/>
<circle cx="667.5" cy="583.0" r="5.3"/>
<circle cx="666.7" cy="582.6" r="5.3"/>
<circle cx="670.5" cy="577.0" r="5.3"/>
<circle cx="670.0" cy="566.0" r="5.3"/>
<circle cx="666.7" cy="566.3" r="5.3"/>
<circle cx="668.1" cy="573.9" r="5.3"/>
<circle cx="668.0" cy="570.0" r="5.3"/>
<circle cx="665.4" cy="583.7" r="5.3"/>
<circle cx="670.8" cy="569.0" r="5.3"/>
<circle cx="669.6" cy="573.1" r="5.3"/>
<circle cx="669.6" cy="579.6" r="5.3"/>
<circle cx="669.7" cy="589.7" r="5.3"/>
<circle cx="666.8" cy="586.9" r="5.3"/>
<circle cx="666.4" cy="584.7" r="5.3"/>
<circle cx="666.1" cy="569.2" r="5.3"/>
<circle cx="667.7" cy="569.4" r="5.3"/>
<circle cx="670.0" cy="565.0" r="5.3"/>
<circle cx="667.2" cy="578.9" r="5.3"/>
<circle cx="670.0" cy="589.4" r="5.3"/>
<circle cx="668.4" cy="569.0" r="5.3"/>
<circle cx="666.5" cy="579.9" r="5.3"/>
<circle cx="666.0" cy="586.0" r="5.3"/>
<circle cx="670.2" cy="582.8" r="5.3"/>
<circle cx="671.0" cy="575.7" r="5.3"/>
<circle cx="670.9" cy="569.2" r="5.3"/>
<circle cx="666.7" cy="577.8" r="5.3"/>
<circle cx="670.5" cy="601.2" r="5.3"/>
<circle cx="670.3" cy="608.1" r="5.3"/>
<circle cx="670.3" cy="617.3" r="5.3"/>
<circle cx="670.5" cy="611.7" r="5.3"/>
<circle cx="665.9" cy="606.7" r="5.3"/>
<circle cx="667.3" cy="613.3" r="5.3"/>
<circle cx="667.2" cy="610.3" r="5.3"/>
<circle cx="667.3" cy="612.8" r="5.3"/>
<circle cx="666.1" cy="608.4" r="5.3"/>
<circle cx="670.4" cy="453.7" r="5.3"/>
<circle cx="666.9" cy="467.5" r="5.3"/>
<circle cx="668.1" cy="472.6" r="5.3"/>
<circle cx="669.3" cy="471.8" r="5.3"/>
<circle cx="665.6" cy="485.6" r="5.3"/>
<circle cx="670.4" cy="495.6" r="5.3"/>
<circle cx="670.7" cy="501.6" r="5.3"/>
<circle cx="669.7" cy="501.8" r="5.3"/>
<circle cx="670.4" cy="500.8" r="5.3"/>
<circle cx="667.5" cy="500.8" r="5.3"/>
<circle cx="666.0" cy="511.4" r="5.3"/>
<circle cx="666.3" cy="598.3" r="5.3"/>
<circle cx="669.3" cy="630.9" r="5.3"/>
<circle cx="669.6" cy="644.6" r="5.3"/>
<circle cx="669.3" cy="669.2" r="5.3"/>
<circle cx="689.6" cy="529.3" r="5.3"/>
<circle cx="688.4" cy="548.8" r="5.3"/>
<circle cx="691.8" cy="532.7" r="5.3"/>
<circle cx="688.3" cy="530.0" r="5.3"/>
<circle cx="688.3" cy="536.5" r="5.3"/>
<circle cx="687.8" cy="547.7" r="5.3"/>
<circle cx="686.6" cy="536.2" r="5.3"/>
<circle cx="686.5" cy="534.3" r="5.3"/>
<circle cx="690.7" cy="528.0" r="5.3"/>
<circle cx="689.6" cy="539.5" r="5.3"/>
<circle cx="689.5" cy="537.8" r="5.3"/>
<circle cx="689.8" cy="532.0" r="5.3"/>
<circle cx="687.7" cy="544.5" r="5.3"/>
<circle cx="687.1" cy="545.7" r="5.3"/>
<circle cx="691.5" cy="539.4" r="5.3"/>
<circle cx="687.8" cy="536.2" r="5.3"/>
<circle cx="689.2" cy="542.6" r="5.3"/>
<circle cx="691.7" cy="536.0" r="5.3"/>
<circle cx="687.3" cy="533.1" r="5.3"/>
<circle cx="691.8" cy="530.7" r="5.3"/>
<circle cx="687.6" cy="526.3" r="5.3"/>
<circle cx="689.8" cy="537.1" r="5.3"/>
<circle cx="691.0" cy="541.2" r="5.3"/>
<circle cx="690.0" cy="542.3" r="5.3"/>
<circle cx="688.8" cy="532.8" r="5.3"/>
<circle cx="686.2" cy="535.2" r="5.3"/>
<circle cx="686.2" cy="530.7" r="5.3"/>
<circle cx="688.4" cy="556.3" r="5.3"/>
<circle cx="688.4" cy="552.6" r="5.3"/>
<circle cx="690.6" cy="553.8" r="5.3"/>
<circle cx="688.2" cy="552.7" r="5.3"/>
<circle cx="686.5" cy="559.1" r="5.3"/>
<circle cx="688.8" cy="556.6" r="5.3"/>
<circle cx="691.3" cy="560.6" r="5.3"/>
<circle cx="689.6" cy="561.4" r="5.3"/>
<circle cx="689.4" cy="560.6" r="5.3"/>
<circle cx="688.9" cy="553.2" r="5.3"/>
<circle cx="689.1" cy="551.9" r="5.3"/>
<circle cx="688.4" cy="552.8" r="5.3"/>
<circle cx="688.8" cy="565.2" r="5.3"/>
<circle cx="688.7" cy="582.0" r="5.3"/>
<circle cx="692.0" cy="596.9" r="5.3"/>
<circle cx="690.1" cy="577.9" r="5.3"/>
<circle cx="690.6" cy="594.3" r="5.3"/>
<circle cx="690.2" cy="568.7" r="5.3"/>
<circle cx="689.8" cy="579.4" r="5.3"/>
<circle cx="691.6" cy="585.3" r="5.3"/>
<circle cx="691.9" cy="563.6" r="5.3"/>
<circle cx="690.3" cy="569.6" r="5.3"/>
<circle cx="688.9" cy="591.5" r="5.3"/>
<circle cx="692.1" cy="569.8" r="5.3"/>
<circle cx="691.3" cy="566.6" r="5.3"/>
<circle cx="687.9" cy="569.6" r="5.3"/>
<circle cx="692.0" cy="565.7" r="5.3"/>
<circle cx="690.9" cy="580.3" r="5.3"/>
<circle cx="690.4" cy="565.0" r="5.3"/>
<circle cx="688.9" cy="581.4" r="5.3"/>
<circle cx="687.8" cy="584.8" r="5.3"/>
<circle cx="686.6" cy="564.8" r="5.3"/>
<circle cx="690.0" cy="571.2" r="5.3"/>
<circle cx="691.3" cy="581.8" r="5.3"/>
<circle cx="691.4" cy="591.8" r="5.3"/>
<circle cx="690.3" cy="596.3" r="5.3"/>
<circle cx="687.6" cy="581.7" r="5.3"/>
<circle cx="686.9" cy="586.9" r="5.3"/>
<circle cx="691.0" cy="593.3" r="5.3"/>
<circle cx="689.3" cy="594.4" r="5.3"/>
<circle cx="688.4" cy="574.4" r="5.3"/>
<circle cx="690.5" cy="594.2" r="5.3"/>
<circle cx="686.6" cy="579.8" r="5.3"/>
<circle cx="688.8" cy="563.2" r="5.3"/>
<circle cx="686.8" cy="590.7" r="5.3"/>
<circle cx="691.8" cy="582.0" r="5.3"/>
<circle cx="687.5" cy="596.3" r="5.3"/>
<circle cx="688.6" cy="566.7" r="5.3"/>
<circle cx="690.8" cy="604.7" r="5.3"/>
<circle cx="690.2" cy="601.2" r="5.3"/>
<circle cx="687.8" cy="599.5" r="5.3"/>
<circle cx="689.7" cy="600.5" r="5.3"/>
<circle cx="690.5" cy="475.4" r="5.3"/>
<circle cx="691.6" cy="496.5" r="5.3"/>
<circle cx="691.2" cy="509.6" r="5.3"/>
<circle cx="686.3" cy="513.6" r="5.3"/>
<circle cx="686.4" cy="512.7" r="5.3"/>
<circle cx="687.9" cy="522.1" r="5.3"/>
<circle cx="686.4" cy="521.4" r="5.3"/>
<circle cx="691.7" cy="612.4" r="5.3"/>
<circle cx="686.3" cy="619.8" r="5.3"/>
<circle cx="709.1" cy="475.7" r="5.3"/>
<circle cx="710.0" cy="493.8" r="5.3"/>
<circle cx="708.8" cy="495.0" r="5.3"/>
<circle cx="709.0" cy="494.8" r="5.3"/>
<circle cx="712.7" cy="502.5" r="5.3"/>
<circle cx="711.1" cy="502.4" r="5.3"/>
<circle cx="709.4" cy="507.9" r="5.3"/>
<circle cx="711.4" cy="515.8" r="5.3"/>
<circle cx="712.8" cy="522.0" r="5.3"/>
<circle cx="709.8" cy="526.3" r="5.3"/>
<circle cx="710.8" cy="537.8" r="5.3"/>
<circle cx="710.0" cy="542.1" r="5.3"/>
<circle cx="707.6" cy="543.1" r="5.3"/>
<circle cx="712.3" cy="572.0" r="5.3"/>
<circle cx="708.6" cy="581.4" r="5.3"/>
<circle cx="710.8" cy="580.4" r="5.3"/>
<circle cx="711.0" cy="579.8" r="5.3"/>
<circle cx="708.6" cy="586.9" r="5.3"/>
<circle cx="709.3" cy="611.9" r="5.3"/>
<circle cx="710.9" cy="628.2" r="5.3"/>
<circle cx="707.3" cy="651.6" r="5.3"/>
<circle cx="707.3" cy="656.0" r="5.3"/>
<circle cx="710.2" cy="656.0" r="5.3"/>
<circle cx="713.0" cy="552.0" r="5.3"/>
<circle cx="708.1" cy="556.0" r="5.3"/>
<circle cx="709.3" cy="559.0" r="5.3"/>
<circle cx="728.3" cy="502.1" r="5.3"/>
<circle cx="730.1" cy="513.2" r="5.3"/>
<circle cx="732.0" cy="546.6" r="5.3"/>
<circle cx="733.0" cy="561.4" r="5.3"/>
<circle cx="731.5" cy="562.4" r="5.3"/>
<circle cx="733.9" cy="573.7" r="5.3"/>
<circle cx="733.9" cy="594.0" r="5.3"/>
<circle cx="751.0" cy="524.8" r="5.3"/>
<circle cx="750.1" cy="543.0" r="5.3"/>
<circle cx="772.6" cy="539.5" r="5.3"/>
<circle cx="776.1" cy="540.4" r="5.3"/>
<circle cx="775.0" cy="541.5" r="5.3"/>
<circle cx="770.5" cy="610.3" r="5.3"/>
</g>
<path d="M511.0,545.2 L536.8,549.9 L552.9,551.3 L563.4,551.9 L615.8,551.5 L668.1,550.6 L714.2,547.2 L772.9,527.0 L772.9,570.9 L714.2,561.3 L668.1,561.9 L615.8,562.5 L563.4,563.2 L552.9,564.5 L536.8,569.2 L511.0,578.5Z" fill="#000" fill-opacity="0.2"/>
<path d="M511.0,549.9 L536.8,551.0 L563.4,551.9 L615.8,551.5 L668.1,550.6 L720.5,546.6 L772.9,544.8 L772.9,555.9 L720.5,561.2 L668.1,561.9 L615.8,562.5 L563.4,563.2 L536.8,564.5 L511.0,566.5Z" fill="#9E9E9E" fill-opacity="1"/>
<path d="M511.0,553.2 C515.3,553.4 528.1,554.0 536.8,554.5 C545.5,555.0 550.2,555.4 563.4,555.9 C576.6,556.4 598.3,557.0 615.8,557.3 C633.2,557.6 650.7,557.7 668.1,557.6 C685.6,557.5 703.1,557.0 720.5,556.5 C738.0,556.0 764.2,554.8 772.9,554.5" fill="none" stroke="#333" stroke-width="2.85" stroke-dasharray="19.8 8.5"/>
<path d="M511.0,570.1 C515.3,569.2 528.1,566.6 536.8,564.8 C545.5,563.0 550.2,560.8 563.4,559.5 C576.6,558.2 598.3,557.9 615.8,557.0 C633.2,556.1 650.7,555.5 668.1,554.3 C685.6,553.1 703.1,551.5 720.5,549.6 C738.0,547.8 764.2,544.3 772.9,543.2" fill="none" stroke="#333" stroke-width="2.85" stroke-dasharray="11.3 11.3"/>
<text x="484" y="494.7" text-anchor="end" class="tk">0.5</text>
<text x="484" y="558.4" text-anchor="end" class="tk">0.0</text>
<text x="484" y="622.1" text-anchor="end" class="tk">-0.5</text>
<text x="484" y="685.8" text-anchor="end" class="tk">-1.0</text>
<text x="563.9" y="712.3" text-anchor="middle" class="tk">15</text>
<text x="668.6" y="712.3" text-anchor="middle" class="tk">20</text>
<text x="773.4" y="712.3" text-anchor="middle" class="tk">25</text>
<!-- strips -->
<text x="283" y="45.9" text-anchor="middle" class="sy">ε</text>
<text x="642.5" y="44.2" text-anchor="middle" class="sy">ρ</text>
<text x="282.5" y="404.1" text-anchor="middle" class="sy" style="font-size:24px">ξ</text>
<text x="642.6" y="407.1" text-anchor="middle" class="st">b</text>
<!-- axis titles -->
<text x="463" y="745.5" text-anchor="middle" class="ti">Age</text>
<text transform="translate(36.9,372.5) rotate(-90)" text-anchor="middle" class="ti">Parameter value</text>
<text transform="translate(67.6,373) rotate(-90)" text-anchor="middle" class="ti">difference from Hungry/Thirsty</text>
<!-- legends -->
<text x="832" y="232" class="ti">Age group</text>
<circle cx="860.7" cy="273.5" r="6.2" fill="#309200"/>
<circle cx="860.7" cy="320.5" r="6.2" fill="#1D0458"/>
<text x="904" y="282.2" class="lg">Adolescents</text>
<text x="904" y="316.8" class="lg">College</text>
<text x="904" y="342.1" class="lg">students</text>
<text x="832" y="428.8" class="ti">Condition</text>
<path d="M837.6,469.7 H883.8" stroke="#000" stroke-width="2.9" stroke-dasharray="19.8 8.5" fill="none"/>
<path d="M837.6,516.3 H882" stroke="#000" stroke-width="2.9" stroke-dasharray="11.3 11.3" fill="none"/>
<text x="904" y="478.2" class="lg">Dating/Looking</text>
<text x="904" y="524.8" class="lg">Popular/Unpopular</text>
</svg>
</body></html>
